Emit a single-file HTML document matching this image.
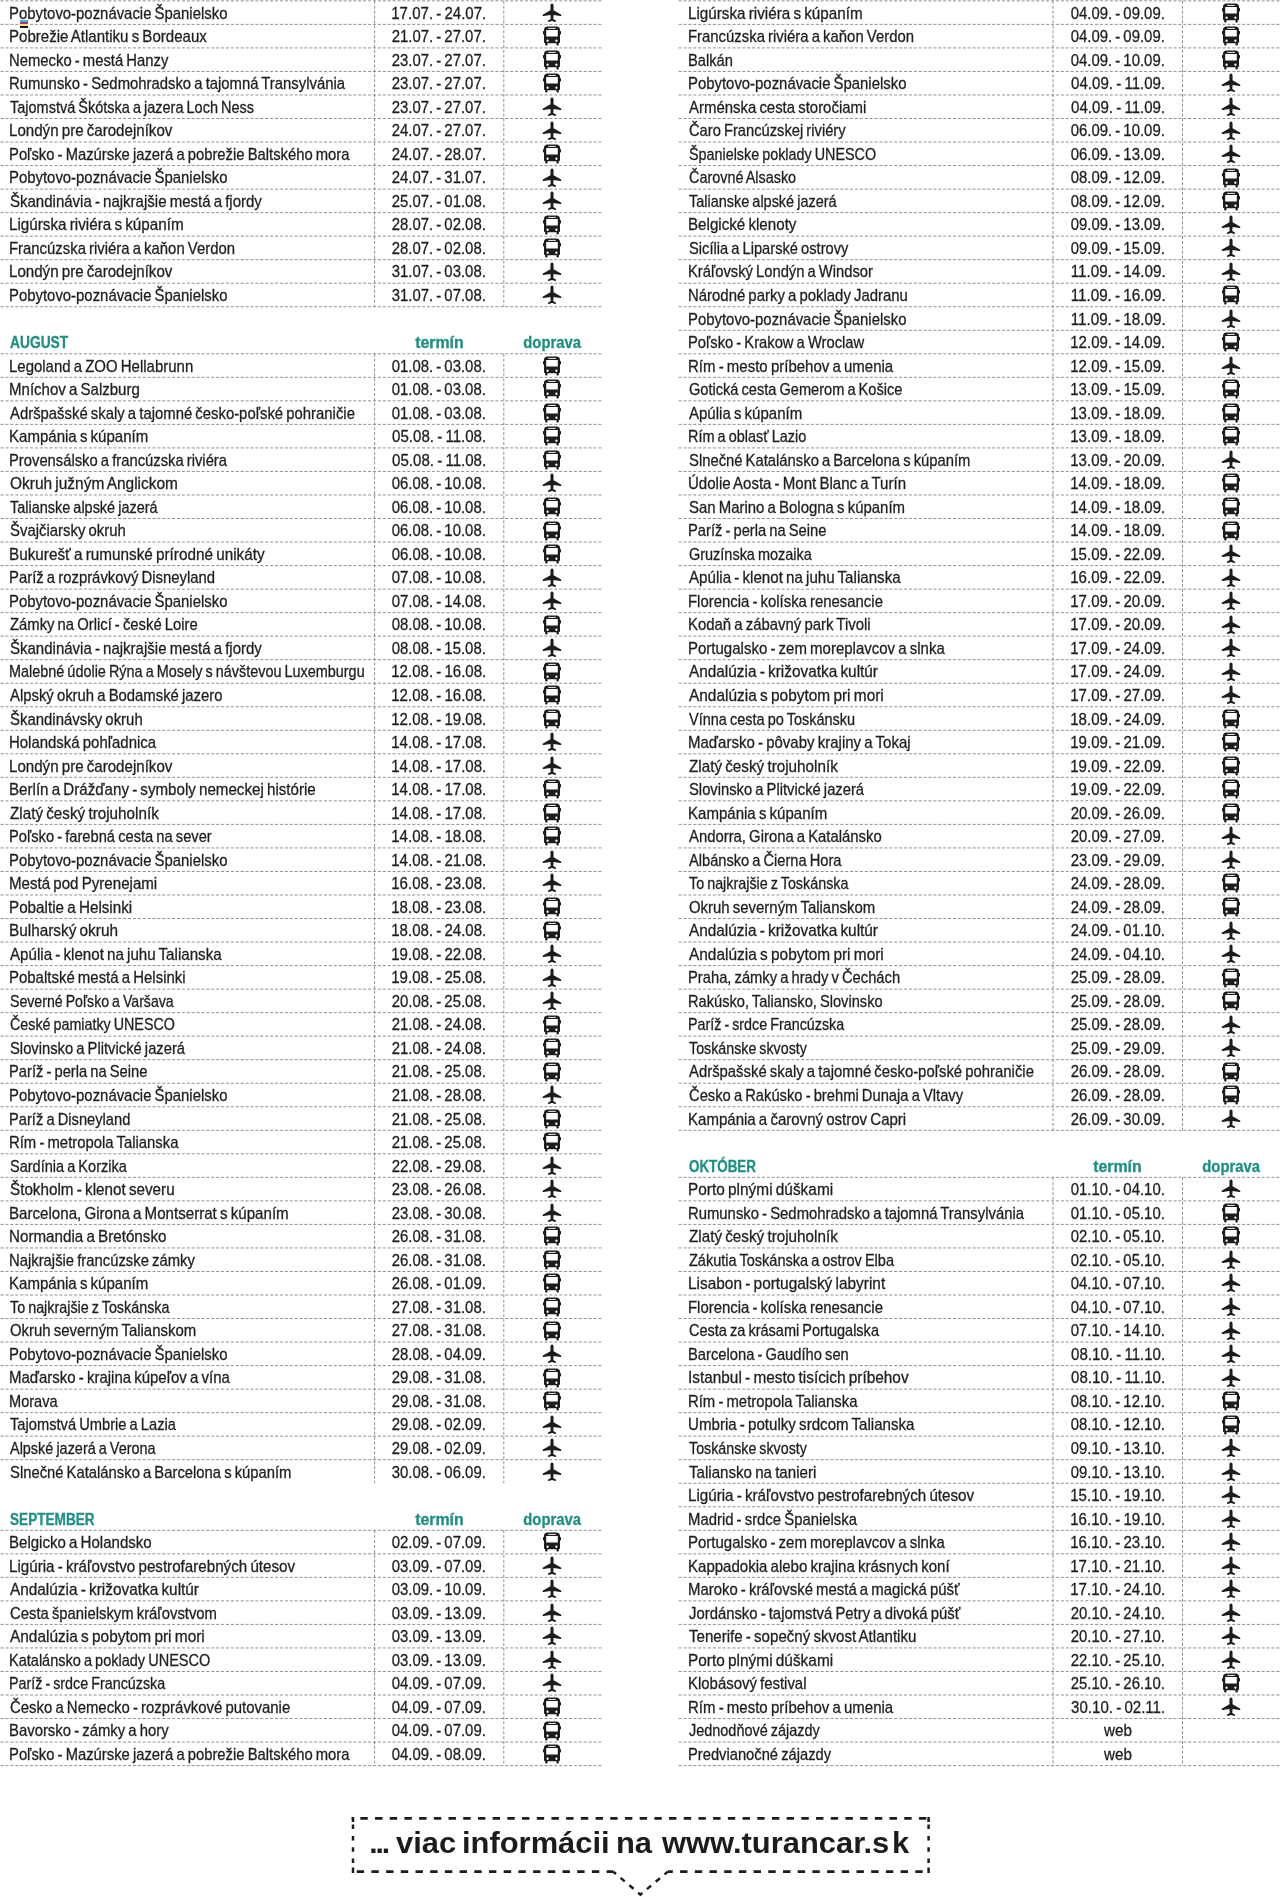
<!DOCTYPE html>
<html lang="sk"><head><meta charset="utf-8"><title>Turancar - termíny zájazdov</title>
<style>
html,body{margin:0;padding:0;background:#fff}
body{width:1280px;height:1897px;position:relative;overflow:hidden;font-family:"Liberation Sans",sans-serif;color:#1f1f1f}
#wrap{position:absolute;left:0;top:0;width:1280px;height:1897px;will-change:transform}
.grid{position:absolute;left:0;top:0;pointer-events:none;fill:none;stroke:#848484;stroke-width:.9;stroke-dasharray:3 1.9}
.row{position:absolute;height:23.53px;display:flex;white-space:nowrap}
.c{height:23.53px;position:relative;box-sizing:border-box;flex:none}
.d,.i{text-align:center}
.L .row{left:-0.8px}
.L .n{width:375.4px;padding-left:10.65px}
.L .d{width:129.2px}
.L .i{width:97.6px}
.R .row{left:678.6px}
.R .n{width:374.4px;padding-left:10.4px}
.R .d{width:129.5px}
.R .i{width:97.9px}

.t{display:inline-block;word-spacing:-1.1px;-webkit-text-stroke:0.3px currentColor;font-size:16.4px;line-height:23.53px;transform-origin:0 50%;position:relative;top:0.8px}
.d .t,.i .t{transform-origin:50% 50%}
.t.h{font-weight:bold;color:#1e8f83;font-size:16.0px;-webkit-text-stroke:.3px currentColor}
.ic{position:absolute;left:50%;top:0;width:20px;height:23.53px;margin-left:-10.2px;fill:#1c1c1c}
.cmyk{position:absolute;left:20px;top:20px;width:8px;height:8px}
.cmyk i{display:block;height:2px}
.banner{position:absolute;left:0;top:0}
.btxt{position:absolute;left:0;top:1823.4px;font-weight:bold;font-size:30px;line-height:40px;white-space:nowrap;color:#1c1c1c}
.btxt span{position:absolute;top:0}
.btxt .dots{left:369.3px;letter-spacing:-2.05px}
.btxt .bw{transform:scaleX(1.03);transform-origin:0 50%}
</style></head>
<body>
<div id="wrap">
<section class="tbl L">
<svg class="grid" width="1280" height="1897" viewBox="0 0 1280 1897"><line x1="601.4" y1="0.85" x2="-0.8" y2="0.85"/><line x1="601.4" y1="24.38" x2="-0.8" y2="24.38"/><line x1="601.4" y1="47.91" x2="-0.8" y2="47.91"/><line x1="601.4" y1="71.44" x2="-0.8" y2="71.44"/><line x1="601.4" y1="94.97" x2="-0.8" y2="94.97"/><line x1="601.4" y1="118.5" x2="-0.8" y2="118.5"/><line x1="601.4" y1="142.03" x2="-0.8" y2="142.03"/><line x1="601.4" y1="165.56" x2="-0.8" y2="165.56"/><line x1="601.4" y1="189.09" x2="-0.8" y2="189.09"/><line x1="601.4" y1="212.62" x2="-0.8" y2="212.62"/><line x1="601.4" y1="236.15" x2="-0.8" y2="236.15"/><line x1="601.4" y1="259.68" x2="-0.8" y2="259.68"/><line x1="601.4" y1="283.21" x2="-0.8" y2="283.21"/><line x1="601.4" y1="306.74" x2="-0.8" y2="306.74"/><line x1="374.6" y1="0.85" x2="374.6" y2="306.74"/><line x1="503.8" y1="0.85" x2="503.8" y2="306.74"/><line x1="601.4" y1="353.8" x2="-0.8" y2="353.8"/><line x1="601.4" y1="377.33" x2="-0.8" y2="377.33"/><line x1="601.4" y1="400.86" x2="-0.8" y2="400.86"/><line x1="601.4" y1="424.39" x2="-0.8" y2="424.39"/><line x1="601.4" y1="447.92" x2="-0.8" y2="447.92"/><line x1="601.4" y1="471.45" x2="-0.8" y2="471.45"/><line x1="601.4" y1="494.98" x2="-0.8" y2="494.98"/><line x1="601.4" y1="518.51" x2="-0.8" y2="518.51"/><line x1="601.4" y1="542.04" x2="-0.8" y2="542.04"/><line x1="601.4" y1="565.57" x2="-0.8" y2="565.57"/><line x1="601.4" y1="589.1" x2="-0.8" y2="589.1"/><line x1="601.4" y1="612.63" x2="-0.8" y2="612.63"/><line x1="601.4" y1="636.16" x2="-0.8" y2="636.16"/><line x1="601.4" y1="659.69" x2="-0.8" y2="659.69"/><line x1="601.4" y1="683.22" x2="-0.8" y2="683.22"/><line x1="601.4" y1="706.75" x2="-0.8" y2="706.75"/><line x1="601.4" y1="730.28" x2="-0.8" y2="730.28"/><line x1="601.4" y1="753.81" x2="-0.8" y2="753.81"/><line x1="601.4" y1="777.34" x2="-0.8" y2="777.34"/><line x1="601.4" y1="800.87" x2="-0.8" y2="800.87"/><line x1="601.4" y1="824.4" x2="-0.8" y2="824.4"/><line x1="601.4" y1="847.93" x2="-0.8" y2="847.93"/><line x1="601.4" y1="871.46" x2="-0.8" y2="871.46"/><line x1="601.4" y1="894.99" x2="-0.8" y2="894.99"/><line x1="601.4" y1="918.52" x2="-0.8" y2="918.52"/><line x1="601.4" y1="942.05" x2="-0.8" y2="942.05"/><line x1="601.4" y1="965.58" x2="-0.8" y2="965.58"/><line x1="601.4" y1="989.11" x2="-0.8" y2="989.11"/><line x1="601.4" y1="1012.64" x2="-0.8" y2="1012.64"/><line x1="601.4" y1="1036.17" x2="-0.8" y2="1036.17"/><line x1="601.4" y1="1059.7" x2="-0.8" y2="1059.7"/><line x1="601.4" y1="1083.23" x2="-0.8" y2="1083.23"/><line x1="601.4" y1="1106.76" x2="-0.8" y2="1106.76"/><line x1="601.4" y1="1130.29" x2="-0.8" y2="1130.29"/><line x1="601.4" y1="1153.82" x2="-0.8" y2="1153.82"/><line x1="601.4" y1="1177.35" x2="-0.8" y2="1177.35"/><line x1="601.4" y1="1200.88" x2="-0.8" y2="1200.88"/><line x1="601.4" y1="1224.41" x2="-0.8" y2="1224.41"/><line x1="601.4" y1="1247.94" x2="-0.8" y2="1247.94"/><line x1="601.4" y1="1271.47" x2="-0.8" y2="1271.47"/><line x1="601.4" y1="1295" x2="-0.8" y2="1295"/><line x1="601.4" y1="1318.53" x2="-0.8" y2="1318.53"/><line x1="601.4" y1="1342.06" x2="-0.8" y2="1342.06"/><line x1="601.4" y1="1365.59" x2="-0.8" y2="1365.59"/><line x1="601.4" y1="1389.12" x2="-0.8" y2="1389.12"/><line x1="601.4" y1="1412.65" x2="-0.8" y2="1412.65"/><line x1="601.4" y1="1436.18" x2="-0.8" y2="1436.18"/><line x1="601.4" y1="1459.71" x2="-0.8" y2="1459.71"/><line x1="374.6" y1="353.8" x2="374.6" y2="1483.24"/><line x1="503.8" y1="353.8" x2="503.8" y2="1483.24"/><line x1="601.4" y1="1530.3" x2="-0.8" y2="1530.3"/><line x1="601.4" y1="1553.83" x2="-0.8" y2="1553.83"/><line x1="601.4" y1="1577.36" x2="-0.8" y2="1577.36"/><line x1="601.4" y1="1600.89" x2="-0.8" y2="1600.89"/><line x1="601.4" y1="1624.42" x2="-0.8" y2="1624.42"/><line x1="601.4" y1="1647.95" x2="-0.8" y2="1647.95"/><line x1="601.4" y1="1671.48" x2="-0.8" y2="1671.48"/><line x1="601.4" y1="1695.01" x2="-0.8" y2="1695.01"/><line x1="601.4" y1="1718.54" x2="-0.8" y2="1718.54"/><line x1="601.4" y1="1742.07" x2="-0.8" y2="1742.07"/><line x1="601.4" y1="1765.6" x2="-0.8" y2="1765.6"/><line x1="374.6" y1="1530.3" x2="374.6" y2="1765.6"/><line x1="503.8" y1="1530.3" x2="503.8" y2="1765.6"/></svg>
<div class="row" style="top:0.85px"><div class="c n"><span class="t" style="transform:scaleX(0.9089);margin-left:-0.91px">Pobytovo-poznávacie Španielsko</span></div><div class="c d"><span class="t" style="transform:scaleX(0.9180)">17.07. - 24.07.</span></div><div class="c i"><svg class="ic" viewBox="0 0 20 23.53"><path transform="translate(0 .3)" d="M10 2.300C10.900 2.300 11.550 3.100 11.550 4.300V8.900L19 13.200C19.600 13.600 19.400 14.950 18.500 14.750L11.550 13.650 11.300 17.600 13.800 19.300C14.300 19.700 14.100 20.900 13.350 20.750L10 19.700 6.650 20.750C5.900 20.900 5.700 19.700 6.200 19.300L8.700 17.600 8.450 13.650 1.500 14.750C.6 14.950.4 13.600 1 13.200L8.450 8.900V4.300C8.450 3.100 9.100 2.300 10 2.300Z"/></svg></div></div>
<div class="row" style="top:24.38px"><div class="c n"><span class="t" style="transform:scaleX(0.9183);margin-left:-0.92px">Pobrežie Atlantiku s Bordeaux</span></div><div class="c d"><span class="t" style="transform:scaleX(0.9091)">21.07. - 27.07.</span></div><div class="c i"><svg class="ic" viewBox="0 0 20 23.53"><path fill-rule="evenodd" d="M5.600 2.400H14.400C16.700 2.400 18 3.700 18 5.600V7H18.500C18.800 7 19 7.200 19 7.500V10C19 10.300 18.800 10.500 18.500 10.500H18V18.100C18 18.800 17.500 19.300 16.800 19.300V20.700C16.800 21.150 16.450 21.500 16 21.500H15.300C14.850 21.500 14.500 21.150 14.500 20.700V19.300H5.500V20.700C5.500 21.150 5.150 21.500 4.700 21.500H4C3.550 21.500 3.200 21.150 3.200 20.700V19.300C2.500 19.300 2 18.800 2 18.100V10.500H1.500C1.200 10.500 1 10.300 1 10V7.500C1 7.200 1.200 7 1.500 7H2V5.600C2 3.700 3.300 2.400 5.600 2.400ZM4.200 6.100H15.800V12.400H4.200ZM5.600 15.600A1.150 1.150 0 1 0 5.600 17.900 1.150 1.150 0 1 0 5.600 15.600ZM14.400 15.600A1.150 1.150 0 1 0 14.400 17.900 1.150 1.150 0 1 0 14.400 15.600Z"/><rect x="6.200" y="3.900" width="7.600" height="1.100" fill="#d8d8d8"/></svg></div></div>
<div class="row" style="top:47.91px"><div class="c n"><span class="t" style="transform:scaleX(0.9047);margin-left:-0.9px">Nemecko - mestá Hanzy</span></div><div class="c d"><span class="t" style="transform:scaleX(0.9091)">23.07. - 27.07.</span></div><div class="c i"><svg class="ic" viewBox="0 0 20 23.53"><path fill-rule="evenodd" d="M5.600 2.400H14.400C16.700 2.400 18 3.700 18 5.600V7H18.500C18.800 7 19 7.200 19 7.500V10C19 10.300 18.800 10.500 18.500 10.500H18V18.100C18 18.800 17.500 19.300 16.800 19.300V20.700C16.800 21.150 16.450 21.500 16 21.500H15.300C14.850 21.500 14.500 21.150 14.500 20.700V19.300H5.500V20.700C5.500 21.150 5.150 21.500 4.700 21.500H4C3.550 21.500 3.200 21.150 3.200 20.700V19.300C2.500 19.300 2 18.800 2 18.100V10.500H1.500C1.200 10.500 1 10.300 1 10V7.500C1 7.200 1.200 7 1.500 7H2V5.600C2 3.700 3.300 2.400 5.600 2.400ZM4.200 6.100H15.800V12.400H4.200ZM5.600 15.600A1.150 1.150 0 1 0 5.600 17.900 1.150 1.150 0 1 0 5.600 15.600ZM14.400 15.600A1.150 1.150 0 1 0 14.400 17.900 1.150 1.150 0 1 0 14.400 15.600Z"/><rect x="6.200" y="3.900" width="7.600" height="1.100" fill="#d8d8d8"/></svg></div></div>
<div class="row" style="top:71.44px"><div class="c n"><span class="t" style="transform:scaleX(0.9062);margin-left:-0.91px">Rumunsko - Sedmohradsko a tajomná Transylvánia</span></div><div class="c d"><span class="t" style="transform:scaleX(0.9091)">23.07. - 27.07.</span></div><div class="c i"><svg class="ic" viewBox="0 0 20 23.53"><path fill-rule="evenodd" d="M5.600 2.400H14.400C16.700 2.400 18 3.700 18 5.600V7H18.500C18.800 7 19 7.200 19 7.500V10C19 10.300 18.800 10.500 18.500 10.500H18V18.100C18 18.800 17.500 19.300 16.800 19.300V20.700C16.800 21.150 16.450 21.500 16 21.500H15.300C14.850 21.500 14.500 21.150 14.500 20.700V19.300H5.500V20.700C5.500 21.150 5.150 21.500 4.700 21.500H4C3.550 21.500 3.200 21.150 3.200 20.700V19.300C2.500 19.300 2 18.800 2 18.100V10.500H1.500C1.200 10.500 1 10.300 1 10V7.500C1 7.200 1.200 7 1.500 7H2V5.600C2 3.700 3.300 2.400 5.600 2.400ZM4.200 6.100H15.800V12.400H4.200ZM5.600 15.600A1.150 1.150 0 1 0 5.600 17.900 1.150 1.150 0 1 0 5.600 15.600ZM14.400 15.600A1.150 1.150 0 1 0 14.400 17.900 1.150 1.150 0 1 0 14.400 15.600Z"/><rect x="6.200" y="3.900" width="7.600" height="1.100" fill="#d8d8d8"/></svg></div></div>
<div class="row" style="top:94.97px"><div class="c n"><span class="t" style="transform:scaleX(0.8843);margin-left:0px">Tajomstvá Škótska a jazera Loch Ness</span></div><div class="c d"><span class="t" style="transform:scaleX(0.9091)">23.07. - 27.07.</span></div><div class="c i"><svg class="ic" viewBox="0 0 20 23.53"><path transform="translate(0 .3)" d="M10 2.300C10.900 2.300 11.550 3.100 11.550 4.300V8.900L19 13.200C19.600 13.600 19.400 14.950 18.500 14.750L11.550 13.650 11.300 17.600 13.800 19.300C14.300 19.700 14.100 20.900 13.350 20.750L10 19.700 6.650 20.750C5.900 20.900 5.700 19.700 6.200 19.300L8.700 17.600 8.450 13.650 1.500 14.750C.6 14.950.4 13.600 1 13.200L8.450 8.900V4.300C8.450 3.100 9.100 2.300 10 2.300Z"/></svg></div></div>
<div class="row" style="top:118.5px"><div class="c n"><span class="t" style="transform:scaleX(0.9214);margin-left:-0.92px">Londýn pre čarodejníkov</span></div><div class="c d"><span class="t" style="transform:scaleX(0.9091)">24.07. - 27.07.</span></div><div class="c i"><svg class="ic" viewBox="0 0 20 23.53"><path transform="translate(0 .3)" d="M10 2.300C10.900 2.300 11.550 3.100 11.550 4.300V8.900L19 13.200C19.600 13.600 19.400 14.950 18.500 14.750L11.550 13.650 11.300 17.600 13.800 19.300C14.300 19.700 14.100 20.900 13.350 20.750L10 19.700 6.650 20.750C5.900 20.900 5.700 19.700 6.200 19.300L8.700 17.600 8.450 13.650 1.500 14.750C.6 14.950.4 13.600 1 13.200L8.450 8.900V4.300C8.450 3.100 9.100 2.300 10 2.300Z"/></svg></div></div>
<div class="row" style="top:142.03px"><div class="c n"><span class="t" style="transform:scaleX(0.9033);margin-left:-0.9px">Poľsko - Mazúrske jazerá a pobrežie Baltského mora</span></div><div class="c d"><span class="t" style="transform:scaleX(0.9091)">24.07. - 28.07.</span></div><div class="c i"><svg class="ic" viewBox="0 0 20 23.53"><path fill-rule="evenodd" d="M5.600 2.400H14.400C16.700 2.400 18 3.700 18 5.600V7H18.500C18.800 7 19 7.200 19 7.500V10C19 10.300 18.800 10.500 18.500 10.500H18V18.100C18 18.800 17.500 19.300 16.800 19.300V20.700C16.800 21.150 16.450 21.500 16 21.500H15.300C14.850 21.500 14.500 21.150 14.500 20.700V19.300H5.500V20.700C5.500 21.150 5.150 21.500 4.700 21.500H4C3.550 21.500 3.200 21.150 3.200 20.700V19.300C2.500 19.300 2 18.800 2 18.100V10.500H1.500C1.200 10.500 1 10.300 1 10V7.500C1 7.200 1.200 7 1.500 7H2V5.600C2 3.700 3.300 2.400 5.600 2.400ZM4.200 6.100H15.800V12.400H4.200ZM5.600 15.600A1.150 1.150 0 1 0 5.600 17.900 1.150 1.150 0 1 0 5.600 15.600ZM14.400 15.600A1.150 1.150 0 1 0 14.400 17.900 1.150 1.150 0 1 0 14.400 15.600Z"/><rect x="6.200" y="3.900" width="7.600" height="1.100" fill="#d8d8d8"/></svg></div></div>
<div class="row" style="top:165.56px"><div class="c n"><span class="t" style="transform:scaleX(0.9089);margin-left:-0.91px">Pobytovo-poznávacie Španielsko</span></div><div class="c d"><span class="t" style="transform:scaleX(0.9091)">24.07. - 31.07.</span></div><div class="c i"><svg class="ic" viewBox="0 0 20 23.53"><path transform="translate(0 .3)" d="M10 2.300C10.900 2.300 11.550 3.100 11.550 4.300V8.900L19 13.200C19.600 13.600 19.400 14.950 18.500 14.750L11.550 13.650 11.300 17.600 13.800 19.300C14.300 19.700 14.100 20.900 13.350 20.750L10 19.700 6.650 20.750C5.900 20.900 5.700 19.700 6.200 19.300L8.700 17.600 8.450 13.650 1.500 14.750C.6 14.950.4 13.600 1 13.200L8.450 8.900V4.300C8.450 3.100 9.100 2.300 10 2.300Z"/></svg></div></div>
<div class="row" style="top:189.09px"><div class="c n"><span class="t" style="transform:scaleX(0.9156);margin-left:0px">Škandinávia - najkrajšie mestá a fjordy</span></div><div class="c d"><span class="t" style="transform:scaleX(0.9091)">25.07. - 01.08.</span></div><div class="c i"><svg class="ic" viewBox="0 0 20 23.53"><path transform="translate(0 .3)" d="M10 2.300C10.900 2.300 11.550 3.100 11.550 4.300V8.900L19 13.200C19.600 13.600 19.400 14.950 18.500 14.750L11.550 13.650 11.300 17.600 13.800 19.300C14.300 19.700 14.100 20.900 13.350 20.750L10 19.700 6.650 20.750C5.900 20.900 5.700 19.700 6.200 19.300L8.700 17.600 8.450 13.650 1.500 14.750C.6 14.950.4 13.600 1 13.200L8.450 8.900V4.300C8.450 3.100 9.100 2.300 10 2.300Z"/></svg></div></div>
<div class="row" style="top:212.62px"><div class="c n"><span class="t" style="transform:scaleX(0.9286);margin-left:-0.93px">Ligúrska riviéra s kúpaním</span></div><div class="c d"><span class="t" style="transform:scaleX(0.9091)">28.07. - 02.08.</span></div><div class="c i"><svg class="ic" viewBox="0 0 20 23.53"><path fill-rule="evenodd" d="M5.600 2.400H14.400C16.700 2.400 18 3.700 18 5.600V7H18.500C18.800 7 19 7.200 19 7.500V10C19 10.300 18.800 10.500 18.500 10.500H18V18.100C18 18.800 17.500 19.300 16.800 19.300V20.700C16.800 21.150 16.450 21.500 16 21.500H15.300C14.850 21.500 14.500 21.150 14.500 20.700V19.300H5.500V20.700C5.500 21.150 5.150 21.500 4.700 21.500H4C3.550 21.500 3.200 21.150 3.200 20.700V19.300C2.500 19.300 2 18.800 2 18.100V10.500H1.500C1.200 10.500 1 10.300 1 10V7.500C1 7.200 1.200 7 1.500 7H2V5.600C2 3.700 3.300 2.400 5.600 2.400ZM4.200 6.100H15.800V12.400H4.200ZM5.600 15.600A1.150 1.150 0 1 0 5.600 17.900 1.150 1.150 0 1 0 5.600 15.600ZM14.400 15.600A1.150 1.150 0 1 0 14.400 17.900 1.150 1.150 0 1 0 14.400 15.600Z"/><rect x="6.200" y="3.900" width="7.600" height="1.100" fill="#d8d8d8"/></svg></div></div>
<div class="row" style="top:236.15px"><div class="c n"><span class="t" style="transform:scaleX(0.9079);margin-left:-0.91px">Francúzska riviéra a kaňon Verdon</span></div><div class="c d"><span class="t" style="transform:scaleX(0.9091)">28.07. - 02.08.</span></div><div class="c i"><svg class="ic" viewBox="0 0 20 23.53"><path fill-rule="evenodd" d="M5.600 2.400H14.400C16.700 2.400 18 3.700 18 5.600V7H18.500C18.800 7 19 7.200 19 7.500V10C19 10.300 18.800 10.500 18.500 10.500H18V18.100C18 18.800 17.500 19.300 16.800 19.300V20.700C16.800 21.150 16.450 21.500 16 21.500H15.300C14.850 21.500 14.500 21.150 14.500 20.700V19.300H5.500V20.700C5.500 21.150 5.150 21.500 4.700 21.500H4C3.550 21.500 3.200 21.150 3.200 20.700V19.300C2.500 19.300 2 18.800 2 18.100V10.500H1.500C1.200 10.500 1 10.300 1 10V7.500C1 7.200 1.200 7 1.500 7H2V5.600C2 3.700 3.300 2.400 5.600 2.400ZM4.200 6.100H15.800V12.400H4.200ZM5.600 15.600A1.150 1.150 0 1 0 5.600 17.900 1.150 1.150 0 1 0 5.600 15.600ZM14.400 15.600A1.150 1.150 0 1 0 14.400 17.900 1.150 1.150 0 1 0 14.400 15.600Z"/><rect x="6.200" y="3.900" width="7.600" height="1.100" fill="#d8d8d8"/></svg></div></div>
<div class="row" style="top:259.68px"><div class="c n"><span class="t" style="transform:scaleX(0.9214);margin-left:-0.92px">Londýn pre čarodejníkov</span></div><div class="c d"><span class="t" style="transform:scaleX(0.9091)">31.07. - 03.08.</span></div><div class="c i"><svg class="ic" viewBox="0 0 20 23.53"><path transform="translate(0 .3)" d="M10 2.300C10.900 2.300 11.550 3.100 11.550 4.300V8.900L19 13.200C19.600 13.600 19.400 14.950 18.500 14.750L11.550 13.650 11.300 17.600 13.800 19.300C14.300 19.700 14.100 20.900 13.350 20.750L10 19.700 6.650 20.750C5.900 20.900 5.700 19.700 6.200 19.300L8.700 17.600 8.450 13.650 1.500 14.750C.6 14.950.4 13.600 1 13.200L8.450 8.900V4.300C8.450 3.100 9.100 2.300 10 2.300Z"/></svg></div></div>
<div class="row" style="top:283.21px"><div class="c n"><span class="t" style="transform:scaleX(0.9089);margin-left:-0.91px">Pobytovo-poznávacie Španielsko</span></div><div class="c d"><span class="t" style="transform:scaleX(0.9091)">31.07. - 07.08.</span></div><div class="c i"><svg class="ic" viewBox="0 0 20 23.53"><path transform="translate(0 .3)" d="M10 2.300C10.900 2.300 11.550 3.100 11.550 4.300V8.900L19 13.200C19.600 13.600 19.400 14.950 18.500 14.750L11.550 13.650 11.300 17.600 13.800 19.300C14.300 19.700 14.100 20.900 13.350 20.750L10 19.700 6.650 20.750C5.900 20.900 5.700 19.700 6.200 19.300L8.700 17.600 8.450 13.650 1.500 14.750C.6 14.950.4 13.600 1 13.200L8.450 8.900V4.300C8.450 3.100 9.100 2.300 10 2.300Z"/></svg></div></div>
<div class="row hd" style="top:330.27px"><div class="c n"><span class="t h" style="transform:scaleX(0.8615);margin-left:0px">AUGUST</span></div><div class="c d"><span class="t h" style="transform:scaleX(0.9931)">termín</span></div><div class="c i"><span class="t h" style="transform:scaleX(0.9270)">doprava</span></div></div>
<div class="row" style="top:353.8px"><div class="c n"><span class="t" style="transform:scaleX(0.9132);margin-left:-0.91px">Legoland a ZOO Hellabrunn</span></div><div class="c d"><span class="t" style="transform:scaleX(0.9091)">01.08. - 03.08.</span></div><div class="c i"><svg class="ic" viewBox="0 0 20 23.53"><path fill-rule="evenodd" d="M5.600 2.400H14.400C16.700 2.400 18 3.700 18 5.600V7H18.500C18.800 7 19 7.200 19 7.500V10C19 10.300 18.800 10.500 18.500 10.500H18V18.100C18 18.800 17.500 19.300 16.800 19.300V20.700C16.800 21.150 16.450 21.500 16 21.500H15.300C14.850 21.500 14.500 21.150 14.500 20.700V19.300H5.500V20.700C5.500 21.150 5.150 21.500 4.700 21.500H4C3.550 21.500 3.200 21.150 3.200 20.700V19.300C2.500 19.300 2 18.800 2 18.100V10.500H1.500C1.200 10.500 1 10.300 1 10V7.500C1 7.200 1.200 7 1.500 7H2V5.600C2 3.700 3.300 2.400 5.600 2.400ZM4.200 6.100H15.800V12.400H4.200ZM5.600 15.600A1.150 1.150 0 1 0 5.600 17.900 1.150 1.150 0 1 0 5.600 15.600ZM14.400 15.600A1.150 1.150 0 1 0 14.400 17.900 1.150 1.150 0 1 0 14.400 15.600Z"/><rect x="6.200" y="3.900" width="7.600" height="1.100" fill="#d8d8d8"/></svg></div></div>
<div class="row" style="top:377.33px"><div class="c n"><span class="t" style="transform:scaleX(0.9170);margin-left:-0.92px">Mníchov a Salzburg</span></div><div class="c d"><span class="t" style="transform:scaleX(0.9091)">01.08. - 03.08.</span></div><div class="c i"><svg class="ic" viewBox="0 0 20 23.53"><path fill-rule="evenodd" d="M5.600 2.400H14.400C16.700 2.400 18 3.700 18 5.600V7H18.500C18.800 7 19 7.200 19 7.500V10C19 10.300 18.800 10.500 18.500 10.500H18V18.100C18 18.800 17.500 19.300 16.800 19.300V20.700C16.800 21.150 16.450 21.500 16 21.500H15.300C14.850 21.500 14.500 21.150 14.500 20.700V19.300H5.500V20.700C5.500 21.150 5.150 21.500 4.700 21.500H4C3.550 21.500 3.200 21.150 3.200 20.700V19.300C2.500 19.300 2 18.800 2 18.100V10.500H1.500C1.200 10.500 1 10.300 1 10V7.500C1 7.200 1.200 7 1.500 7H2V5.600C2 3.700 3.300 2.400 5.600 2.400ZM4.200 6.100H15.800V12.400H4.200ZM5.600 15.600A1.150 1.150 0 1 0 5.600 17.900 1.150 1.150 0 1 0 5.600 15.600ZM14.400 15.600A1.150 1.150 0 1 0 14.400 17.900 1.150 1.150 0 1 0 14.400 15.600Z"/><rect x="6.200" y="3.900" width="7.600" height="1.100" fill="#d8d8d8"/></svg></div></div>
<div class="row" style="top:400.86px"><div class="c n"><span class="t" style="transform:scaleX(0.9074);margin-left:0px">Adršpašské skaly a tajomné česko-poľské pohraničie</span></div><div class="c d"><span class="t" style="transform:scaleX(0.9091)">01.08. - 03.08.</span></div><div class="c i"><svg class="ic" viewBox="0 0 20 23.53"><path fill-rule="evenodd" d="M5.600 2.400H14.400C16.700 2.400 18 3.700 18 5.600V7H18.500C18.800 7 19 7.200 19 7.500V10C19 10.300 18.800 10.500 18.500 10.500H18V18.100C18 18.800 17.500 19.300 16.800 19.300V20.700C16.800 21.150 16.450 21.500 16 21.500H15.300C14.850 21.500 14.500 21.150 14.500 20.700V19.300H5.500V20.700C5.500 21.150 5.150 21.500 4.700 21.500H4C3.550 21.500 3.200 21.150 3.200 20.700V19.300C2.500 19.300 2 18.800 2 18.100V10.500H1.500C1.200 10.500 1 10.300 1 10V7.500C1 7.200 1.200 7 1.500 7H2V5.600C2 3.700 3.300 2.400 5.600 2.400ZM4.200 6.100H15.800V12.400H4.200ZM5.600 15.600A1.150 1.150 0 1 0 5.600 17.900 1.150 1.150 0 1 0 5.600 15.600ZM14.400 15.600A1.150 1.150 0 1 0 14.400 17.900 1.150 1.150 0 1 0 14.400 15.600Z"/><rect x="6.200" y="3.900" width="7.600" height="1.100" fill="#d8d8d8"/></svg></div></div>
<div class="row" style="top:424.39px"><div class="c n"><span class="t" style="transform:scaleX(0.9176);margin-left:-0.92px">Kampánia s kúpaním</span></div><div class="c d"><span class="t" style="transform:scaleX(0.9200)">05.08. - 11.08.</span></div><div class="c i"><svg class="ic" viewBox="0 0 20 23.53"><path fill-rule="evenodd" d="M5.600 2.400H14.400C16.700 2.400 18 3.700 18 5.600V7H18.500C18.800 7 19 7.200 19 7.500V10C19 10.300 18.800 10.500 18.500 10.500H18V18.100C18 18.800 17.500 19.300 16.800 19.300V20.700C16.800 21.150 16.450 21.500 16 21.500H15.300C14.850 21.500 14.500 21.150 14.500 20.700V19.300H5.500V20.700C5.500 21.150 5.150 21.500 4.700 21.500H4C3.550 21.500 3.200 21.150 3.200 20.700V19.300C2.500 19.300 2 18.800 2 18.100V10.500H1.500C1.200 10.500 1 10.300 1 10V7.500C1 7.200 1.200 7 1.500 7H2V5.600C2 3.700 3.300 2.400 5.600 2.400ZM4.200 6.100H15.800V12.400H4.200ZM5.600 15.600A1.150 1.150 0 1 0 5.600 17.900 1.150 1.150 0 1 0 5.600 15.600ZM14.400 15.600A1.150 1.150 0 1 0 14.400 17.900 1.150 1.150 0 1 0 14.400 15.600Z"/><rect x="6.200" y="3.900" width="7.600" height="1.100" fill="#d8d8d8"/></svg></div></div>
<div class="row" style="top:447.92px"><div class="c n"><span class="t" style="transform:scaleX(0.9017);margin-left:-0.9px">Provensálsko a francúzska riviéra</span></div><div class="c d"><span class="t" style="transform:scaleX(0.9200)">05.08. - 11.08.</span></div><div class="c i"><svg class="ic" viewBox="0 0 20 23.53"><path fill-rule="evenodd" d="M5.600 2.400H14.400C16.700 2.400 18 3.700 18 5.600V7H18.500C18.800 7 19 7.200 19 7.500V10C19 10.300 18.800 10.500 18.500 10.500H18V18.100C18 18.800 17.500 19.300 16.800 19.300V20.700C16.800 21.150 16.450 21.500 16 21.500H15.300C14.850 21.500 14.500 21.150 14.500 20.700V19.300H5.500V20.700C5.500 21.150 5.150 21.500 4.700 21.500H4C3.550 21.500 3.200 21.150 3.200 20.700V19.300C2.500 19.300 2 18.800 2 18.100V10.500H1.500C1.200 10.500 1 10.300 1 10V7.500C1 7.200 1.200 7 1.500 7H2V5.600C2 3.700 3.300 2.400 5.600 2.400ZM4.200 6.100H15.800V12.400H4.200ZM5.600 15.600A1.150 1.150 0 1 0 5.600 17.900 1.150 1.150 0 1 0 5.600 15.600ZM14.400 15.600A1.150 1.150 0 1 0 14.400 17.900 1.150 1.150 0 1 0 14.400 15.600Z"/><rect x="6.200" y="3.900" width="7.600" height="1.100" fill="#d8d8d8"/></svg></div></div>
<div class="row" style="top:471.45px"><div class="c n"><span class="t" style="transform:scaleX(0.9424);margin-left:0px">Okruh južným Anglickom</span></div><div class="c d"><span class="t" style="transform:scaleX(0.9091)">06.08. - 10.08.</span></div><div class="c i"><svg class="ic" viewBox="0 0 20 23.53"><path transform="translate(0 .3)" d="M10 2.300C10.900 2.300 11.550 3.100 11.550 4.300V8.900L19 13.200C19.600 13.600 19.400 14.950 18.500 14.750L11.550 13.650 11.300 17.600 13.800 19.300C14.300 19.700 14.100 20.900 13.350 20.750L10 19.700 6.650 20.750C5.900 20.900 5.700 19.700 6.200 19.300L8.700 17.600 8.450 13.650 1.500 14.750C.6 14.950.4 13.600 1 13.200L8.450 8.900V4.300C8.450 3.100 9.100 2.300 10 2.300Z"/></svg></div></div>
<div class="row" style="top:494.98px"><div class="c n"><span class="t" style="transform:scaleX(0.8824);margin-left:0px">Talianske alpské jazerá</span></div><div class="c d"><span class="t" style="transform:scaleX(0.9091)">06.08. - 10.08.</span></div><div class="c i"><svg class="ic" viewBox="0 0 20 23.53"><path fill-rule="evenodd" d="M5.600 2.400H14.400C16.700 2.400 18 3.700 18 5.600V7H18.500C18.800 7 19 7.200 19 7.500V10C19 10.300 18.800 10.500 18.500 10.500H18V18.100C18 18.800 17.500 19.300 16.800 19.300V20.700C16.800 21.150 16.450 21.500 16 21.500H15.300C14.850 21.500 14.500 21.150 14.500 20.700V19.300H5.500V20.700C5.500 21.150 5.150 21.500 4.700 21.500H4C3.550 21.500 3.200 21.150 3.200 20.700V19.300C2.500 19.300 2 18.800 2 18.100V10.500H1.500C1.200 10.500 1 10.300 1 10V7.500C1 7.200 1.200 7 1.500 7H2V5.600C2 3.700 3.300 2.400 5.600 2.400ZM4.200 6.100H15.800V12.400H4.200ZM5.600 15.600A1.150 1.150 0 1 0 5.600 17.900 1.150 1.150 0 1 0 5.600 15.600ZM14.400 15.600A1.150 1.150 0 1 0 14.400 17.900 1.150 1.150 0 1 0 14.400 15.600Z"/><rect x="6.200" y="3.900" width="7.600" height="1.100" fill="#d8d8d8"/></svg></div></div>
<div class="row" style="top:518.51px"><div class="c n"><span class="t" style="transform:scaleX(0.9094);margin-left:0px">Švajčiarsky okruh</span></div><div class="c d"><span class="t" style="transform:scaleX(0.9091)">06.08. - 10.08.</span></div><div class="c i"><svg class="ic" viewBox="0 0 20 23.53"><path fill-rule="evenodd" d="M5.600 2.400H14.400C16.700 2.400 18 3.700 18 5.600V7H18.500C18.800 7 19 7.200 19 7.500V10C19 10.300 18.800 10.500 18.500 10.500H18V18.100C18 18.800 17.500 19.300 16.800 19.300V20.700C16.800 21.150 16.450 21.500 16 21.500H15.300C14.850 21.500 14.500 21.150 14.500 20.700V19.300H5.500V20.700C5.500 21.150 5.150 21.500 4.700 21.500H4C3.550 21.500 3.200 21.150 3.200 20.700V19.300C2.500 19.300 2 18.800 2 18.100V10.500H1.500C1.200 10.500 1 10.300 1 10V7.500C1 7.200 1.200 7 1.500 7H2V5.600C2 3.700 3.300 2.400 5.600 2.400ZM4.200 6.100H15.800V12.400H4.200ZM5.600 15.600A1.150 1.150 0 1 0 5.600 17.900 1.150 1.150 0 1 0 5.600 15.600ZM14.400 15.600A1.150 1.150 0 1 0 14.400 17.900 1.150 1.150 0 1 0 14.400 15.600Z"/><rect x="6.200" y="3.900" width="7.600" height="1.100" fill="#d8d8d8"/></svg></div></div>
<div class="row" style="top:542.04px"><div class="c n"><span class="t" style="transform:scaleX(0.9322);margin-left:-0.93px">Bukurešť a rumunské prírodné unikáty</span></div><div class="c d"><span class="t" style="transform:scaleX(0.9091)">06.08. - 10.08.</span></div><div class="c i"><svg class="ic" viewBox="0 0 20 23.53"><path fill-rule="evenodd" d="M5.600 2.400H14.400C16.700 2.400 18 3.700 18 5.600V7H18.500C18.800 7 19 7.200 19 7.500V10C19 10.300 18.800 10.500 18.500 10.500H18V18.100C18 18.800 17.500 19.300 16.800 19.300V20.700C16.800 21.150 16.450 21.500 16 21.500H15.300C14.850 21.500 14.500 21.150 14.500 20.700V19.300H5.500V20.700C5.500 21.150 5.150 21.500 4.700 21.500H4C3.550 21.500 3.200 21.150 3.200 20.700V19.300C2.500 19.300 2 18.800 2 18.100V10.500H1.500C1.200 10.500 1 10.300 1 10V7.500C1 7.200 1.200 7 1.500 7H2V5.600C2 3.700 3.300 2.400 5.600 2.400ZM4.200 6.100H15.800V12.400H4.200ZM5.600 15.600A1.150 1.150 0 1 0 5.600 17.900 1.150 1.150 0 1 0 5.600 15.600ZM14.400 15.600A1.150 1.150 0 1 0 14.400 17.900 1.150 1.150 0 1 0 14.400 15.600Z"/><rect x="6.200" y="3.900" width="7.600" height="1.100" fill="#d8d8d8"/></svg></div></div>
<div class="row" style="top:565.57px"><div class="c n"><span class="t" style="transform:scaleX(0.9072);margin-left:-0.91px">Paríž a rozprávkový Disneyland</span></div><div class="c d"><span class="t" style="transform:scaleX(0.9091)">07.08. - 10.08.</span></div><div class="c i"><svg class="ic" viewBox="0 0 20 23.53"><path transform="translate(0 .3)" d="M10 2.300C10.900 2.300 11.550 3.100 11.550 4.300V8.900L19 13.200C19.600 13.600 19.400 14.950 18.500 14.750L11.550 13.650 11.300 17.600 13.800 19.300C14.300 19.700 14.100 20.900 13.350 20.750L10 19.700 6.650 20.750C5.900 20.900 5.700 19.700 6.200 19.300L8.700 17.600 8.450 13.650 1.500 14.750C.6 14.950.4 13.600 1 13.200L8.450 8.900V4.300C8.450 3.100 9.100 2.300 10 2.300Z"/></svg></div></div>
<div class="row" style="top:589.1px"><div class="c n"><span class="t" style="transform:scaleX(0.9089);margin-left:-0.91px">Pobytovo-poznávacie Španielsko</span></div><div class="c d"><span class="t" style="transform:scaleX(0.9091)">07.08. - 14.08.</span></div><div class="c i"><svg class="ic" viewBox="0 0 20 23.53"><path transform="translate(0 .3)" d="M10 2.300C10.900 2.300 11.550 3.100 11.550 4.300V8.900L19 13.200C19.600 13.600 19.400 14.950 18.500 14.750L11.550 13.650 11.300 17.600 13.800 19.300C14.300 19.700 14.100 20.900 13.350 20.750L10 19.700 6.650 20.750C5.900 20.900 5.700 19.700 6.200 19.300L8.700 17.600 8.450 13.650 1.500 14.750C.6 14.950.4 13.600 1 13.200L8.450 8.900V4.300C8.450 3.100 9.100 2.300 10 2.300Z"/></svg></div></div>
<div class="row" style="top:612.63px"><div class="c n"><span class="t" style="transform:scaleX(0.9040);margin-left:0px">Zámky na Orlicí - české Loire</span></div><div class="c d"><span class="t" style="transform:scaleX(0.9091)">08.08. - 10.08.</span></div><div class="c i"><svg class="ic" viewBox="0 0 20 23.53"><path fill-rule="evenodd" d="M5.600 2.400H14.400C16.700 2.400 18 3.700 18 5.600V7H18.500C18.800 7 19 7.200 19 7.500V10C19 10.300 18.800 10.500 18.500 10.500H18V18.100C18 18.800 17.500 19.300 16.800 19.300V20.700C16.800 21.150 16.450 21.500 16 21.500H15.300C14.850 21.500 14.500 21.150 14.500 20.700V19.300H5.500V20.700C5.500 21.150 5.150 21.500 4.700 21.500H4C3.550 21.500 3.200 21.150 3.200 20.700V19.300C2.500 19.300 2 18.800 2 18.100V10.500H1.500C1.200 10.500 1 10.300 1 10V7.500C1 7.200 1.200 7 1.500 7H2V5.600C2 3.700 3.300 2.400 5.600 2.400ZM4.200 6.100H15.800V12.400H4.200ZM5.600 15.600A1.150 1.150 0 1 0 5.600 17.900 1.150 1.150 0 1 0 5.600 15.600ZM14.400 15.600A1.150 1.150 0 1 0 14.400 17.900 1.150 1.150 0 1 0 14.400 15.600Z"/><rect x="6.200" y="3.900" width="7.600" height="1.100" fill="#d8d8d8"/></svg></div></div>
<div class="row" style="top:636.16px"><div class="c n"><span class="t" style="transform:scaleX(0.9156);margin-left:0px">Škandinávia - najkrajšie mestá a fjordy</span></div><div class="c d"><span class="t" style="transform:scaleX(0.9091)">08.08. - 15.08.</span></div><div class="c i"><svg class="ic" viewBox="0 0 20 23.53"><path transform="translate(0 .3)" d="M10 2.300C10.900 2.300 11.550 3.100 11.550 4.300V8.900L19 13.200C19.600 13.600 19.400 14.950 18.500 14.750L11.550 13.650 11.300 17.600 13.800 19.300C14.300 19.700 14.100 20.900 13.350 20.750L10 19.700 6.650 20.750C5.900 20.900 5.700 19.700 6.200 19.300L8.700 17.600 8.450 13.650 1.500 14.750C.6 14.950.4 13.600 1 13.200L8.450 8.900V4.300C8.450 3.100 9.100 2.300 10 2.300Z"/></svg></div></div>
<div class="row" style="top:659.69px"><div class="c n"><span class="t" style="transform:scaleX(0.8801);margin-left:-0.88px">Malebné údolie Rýna a Mosely s návštevou Luxemburgu</span></div><div class="c d"><span class="t" style="transform:scaleX(0.9180)">12.08. - 16.08.</span></div><div class="c i"><svg class="ic" viewBox="0 0 20 23.53"><path fill-rule="evenodd" d="M5.600 2.400H14.400C16.700 2.400 18 3.700 18 5.600V7H18.500C18.800 7 19 7.200 19 7.500V10C19 10.300 18.800 10.500 18.500 10.500H18V18.100C18 18.800 17.500 19.300 16.800 19.300V20.700C16.800 21.150 16.450 21.500 16 21.500H15.300C14.850 21.500 14.500 21.150 14.500 20.700V19.300H5.500V20.700C5.500 21.150 5.150 21.500 4.700 21.500H4C3.550 21.500 3.200 21.150 3.200 20.700V19.300C2.500 19.300 2 18.800 2 18.100V10.500H1.500C1.200 10.500 1 10.300 1 10V7.500C1 7.200 1.200 7 1.500 7H2V5.600C2 3.700 3.300 2.400 5.600 2.400ZM4.200 6.100H15.800V12.400H4.200ZM5.600 15.600A1.150 1.150 0 1 0 5.600 17.900 1.150 1.150 0 1 0 5.600 15.600ZM14.400 15.600A1.150 1.150 0 1 0 14.400 17.900 1.150 1.150 0 1 0 14.400 15.600Z"/><rect x="6.200" y="3.900" width="7.600" height="1.100" fill="#d8d8d8"/></svg></div></div>
<div class="row" style="top:683.22px"><div class="c n"><span class="t" style="transform:scaleX(0.9070);margin-left:0px">Alpský okruh a Bodamské jazero</span></div><div class="c d"><span class="t" style="transform:scaleX(0.9180)">12.08. - 16.08.</span></div><div class="c i"><svg class="ic" viewBox="0 0 20 23.53"><path fill-rule="evenodd" d="M5.600 2.400H14.400C16.700 2.400 18 3.700 18 5.600V7H18.500C18.800 7 19 7.200 19 7.500V10C19 10.300 18.800 10.500 18.500 10.500H18V18.100C18 18.800 17.500 19.300 16.800 19.300V20.700C16.800 21.150 16.450 21.500 16 21.500H15.300C14.850 21.500 14.500 21.150 14.500 20.700V19.300H5.500V20.700C5.500 21.150 5.150 21.500 4.700 21.500H4C3.550 21.500 3.200 21.150 3.200 20.700V19.300C2.500 19.300 2 18.800 2 18.100V10.500H1.500C1.200 10.500 1 10.300 1 10V7.500C1 7.200 1.200 7 1.500 7H2V5.600C2 3.700 3.300 2.400 5.600 2.400ZM4.200 6.100H15.800V12.400H4.200ZM5.600 15.600A1.150 1.150 0 1 0 5.600 17.900 1.150 1.150 0 1 0 5.600 15.600ZM14.400 15.600A1.150 1.150 0 1 0 14.400 17.900 1.150 1.150 0 1 0 14.400 15.600Z"/><rect x="6.200" y="3.900" width="7.600" height="1.100" fill="#d8d8d8"/></svg></div></div>
<div class="row" style="top:706.75px"><div class="c n"><span class="t" style="transform:scaleX(0.9115);margin-left:0px">Škandinávsky okruh</span></div><div class="c d"><span class="t" style="transform:scaleX(0.9180)">12.08. - 19.08.</span></div><div class="c i"><svg class="ic" viewBox="0 0 20 23.53"><path fill-rule="evenodd" d="M5.600 2.400H14.400C16.700 2.400 18 3.700 18 5.600V7H18.500C18.800 7 19 7.200 19 7.500V10C19 10.300 18.800 10.500 18.500 10.500H18V18.100C18 18.800 17.500 19.300 16.800 19.300V20.700C16.800 21.150 16.450 21.500 16 21.500H15.300C14.850 21.500 14.500 21.150 14.500 20.700V19.300H5.500V20.700C5.500 21.150 5.150 21.500 4.700 21.500H4C3.550 21.500 3.200 21.150 3.200 20.700V19.300C2.500 19.300 2 18.800 2 18.100V10.500H1.500C1.200 10.500 1 10.300 1 10V7.500C1 7.200 1.200 7 1.500 7H2V5.600C2 3.700 3.300 2.400 5.600 2.400ZM4.200 6.100H15.800V12.400H4.200ZM5.600 15.600A1.150 1.150 0 1 0 5.600 17.900 1.150 1.150 0 1 0 5.600 15.600ZM14.400 15.600A1.150 1.150 0 1 0 14.400 17.900 1.150 1.150 0 1 0 14.400 15.600Z"/><rect x="6.200" y="3.900" width="7.600" height="1.100" fill="#d8d8d8"/></svg></div></div>
<div class="row" style="top:730.28px"><div class="c n"><span class="t" style="transform:scaleX(0.9118);margin-left:-0.91px">Holandská pohľadnica</span></div><div class="c d"><span class="t" style="transform:scaleX(0.9180)">14.08. - 17.08.</span></div><div class="c i"><svg class="ic" viewBox="0 0 20 23.53"><path transform="translate(0 .3)" d="M10 2.300C10.900 2.300 11.550 3.100 11.550 4.300V8.900L19 13.200C19.600 13.600 19.400 14.950 18.500 14.750L11.550 13.650 11.300 17.600 13.800 19.300C14.300 19.700 14.100 20.900 13.350 20.750L10 19.700 6.650 20.750C5.900 20.900 5.700 19.700 6.200 19.300L8.700 17.600 8.450 13.650 1.500 14.750C.6 14.950.4 13.600 1 13.200L8.450 8.900V4.300C8.450 3.100 9.100 2.300 10 2.300Z"/></svg></div></div>
<div class="row" style="top:753.81px"><div class="c n"><span class="t" style="transform:scaleX(0.9214);margin-left:-0.92px">Londýn pre čarodejníkov</span></div><div class="c d"><span class="t" style="transform:scaleX(0.9180)">14.08. - 17.08.</span></div><div class="c i"><svg class="ic" viewBox="0 0 20 23.53"><path transform="translate(0 .3)" d="M10 2.300C10.900 2.300 11.550 3.100 11.550 4.300V8.900L19 13.200C19.600 13.600 19.400 14.950 18.500 14.750L11.550 13.650 11.300 17.600 13.800 19.300C14.300 19.700 14.100 20.900 13.350 20.750L10 19.700 6.650 20.750C5.900 20.900 5.700 19.700 6.200 19.300L8.700 17.600 8.450 13.650 1.500 14.750C.6 14.950.4 13.600 1 13.200L8.450 8.900V4.300C8.450 3.100 9.100 2.300 10 2.300Z"/></svg></div></div>
<div class="row" style="top:777.34px"><div class="c n"><span class="t" style="transform:scaleX(0.9230);margin-left:-0.92px">Berlín a Drážďany - symboly nemeckej histórie</span></div><div class="c d"><span class="t" style="transform:scaleX(0.9180)">14.08. - 17.08.</span></div><div class="c i"><svg class="ic" viewBox="0 0 20 23.53"><path fill-rule="evenodd" d="M5.600 2.400H14.400C16.700 2.400 18 3.700 18 5.600V7H18.500C18.800 7 19 7.200 19 7.500V10C19 10.300 18.800 10.500 18.500 10.500H18V18.100C18 18.800 17.500 19.300 16.800 19.300V20.700C16.800 21.150 16.450 21.500 16 21.500H15.300C14.850 21.500 14.500 21.150 14.500 20.700V19.300H5.500V20.700C5.500 21.150 5.150 21.500 4.700 21.500H4C3.550 21.500 3.200 21.150 3.200 20.700V19.300C2.500 19.300 2 18.800 2 18.100V10.500H1.500C1.200 10.500 1 10.300 1 10V7.500C1 7.200 1.200 7 1.500 7H2V5.600C2 3.700 3.300 2.400 5.600 2.400ZM4.200 6.100H15.800V12.400H4.200ZM5.600 15.600A1.150 1.150 0 1 0 5.600 17.900 1.150 1.150 0 1 0 5.600 15.600ZM14.400 15.600A1.150 1.150 0 1 0 14.400 17.900 1.150 1.150 0 1 0 14.400 15.600Z"/><rect x="6.200" y="3.900" width="7.600" height="1.100" fill="#d8d8d8"/></svg></div></div>
<div class="row" style="top:800.87px"><div class="c n"><span class="t" style="transform:scaleX(0.9300);margin-left:0px">Zlatý český trojuholník</span></div><div class="c d"><span class="t" style="transform:scaleX(0.9180)">14.08. - 17.08.</span></div><div class="c i"><svg class="ic" viewBox="0 0 20 23.53"><path fill-rule="evenodd" d="M5.600 2.400H14.400C16.700 2.400 18 3.700 18 5.600V7H18.500C18.800 7 19 7.200 19 7.500V10C19 10.300 18.800 10.500 18.500 10.500H18V18.100C18 18.800 17.500 19.300 16.800 19.300V20.700C16.800 21.150 16.450 21.500 16 21.500H15.300C14.850 21.500 14.500 21.150 14.500 20.700V19.300H5.500V20.700C5.500 21.150 5.150 21.500 4.700 21.500H4C3.550 21.500 3.200 21.150 3.200 20.700V19.300C2.500 19.300 2 18.800 2 18.100V10.500H1.500C1.200 10.500 1 10.300 1 10V7.500C1 7.200 1.200 7 1.500 7H2V5.600C2 3.700 3.300 2.400 5.600 2.400ZM4.200 6.100H15.800V12.400H4.200ZM5.600 15.600A1.150 1.150 0 1 0 5.600 17.900 1.150 1.150 0 1 0 5.600 15.600ZM14.400 15.600A1.150 1.150 0 1 0 14.400 17.900 1.150 1.150 0 1 0 14.400 15.600Z"/><rect x="6.200" y="3.900" width="7.600" height="1.100" fill="#d8d8d8"/></svg></div></div>
<div class="row" style="top:824.4px"><div class="c n"><span class="t" style="transform:scaleX(0.8964);margin-left:-0.9px">Poľsko - farebná cesta na sever</span></div><div class="c d"><span class="t" style="transform:scaleX(0.9180)">14.08. - 18.08.</span></div><div class="c i"><svg class="ic" viewBox="0 0 20 23.53"><path fill-rule="evenodd" d="M5.600 2.400H14.400C16.700 2.400 18 3.700 18 5.600V7H18.500C18.800 7 19 7.200 19 7.500V10C19 10.300 18.800 10.500 18.500 10.500H18V18.100C18 18.800 17.500 19.300 16.800 19.300V20.700C16.800 21.150 16.450 21.500 16 21.500H15.300C14.850 21.500 14.500 21.150 14.500 20.700V19.300H5.500V20.700C5.500 21.150 5.150 21.500 4.700 21.500H4C3.550 21.500 3.200 21.150 3.200 20.700V19.300C2.500 19.300 2 18.800 2 18.100V10.500H1.500C1.200 10.500 1 10.300 1 10V7.500C1 7.200 1.200 7 1.500 7H2V5.600C2 3.700 3.300 2.400 5.600 2.400ZM4.200 6.100H15.800V12.400H4.200ZM5.600 15.600A1.150 1.150 0 1 0 5.600 17.900 1.150 1.150 0 1 0 5.600 15.600ZM14.400 15.600A1.150 1.150 0 1 0 14.400 17.900 1.150 1.150 0 1 0 14.400 15.600Z"/><rect x="6.200" y="3.900" width="7.600" height="1.100" fill="#d8d8d8"/></svg></div></div>
<div class="row" style="top:847.93px"><div class="c n"><span class="t" style="transform:scaleX(0.9089);margin-left:-0.91px">Pobytovo-poznávacie Španielsko</span></div><div class="c d"><span class="t" style="transform:scaleX(0.9180)">14.08. - 21.08.</span></div><div class="c i"><svg class="ic" viewBox="0 0 20 23.53"><path transform="translate(0 .3)" d="M10 2.300C10.900 2.300 11.550 3.100 11.550 4.300V8.900L19 13.200C19.600 13.600 19.400 14.950 18.500 14.750L11.550 13.650 11.300 17.600 13.800 19.300C14.300 19.700 14.100 20.900 13.350 20.750L10 19.700 6.650 20.750C5.900 20.900 5.700 19.700 6.200 19.300L8.700 17.600 8.450 13.650 1.500 14.750C.6 14.950.4 13.600 1 13.200L8.450 8.900V4.300C8.450 3.100 9.100 2.300 10 2.300Z"/></svg></div></div>
<div class="row" style="top:871.46px"><div class="c n"><span class="t" style="transform:scaleX(0.9213);margin-left:-0.92px">Mestá pod Pyrenejami</span></div><div class="c d"><span class="t" style="transform:scaleX(0.9180)">16.08. - 23.08.</span></div><div class="c i"><svg class="ic" viewBox="0 0 20 23.53"><path transform="translate(0 .3)" d="M10 2.300C10.900 2.300 11.550 3.100 11.550 4.300V8.900L19 13.200C19.600 13.600 19.400 14.950 18.500 14.750L11.550 13.650 11.300 17.600 13.800 19.300C14.300 19.700 14.100 20.900 13.350 20.750L10 19.700 6.650 20.750C5.900 20.900 5.700 19.700 6.200 19.300L8.700 17.600 8.450 13.650 1.500 14.750C.6 14.950.4 13.600 1 13.200L8.450 8.900V4.300C8.450 3.100 9.100 2.300 10 2.300Z"/></svg></div></div>
<div class="row" style="top:894.99px"><div class="c n"><span class="t" style="transform:scaleX(0.9290);margin-left:-0.93px">Pobaltie a Helsinki</span></div><div class="c d"><span class="t" style="transform:scaleX(0.9180)">18.08. - 23.08.</span></div><div class="c i"><svg class="ic" viewBox="0 0 20 23.53"><path fill-rule="evenodd" d="M5.600 2.400H14.400C16.700 2.400 18 3.700 18 5.600V7H18.500C18.800 7 19 7.200 19 7.500V10C19 10.300 18.800 10.500 18.500 10.500H18V18.100C18 18.800 17.500 19.300 16.800 19.300V20.700C16.800 21.150 16.450 21.500 16 21.500H15.300C14.850 21.500 14.500 21.150 14.500 20.700V19.300H5.500V20.700C5.500 21.150 5.150 21.500 4.700 21.500H4C3.550 21.500 3.200 21.150 3.200 20.700V19.300C2.500 19.300 2 18.800 2 18.100V10.500H1.500C1.200 10.500 1 10.300 1 10V7.500C1 7.200 1.200 7 1.500 7H2V5.600C2 3.700 3.300 2.400 5.600 2.400ZM4.200 6.100H15.800V12.400H4.200ZM5.600 15.600A1.150 1.150 0 1 0 5.600 17.900 1.150 1.150 0 1 0 5.600 15.600ZM14.400 15.600A1.150 1.150 0 1 0 14.400 17.900 1.150 1.150 0 1 0 14.400 15.600Z"/><rect x="6.200" y="3.900" width="7.600" height="1.100" fill="#d8d8d8"/></svg></div></div>
<div class="row" style="top:918.52px"><div class="c n"><span class="t" style="transform:scaleX(0.9358);margin-left:-0.94px">Bulharský okruh</span></div><div class="c d"><span class="t" style="transform:scaleX(0.9180)">18.08. - 24.08.</span></div><div class="c i"><svg class="ic" viewBox="0 0 20 23.53"><path fill-rule="evenodd" d="M5.600 2.400H14.400C16.700 2.400 18 3.700 18 5.600V7H18.500C18.800 7 19 7.200 19 7.500V10C19 10.300 18.800 10.500 18.500 10.500H18V18.100C18 18.800 17.500 19.300 16.800 19.300V20.700C16.800 21.150 16.450 21.500 16 21.500H15.300C14.850 21.500 14.500 21.150 14.500 20.700V19.300H5.500V20.700C5.500 21.150 5.150 21.500 4.700 21.500H4C3.550 21.500 3.200 21.150 3.200 20.700V19.300C2.500 19.300 2 18.800 2 18.100V10.500H1.500C1.200 10.500 1 10.300 1 10V7.500C1 7.200 1.200 7 1.500 7H2V5.600C2 3.700 3.300 2.400 5.600 2.400ZM4.200 6.100H15.800V12.400H4.200ZM5.600 15.600A1.150 1.150 0 1 0 5.600 17.900 1.150 1.150 0 1 0 5.600 15.600ZM14.400 15.600A1.150 1.150 0 1 0 14.400 17.900 1.150 1.150 0 1 0 14.400 15.600Z"/><rect x="6.200" y="3.900" width="7.600" height="1.100" fill="#d8d8d8"/></svg></div></div>
<div class="row" style="top:942.05px"><div class="c n"><span class="t" style="transform:scaleX(0.9230);margin-left:0px">Apúlia - klenot na juhu Talianska</span></div><div class="c d"><span class="t" style="transform:scaleX(0.9180)">19.08. - 22.08.</span></div><div class="c i"><svg class="ic" viewBox="0 0 20 23.53"><path transform="translate(0 .3)" d="M10 2.300C10.900 2.300 11.550 3.100 11.550 4.300V8.900L19 13.200C19.600 13.600 19.400 14.950 18.500 14.750L11.550 13.650 11.300 17.600 13.800 19.300C14.300 19.700 14.100 20.900 13.350 20.750L10 19.700 6.650 20.750C5.900 20.900 5.700 19.700 6.200 19.300L8.700 17.600 8.450 13.650 1.500 14.750C.6 14.950.4 13.600 1 13.200L8.450 8.900V4.300C8.450 3.100 9.100 2.300 10 2.300Z"/></svg></div></div>
<div class="row" style="top:965.58px"><div class="c n"><span class="t" style="transform:scaleX(0.9127);margin-left:-0.91px">Pobaltské mestá a Helsinki</span></div><div class="c d"><span class="t" style="transform:scaleX(0.9180)">19.08. - 25.08.</span></div><div class="c i"><svg class="ic" viewBox="0 0 20 23.53"><path transform="translate(0 .3)" d="M10 2.300C10.900 2.300 11.550 3.100 11.550 4.300V8.900L19 13.200C19.600 13.600 19.400 14.950 18.500 14.750L11.550 13.650 11.300 17.600 13.800 19.300C14.300 19.700 14.100 20.900 13.350 20.750L10 19.700 6.650 20.750C5.900 20.900 5.700 19.700 6.200 19.300L8.700 17.600 8.450 13.650 1.500 14.750C.6 14.950.4 13.600 1 13.200L8.450 8.900V4.300C8.450 3.100 9.100 2.300 10 2.300Z"/></svg></div></div>
<div class="row" style="top:989.11px"><div class="c n"><span class="t" style="transform:scaleX(0.8628);margin-left:0px">Severné Poľsko a Varšava</span></div><div class="c d"><span class="t" style="transform:scaleX(0.9091)">20.08. - 25.08.</span></div><div class="c i"><svg class="ic" viewBox="0 0 20 23.53"><path transform="translate(0 .3)" d="M10 2.300C10.900 2.300 11.550 3.100 11.550 4.300V8.900L19 13.200C19.600 13.600 19.400 14.950 18.500 14.750L11.550 13.650 11.300 17.600 13.800 19.300C14.300 19.700 14.100 20.900 13.350 20.750L10 19.700 6.650 20.750C5.900 20.900 5.700 19.700 6.200 19.300L8.700 17.600 8.450 13.650 1.500 14.750C.6 14.950.4 13.600 1 13.200L8.450 8.900V4.300C8.450 3.100 9.100 2.300 10 2.300Z"/></svg></div></div>
<div class="row" style="top:1012.64px"><div class="c n"><span class="t" style="transform:scaleX(0.8719);margin-left:0px">České pamiatky UNESCO</span></div><div class="c d"><span class="t" style="transform:scaleX(0.9091)">21.08. - 24.08.</span></div><div class="c i"><svg class="ic" viewBox="0 0 20 23.53"><path fill-rule="evenodd" d="M5.600 2.400H14.400C16.700 2.400 18 3.700 18 5.600V7H18.500C18.800 7 19 7.200 19 7.500V10C19 10.300 18.800 10.500 18.500 10.500H18V18.100C18 18.800 17.500 19.300 16.800 19.300V20.700C16.800 21.150 16.450 21.500 16 21.500H15.300C14.850 21.500 14.500 21.150 14.500 20.700V19.300H5.500V20.700C5.500 21.150 5.150 21.500 4.700 21.500H4C3.550 21.500 3.200 21.150 3.200 20.700V19.300C2.500 19.300 2 18.800 2 18.100V10.500H1.500C1.200 10.500 1 10.300 1 10V7.500C1 7.200 1.200 7 1.500 7H2V5.600C2 3.700 3.300 2.400 5.600 2.400ZM4.200 6.100H15.800V12.400H4.200ZM5.600 15.600A1.150 1.150 0 1 0 5.600 17.900 1.150 1.150 0 1 0 5.600 15.600ZM14.400 15.600A1.150 1.150 0 1 0 14.400 17.900 1.150 1.150 0 1 0 14.400 15.600Z"/><rect x="6.200" y="3.900" width="7.600" height="1.100" fill="#d8d8d8"/></svg></div></div>
<div class="row" style="top:1036.17px"><div class="c n"><span class="t" style="transform:scaleX(0.9007);margin-left:0px">Slovinsko a Plitvické jazerá</span></div><div class="c d"><span class="t" style="transform:scaleX(0.9091)">21.08. - 24.08.</span></div><div class="c i"><svg class="ic" viewBox="0 0 20 23.53"><path fill-rule="evenodd" d="M5.600 2.400H14.400C16.700 2.400 18 3.700 18 5.600V7H18.500C18.800 7 19 7.200 19 7.500V10C19 10.300 18.800 10.500 18.500 10.500H18V18.100C18 18.800 17.500 19.300 16.800 19.300V20.700C16.800 21.150 16.450 21.500 16 21.500H15.300C14.850 21.500 14.500 21.150 14.500 20.700V19.300H5.500V20.700C5.500 21.150 5.150 21.500 4.700 21.500H4C3.550 21.500 3.200 21.150 3.200 20.700V19.300C2.500 19.300 2 18.800 2 18.100V10.500H1.500C1.200 10.500 1 10.300 1 10V7.500C1 7.200 1.200 7 1.500 7H2V5.600C2 3.700 3.300 2.400 5.600 2.400ZM4.200 6.100H15.800V12.400H4.200ZM5.600 15.600A1.150 1.150 0 1 0 5.600 17.900 1.150 1.150 0 1 0 5.600 15.600ZM14.400 15.600A1.150 1.150 0 1 0 14.400 17.900 1.150 1.150 0 1 0 14.400 15.600Z"/><rect x="6.200" y="3.900" width="7.600" height="1.100" fill="#d8d8d8"/></svg></div></div>
<div class="row" style="top:1059.7px"><div class="c n"><span class="t" style="transform:scaleX(0.8982);margin-left:-0.9px">Paríž - perla na Seine</span></div><div class="c d"><span class="t" style="transform:scaleX(0.9091)">21.08. - 25.08.</span></div><div class="c i"><svg class="ic" viewBox="0 0 20 23.53"><path fill-rule="evenodd" d="M5.600 2.400H14.400C16.700 2.400 18 3.700 18 5.600V7H18.500C18.800 7 19 7.200 19 7.500V10C19 10.300 18.800 10.500 18.500 10.500H18V18.100C18 18.800 17.500 19.300 16.800 19.300V20.700C16.800 21.150 16.450 21.500 16 21.500H15.300C14.850 21.500 14.500 21.150 14.500 20.700V19.300H5.500V20.700C5.500 21.150 5.150 21.500 4.700 21.500H4C3.550 21.500 3.200 21.150 3.200 20.700V19.300C2.500 19.300 2 18.800 2 18.100V10.500H1.500C1.200 10.500 1 10.300 1 10V7.500C1 7.200 1.200 7 1.500 7H2V5.600C2 3.700 3.300 2.400 5.600 2.400ZM4.200 6.100H15.800V12.400H4.200ZM5.600 15.600A1.150 1.150 0 1 0 5.600 17.900 1.150 1.150 0 1 0 5.600 15.600ZM14.400 15.600A1.150 1.150 0 1 0 14.400 17.900 1.150 1.150 0 1 0 14.400 15.600Z"/><rect x="6.200" y="3.900" width="7.600" height="1.100" fill="#d8d8d8"/></svg></div></div>
<div class="row" style="top:1083.23px"><div class="c n"><span class="t" style="transform:scaleX(0.9089);margin-left:-0.91px">Pobytovo-poznávacie Španielsko</span></div><div class="c d"><span class="t" style="transform:scaleX(0.9091)">21.08. - 28.08.</span></div><div class="c i"><svg class="ic" viewBox="0 0 20 23.53"><path transform="translate(0 .3)" d="M10 2.300C10.900 2.300 11.550 3.100 11.550 4.300V8.900L19 13.200C19.600 13.600 19.400 14.950 18.500 14.750L11.550 13.650 11.300 17.600 13.800 19.300C14.300 19.700 14.100 20.900 13.350 20.750L10 19.700 6.650 20.750C5.900 20.900 5.700 19.700 6.200 19.300L8.700 17.600 8.450 13.650 1.500 14.750C.6 14.950.4 13.600 1 13.200L8.450 8.900V4.300C8.450 3.100 9.100 2.300 10 2.300Z"/></svg></div></div>
<div class="row" style="top:1106.76px"><div class="c n"><span class="t" style="transform:scaleX(0.8968);margin-left:-0.9px">Paríž a Disneyland</span></div><div class="c d"><span class="t" style="transform:scaleX(0.9091)">21.08. - 25.08.</span></div><div class="c i"><svg class="ic" viewBox="0 0 20 23.53"><path fill-rule="evenodd" d="M5.600 2.400H14.400C16.700 2.400 18 3.700 18 5.600V7H18.500C18.800 7 19 7.200 19 7.500V10C19 10.300 18.800 10.500 18.500 10.500H18V18.100C18 18.800 17.500 19.300 16.800 19.300V20.700C16.800 21.150 16.450 21.500 16 21.500H15.300C14.850 21.500 14.500 21.150 14.500 20.700V19.300H5.500V20.700C5.500 21.150 5.150 21.500 4.700 21.500H4C3.550 21.500 3.200 21.150 3.200 20.700V19.300C2.500 19.300 2 18.800 2 18.100V10.500H1.500C1.200 10.500 1 10.300 1 10V7.500C1 7.200 1.200 7 1.500 7H2V5.600C2 3.700 3.300 2.400 5.600 2.400ZM4.200 6.100H15.800V12.400H4.200ZM5.600 15.600A1.150 1.150 0 1 0 5.600 17.900 1.150 1.150 0 1 0 5.600 15.600ZM14.400 15.600A1.150 1.150 0 1 0 14.400 17.900 1.150 1.150 0 1 0 14.400 15.600Z"/><rect x="6.200" y="3.900" width="7.600" height="1.100" fill="#d8d8d8"/></svg></div></div>
<div class="row" style="top:1130.29px"><div class="c n"><span class="t" style="transform:scaleX(0.9072);margin-left:-0.91px">Rím - metropola Talianska</span></div><div class="c d"><span class="t" style="transform:scaleX(0.9091)">21.08. - 25.08.</span></div><div class="c i"><svg class="ic" viewBox="0 0 20 23.53"><path fill-rule="evenodd" d="M5.600 2.400H14.400C16.700 2.400 18 3.700 18 5.600V7H18.500C18.800 7 19 7.200 19 7.500V10C19 10.300 18.800 10.500 18.500 10.500H18V18.100C18 18.800 17.500 19.300 16.800 19.300V20.700C16.800 21.150 16.450 21.500 16 21.500H15.300C14.850 21.500 14.500 21.150 14.500 20.700V19.300H5.500V20.700C5.500 21.150 5.150 21.500 4.700 21.500H4C3.550 21.500 3.200 21.150 3.200 20.700V19.300C2.500 19.300 2 18.800 2 18.100V10.500H1.500C1.200 10.500 1 10.300 1 10V7.500C1 7.200 1.200 7 1.500 7H2V5.600C2 3.700 3.300 2.400 5.600 2.400ZM4.200 6.100H15.800V12.400H4.200ZM5.600 15.600A1.150 1.150 0 1 0 5.600 17.900 1.150 1.150 0 1 0 5.600 15.600ZM14.400 15.600A1.150 1.150 0 1 0 14.400 17.900 1.150 1.150 0 1 0 14.400 15.600Z"/><rect x="6.200" y="3.900" width="7.600" height="1.100" fill="#d8d8d8"/></svg></div></div>
<div class="row" style="top:1153.82px"><div class="c n"><span class="t" style="transform:scaleX(0.8868);margin-left:0px">Sardínia a Korzika</span></div><div class="c d"><span class="t" style="transform:scaleX(0.9091)">22.08. - 29.08.</span></div><div class="c i"><svg class="ic" viewBox="0 0 20 23.53"><path transform="translate(0 .3)" d="M10 2.300C10.900 2.300 11.550 3.100 11.550 4.300V8.900L19 13.200C19.600 13.600 19.400 14.950 18.500 14.750L11.550 13.650 11.300 17.600 13.800 19.300C14.300 19.700 14.100 20.900 13.350 20.750L10 19.700 6.650 20.750C5.900 20.900 5.700 19.700 6.200 19.300L8.700 17.600 8.450 13.650 1.500 14.750C.6 14.950.4 13.600 1 13.200L8.450 8.900V4.300C8.450 3.100 9.100 2.300 10 2.300Z"/></svg></div></div>
<div class="row" style="top:1177.35px"><div class="c n"><span class="t" style="transform:scaleX(0.9296);margin-left:0px">Štokholm - klenot severu</span></div><div class="c d"><span class="t" style="transform:scaleX(0.9091)">23.08. - 26.08.</span></div><div class="c i"><svg class="ic" viewBox="0 0 20 23.53"><path transform="translate(0 .3)" d="M10 2.300C10.900 2.300 11.550 3.100 11.550 4.300V8.900L19 13.200C19.600 13.600 19.400 14.950 18.500 14.750L11.550 13.650 11.300 17.600 13.800 19.300C14.300 19.700 14.100 20.900 13.350 20.750L10 19.700 6.650 20.750C5.900 20.900 5.700 19.700 6.200 19.300L8.700 17.600 8.450 13.650 1.500 14.750C.6 14.950.4 13.600 1 13.200L8.450 8.900V4.300C8.450 3.100 9.100 2.300 10 2.300Z"/></svg></div></div>
<div class="row" style="top:1200.88px"><div class="c n"><span class="t" style="transform:scaleX(0.9221);margin-left:-0.92px">Barcelona, Girona a Montserrat s kúpaním</span></div><div class="c d"><span class="t" style="transform:scaleX(0.9091)">23.08. - 30.08.</span></div><div class="c i"><svg class="ic" viewBox="0 0 20 23.53"><path transform="translate(0 .3)" d="M10 2.300C10.900 2.300 11.550 3.100 11.550 4.300V8.900L19 13.200C19.600 13.600 19.400 14.950 18.500 14.750L11.550 13.650 11.300 17.600 13.800 19.300C14.300 19.700 14.100 20.900 13.350 20.750L10 19.700 6.650 20.750C5.900 20.900 5.700 19.700 6.200 19.300L8.700 17.600 8.450 13.650 1.500 14.750C.6 14.950.4 13.600 1 13.200L8.450 8.900V4.300C8.450 3.100 9.100 2.300 10 2.300Z"/></svg></div></div>
<div class="row" style="top:1224.41px"><div class="c n"><span class="t" style="transform:scaleX(0.9261);margin-left:-0.93px">Normandia a Bretónsko</span></div><div class="c d"><span class="t" style="transform:scaleX(0.9091)">26.08. - 31.08.</span></div><div class="c i"><svg class="ic" viewBox="0 0 20 23.53"><path fill-rule="evenodd" d="M5.600 2.400H14.400C16.700 2.400 18 3.700 18 5.600V7H18.500C18.800 7 19 7.200 19 7.500V10C19 10.300 18.800 10.500 18.500 10.500H18V18.100C18 18.800 17.500 19.300 16.800 19.300V20.700C16.800 21.150 16.450 21.500 16 21.500H15.300C14.850 21.500 14.500 21.150 14.500 20.700V19.300H5.500V20.700C5.500 21.150 5.150 21.500 4.700 21.500H4C3.550 21.500 3.200 21.150 3.200 20.700V19.300C2.500 19.300 2 18.800 2 18.100V10.500H1.500C1.200 10.500 1 10.300 1 10V7.500C1 7.200 1.200 7 1.500 7H2V5.600C2 3.700 3.300 2.400 5.600 2.400ZM4.200 6.100H15.800V12.400H4.200ZM5.600 15.600A1.150 1.150 0 1 0 5.600 17.900 1.150 1.150 0 1 0 5.600 15.600ZM14.400 15.600A1.150 1.150 0 1 0 14.400 17.900 1.150 1.150 0 1 0 14.400 15.600Z"/><rect x="6.200" y="3.900" width="7.600" height="1.100" fill="#d8d8d8"/></svg></div></div>
<div class="row" style="top:1247.94px"><div class="c n"><span class="t" style="transform:scaleX(0.9046);margin-left:-0.9px">Najkrajšie francúzske zámky</span></div><div class="c d"><span class="t" style="transform:scaleX(0.9091)">26.08. - 31.08.</span></div><div class="c i"><svg class="ic" viewBox="0 0 20 23.53"><path fill-rule="evenodd" d="M5.600 2.400H14.400C16.700 2.400 18 3.700 18 5.600V7H18.500C18.800 7 19 7.200 19 7.500V10C19 10.300 18.800 10.500 18.500 10.500H18V18.100C18 18.800 17.500 19.300 16.800 19.300V20.700C16.800 21.150 16.450 21.500 16 21.500H15.300C14.850 21.500 14.500 21.150 14.500 20.700V19.300H5.500V20.700C5.500 21.150 5.150 21.500 4.700 21.500H4C3.550 21.500 3.200 21.150 3.200 20.700V19.300C2.500 19.300 2 18.800 2 18.100V10.500H1.500C1.200 10.500 1 10.300 1 10V7.500C1 7.200 1.200 7 1.500 7H2V5.600C2 3.700 3.300 2.400 5.600 2.400ZM4.200 6.100H15.800V12.400H4.200ZM5.600 15.600A1.150 1.150 0 1 0 5.600 17.900 1.150 1.150 0 1 0 5.600 15.600ZM14.400 15.600A1.150 1.150 0 1 0 14.400 17.900 1.150 1.150 0 1 0 14.400 15.600Z"/><rect x="6.200" y="3.900" width="7.600" height="1.100" fill="#d8d8d8"/></svg></div></div>
<div class="row" style="top:1271.47px"><div class="c n"><span class="t" style="transform:scaleX(0.9176);margin-left:-0.92px">Kampánia s kúpaním</span></div><div class="c d"><span class="t" style="transform:scaleX(0.9091)">26.08. - 01.09.</span></div><div class="c i"><svg class="ic" viewBox="0 0 20 23.53"><path fill-rule="evenodd" d="M5.600 2.400H14.400C16.700 2.400 18 3.700 18 5.600V7H18.500C18.800 7 19 7.200 19 7.500V10C19 10.300 18.800 10.500 18.500 10.500H18V18.100C18 18.800 17.500 19.300 16.800 19.300V20.700C16.800 21.150 16.450 21.500 16 21.500H15.300C14.850 21.500 14.500 21.150 14.500 20.700V19.300H5.500V20.700C5.500 21.150 5.150 21.500 4.700 21.500H4C3.550 21.500 3.200 21.150 3.200 20.700V19.300C2.500 19.300 2 18.800 2 18.100V10.500H1.500C1.200 10.500 1 10.300 1 10V7.500C1 7.200 1.200 7 1.500 7H2V5.600C2 3.700 3.300 2.400 5.600 2.400ZM4.200 6.100H15.800V12.400H4.200ZM5.600 15.600A1.150 1.150 0 1 0 5.600 17.900 1.150 1.150 0 1 0 5.600 15.600ZM14.400 15.600A1.150 1.150 0 1 0 14.400 17.900 1.150 1.150 0 1 0 14.400 15.600Z"/><rect x="6.200" y="3.900" width="7.600" height="1.100" fill="#d8d8d8"/></svg></div></div>
<div class="row" style="top:1295px"><div class="c n"><span class="t" style="transform:scaleX(0.8750);margin-left:0px">To najkrajšie z Toskánska</span></div><div class="c d"><span class="t" style="transform:scaleX(0.9091)">27.08. - 31.08.</span></div><div class="c i"><svg class="ic" viewBox="0 0 20 23.53"><path fill-rule="evenodd" d="M5.600 2.400H14.400C16.700 2.400 18 3.700 18 5.600V7H18.500C18.800 7 19 7.200 19 7.500V10C19 10.300 18.800 10.500 18.500 10.500H18V18.100C18 18.800 17.500 19.300 16.800 19.300V20.700C16.800 21.150 16.450 21.500 16 21.500H15.300C14.850 21.500 14.500 21.150 14.500 20.700V19.300H5.500V20.700C5.500 21.150 5.150 21.500 4.700 21.500H4C3.550 21.500 3.200 21.150 3.200 20.700V19.300C2.500 19.300 2 18.800 2 18.100V10.500H1.500C1.200 10.500 1 10.300 1 10V7.500C1 7.200 1.200 7 1.500 7H2V5.600C2 3.700 3.300 2.400 5.600 2.400ZM4.200 6.100H15.800V12.400H4.200ZM5.600 15.600A1.150 1.150 0 1 0 5.600 17.900 1.150 1.150 0 1 0 5.600 15.600ZM14.400 15.600A1.150 1.150 0 1 0 14.400 17.900 1.150 1.150 0 1 0 14.400 15.600Z"/><rect x="6.200" y="3.900" width="7.600" height="1.100" fill="#d8d8d8"/></svg></div></div>
<div class="row" style="top:1318.53px"><div class="c n"><span class="t" style="transform:scaleX(0.9112);margin-left:0px">Okruh severným Talianskom</span></div><div class="c d"><span class="t" style="transform:scaleX(0.9091)">27.08. - 31.08.</span></div><div class="c i"><svg class="ic" viewBox="0 0 20 23.53"><path fill-rule="evenodd" d="M5.600 2.400H14.400C16.700 2.400 18 3.700 18 5.600V7H18.500C18.800 7 19 7.200 19 7.500V10C19 10.300 18.800 10.500 18.500 10.500H18V18.100C18 18.800 17.500 19.300 16.800 19.300V20.700C16.800 21.150 16.450 21.500 16 21.500H15.300C14.850 21.500 14.500 21.150 14.500 20.700V19.300H5.500V20.700C5.500 21.150 5.150 21.500 4.700 21.500H4C3.550 21.500 3.200 21.150 3.200 20.700V19.300C2.500 19.300 2 18.800 2 18.100V10.500H1.500C1.200 10.500 1 10.300 1 10V7.500C1 7.200 1.200 7 1.500 7H2V5.600C2 3.700 3.300 2.400 5.600 2.400ZM4.200 6.100H15.800V12.400H4.200ZM5.600 15.600A1.150 1.150 0 1 0 5.600 17.900 1.150 1.150 0 1 0 5.600 15.600ZM14.400 15.600A1.150 1.150 0 1 0 14.400 17.900 1.150 1.150 0 1 0 14.400 15.600Z"/><rect x="6.200" y="3.900" width="7.600" height="1.100" fill="#d8d8d8"/></svg></div></div>
<div class="row" style="top:1342.06px"><div class="c n"><span class="t" style="transform:scaleX(0.9089);margin-left:-0.91px">Pobytovo-poznávacie Španielsko</span></div><div class="c d"><span class="t" style="transform:scaleX(0.9091)">28.08. - 04.09.</span></div><div class="c i"><svg class="ic" viewBox="0 0 20 23.53"><path transform="translate(0 .3)" d="M10 2.300C10.900 2.300 11.550 3.100 11.550 4.300V8.900L19 13.200C19.600 13.600 19.400 14.950 18.500 14.750L11.550 13.650 11.300 17.600 13.800 19.300C14.300 19.700 14.100 20.900 13.350 20.750L10 19.700 6.650 20.750C5.900 20.900 5.700 19.700 6.200 19.300L8.700 17.600 8.450 13.650 1.500 14.750C.6 14.950.4 13.600 1 13.200L8.450 8.900V4.300C8.450 3.100 9.100 2.300 10 2.300Z"/></svg></div></div>
<div class="row" style="top:1365.59px"><div class="c n"><span class="t" style="transform:scaleX(0.9137);margin-left:-0.91px">Maďarsko - krajina kúpeľov a vína</span></div><div class="c d"><span class="t" style="transform:scaleX(0.9091)">29.08. - 31.08.</span></div><div class="c i"><svg class="ic" viewBox="0 0 20 23.53"><path fill-rule="evenodd" d="M5.600 2.400H14.400C16.700 2.400 18 3.700 18 5.600V7H18.500C18.800 7 19 7.200 19 7.500V10C19 10.300 18.800 10.500 18.500 10.500H18V18.100C18 18.800 17.500 19.300 16.800 19.300V20.700C16.800 21.150 16.450 21.500 16 21.500H15.300C14.850 21.500 14.500 21.150 14.500 20.700V19.300H5.500V20.700C5.500 21.150 5.150 21.500 4.700 21.500H4C3.550 21.500 3.200 21.150 3.200 20.700V19.300C2.500 19.300 2 18.800 2 18.100V10.500H1.500C1.200 10.500 1 10.300 1 10V7.500C1 7.200 1.200 7 1.500 7H2V5.600C2 3.700 3.300 2.400 5.600 2.400ZM4.200 6.100H15.800V12.400H4.200ZM5.600 15.600A1.150 1.150 0 1 0 5.600 17.900 1.150 1.150 0 1 0 5.600 15.600ZM14.400 15.600A1.150 1.150 0 1 0 14.400 17.900 1.150 1.150 0 1 0 14.400 15.600Z"/><rect x="6.200" y="3.900" width="7.600" height="1.100" fill="#d8d8d8"/></svg></div></div>
<div class="row" style="top:1389.12px"><div class="c n"><span class="t" style="transform:scaleX(0.8892);margin-left:-0.89px">Morava</span></div><div class="c d"><span class="t" style="transform:scaleX(0.9091)">29.08. - 31.08.</span></div><div class="c i"><svg class="ic" viewBox="0 0 20 23.53"><path fill-rule="evenodd" d="M5.600 2.400H14.400C16.700 2.400 18 3.700 18 5.600V7H18.500C18.800 7 19 7.200 19 7.500V10C19 10.300 18.800 10.500 18.500 10.500H18V18.100C18 18.800 17.500 19.300 16.800 19.300V20.700C16.800 21.150 16.450 21.500 16 21.500H15.300C14.850 21.500 14.500 21.150 14.500 20.700V19.300H5.500V20.700C5.500 21.150 5.150 21.500 4.700 21.500H4C3.550 21.500 3.200 21.150 3.200 20.700V19.300C2.500 19.300 2 18.800 2 18.100V10.500H1.500C1.200 10.500 1 10.300 1 10V7.500C1 7.200 1.200 7 1.500 7H2V5.600C2 3.700 3.300 2.400 5.600 2.400ZM4.200 6.100H15.800V12.400H4.200ZM5.600 15.600A1.150 1.150 0 1 0 5.600 17.900 1.150 1.150 0 1 0 5.600 15.600ZM14.400 15.600A1.150 1.150 0 1 0 14.400 17.900 1.150 1.150 0 1 0 14.400 15.600Z"/><rect x="6.200" y="3.900" width="7.600" height="1.100" fill="#d8d8d8"/></svg></div></div>
<div class="row" style="top:1412.65px"><div class="c n"><span class="t" style="transform:scaleX(0.8955);margin-left:0px">Tajomstvá Umbrie a Lazia</span></div><div class="c d"><span class="t" style="transform:scaleX(0.9091)">29.08. - 02.09.</span></div><div class="c i"><svg class="ic" viewBox="0 0 20 23.53"><path transform="translate(0 .3)" d="M10 2.300C10.900 2.300 11.550 3.100 11.550 4.300V8.900L19 13.200C19.600 13.600 19.400 14.950 18.500 14.750L11.550 13.650 11.300 17.600 13.800 19.300C14.300 19.700 14.100 20.900 13.350 20.750L10 19.700 6.650 20.750C5.900 20.900 5.700 19.700 6.200 19.300L8.700 17.600 8.450 13.650 1.500 14.750C.6 14.950.4 13.600 1 13.200L8.450 8.900V4.300C8.450 3.100 9.100 2.300 10 2.300Z"/></svg></div></div>
<div class="row" style="top:1436.18px"><div class="c n"><span class="t" style="transform:scaleX(0.8811);margin-left:0px">Alpské jazerá a Verona</span></div><div class="c d"><span class="t" style="transform:scaleX(0.9091)">29.08. - 02.09.</span></div><div class="c i"><svg class="ic" viewBox="0 0 20 23.53"><path transform="translate(0 .3)" d="M10 2.300C10.900 2.300 11.550 3.100 11.550 4.300V8.900L19 13.200C19.600 13.600 19.400 14.950 18.500 14.750L11.550 13.650 11.300 17.600 13.800 19.300C14.300 19.700 14.100 20.900 13.350 20.750L10 19.700 6.650 20.750C5.900 20.900 5.700 19.700 6.200 19.300L8.700 17.600 8.450 13.650 1.500 14.750C.6 14.950.4 13.600 1 13.200L8.450 8.900V4.300C8.450 3.100 9.100 2.300 10 2.300Z"/></svg></div></div>
<div class="row" style="top:1459.71px"><div class="c n"><span class="t" style="transform:scaleX(0.9033);margin-left:0px">Slnečné Katalánsko a Barcelona s kúpaním</span></div><div class="c d"><span class="t" style="transform:scaleX(0.9091)">30.08. - 06.09.</span></div><div class="c i"><svg class="ic" viewBox="0 0 20 23.53"><path transform="translate(0 .3)" d="M10 2.300C10.900 2.300 11.550 3.100 11.550 4.300V8.900L19 13.200C19.600 13.600 19.400 14.950 18.500 14.750L11.550 13.650 11.300 17.600 13.800 19.300C14.300 19.700 14.100 20.900 13.350 20.750L10 19.700 6.650 20.750C5.900 20.900 5.700 19.700 6.200 19.300L8.700 17.600 8.450 13.650 1.500 14.750C.6 14.950.4 13.600 1 13.200L8.450 8.900V4.300C8.450 3.100 9.100 2.300 10 2.300Z"/></svg></div></div>
<div class="row hd" style="top:1506.77px"><div class="c n"><span class="t h" style="transform:scaleX(0.8498);margin-left:0px">SEPTEMBER</span></div><div class="c d"><span class="t h" style="transform:scaleX(0.9931)">termín</span></div><div class="c i"><span class="t h" style="transform:scaleX(0.9270)">doprava</span></div></div>
<div class="row" style="top:1530.3px"><div class="c n"><span class="t" style="transform:scaleX(0.9182);margin-left:-0.92px">Belgicko a Holandsko</span></div><div class="c d"><span class="t" style="transform:scaleX(0.9091)">02.09. - 07.09.</span></div><div class="c i"><svg class="ic" viewBox="0 0 20 23.53"><path fill-rule="evenodd" d="M5.600 2.400H14.400C16.700 2.400 18 3.700 18 5.600V7H18.500C18.800 7 19 7.200 19 7.500V10C19 10.300 18.800 10.500 18.500 10.500H18V18.100C18 18.800 17.500 19.300 16.800 19.300V20.700C16.800 21.150 16.450 21.500 16 21.500H15.300C14.850 21.500 14.500 21.150 14.500 20.700V19.300H5.500V20.700C5.500 21.150 5.150 21.500 4.700 21.500H4C3.550 21.500 3.200 21.150 3.200 20.700V19.300C2.500 19.300 2 18.800 2 18.100V10.500H1.500C1.200 10.500 1 10.300 1 10V7.500C1 7.200 1.200 7 1.500 7H2V5.600C2 3.700 3.300 2.400 5.600 2.400ZM4.200 6.100H15.800V12.400H4.200ZM5.600 15.600A1.150 1.150 0 1 0 5.600 17.900 1.150 1.150 0 1 0 5.600 15.600ZM14.400 15.600A1.150 1.150 0 1 0 14.400 17.900 1.150 1.150 0 1 0 14.400 15.600Z"/><rect x="6.200" y="3.900" width="7.600" height="1.100" fill="#d8d8d8"/></svg></div></div>
<div class="row" style="top:1553.83px"><div class="c n"><span class="t" style="transform:scaleX(0.9251);margin-left:-0.93px">Ligúria - kráľovstvo pestrofarebných útesov</span></div><div class="c d"><span class="t" style="transform:scaleX(0.9091)">03.09. - 07.09.</span></div><div class="c i"><svg class="ic" viewBox="0 0 20 23.53"><path transform="translate(0 .3)" d="M10 2.300C10.900 2.300 11.550 3.100 11.550 4.300V8.900L19 13.200C19.600 13.600 19.400 14.950 18.500 14.750L11.550 13.650 11.300 17.600 13.800 19.300C14.300 19.700 14.100 20.900 13.350 20.750L10 19.700 6.650 20.750C5.900 20.900 5.700 19.700 6.200 19.300L8.700 17.600 8.450 13.650 1.500 14.750C.6 14.950.4 13.600 1 13.200L8.450 8.900V4.300C8.450 3.100 9.100 2.300 10 2.300Z"/></svg></div></div>
<div class="row" style="top:1577.36px"><div class="c n"><span class="t" style="transform:scaleX(0.9371);margin-left:0px">Andalúzia - križovatka kultúr</span></div><div class="c d"><span class="t" style="transform:scaleX(0.9091)">03.09. - 10.09.</span></div><div class="c i"><svg class="ic" viewBox="0 0 20 23.53"><path transform="translate(0 .3)" d="M10 2.300C10.900 2.300 11.550 3.100 11.550 4.300V8.900L19 13.200C19.600 13.600 19.400 14.950 18.500 14.750L11.550 13.650 11.300 17.600 13.800 19.300C14.300 19.700 14.100 20.900 13.350 20.750L10 19.700 6.650 20.750C5.900 20.900 5.700 19.700 6.200 19.300L8.700 17.600 8.450 13.650 1.500 14.750C.6 14.950.4 13.600 1 13.200L8.450 8.900V4.300C8.450 3.100 9.100 2.300 10 2.300Z"/></svg></div></div>
<div class="row" style="top:1600.89px"><div class="c n"><span class="t" style="transform:scaleX(0.9059);margin-left:0px">Cesta španielskym kráľovstvom</span></div><div class="c d"><span class="t" style="transform:scaleX(0.9091)">03.09. - 13.09.</span></div><div class="c i"><svg class="ic" viewBox="0 0 20 23.53"><path transform="translate(0 .3)" d="M10 2.300C10.900 2.300 11.550 3.100 11.550 4.300V8.900L19 13.200C19.600 13.600 19.400 14.950 18.500 14.750L11.550 13.650 11.300 17.600 13.800 19.300C14.300 19.700 14.100 20.900 13.350 20.750L10 19.700 6.650 20.750C5.900 20.900 5.700 19.700 6.200 19.300L8.700 17.600 8.450 13.650 1.500 14.750C.6 14.950.4 13.600 1 13.200L8.450 8.900V4.300C8.450 3.100 9.100 2.300 10 2.300Z"/></svg></div></div>
<div class="row" style="top:1624.42px"><div class="c n"><span class="t" style="transform:scaleX(0.9413);margin-left:0px">Andalúzia s pobytom pri mori</span></div><div class="c d"><span class="t" style="transform:scaleX(0.9091)">03.09. - 13.09.</span></div><div class="c i"><svg class="ic" viewBox="0 0 20 23.53"><path transform="translate(0 .3)" d="M10 2.300C10.900 2.300 11.550 3.100 11.550 4.300V8.900L19 13.200C19.600 13.600 19.400 14.950 18.500 14.750L11.550 13.650 11.300 17.600 13.800 19.300C14.300 19.700 14.100 20.900 13.350 20.750L10 19.700 6.650 20.750C5.900 20.900 5.700 19.700 6.200 19.300L8.700 17.600 8.450 13.650 1.500 14.750C.6 14.950.4 13.600 1 13.200L8.450 8.900V4.300C8.450 3.100 9.100 2.300 10 2.300Z"/></svg></div></div>
<div class="row" style="top:1647.95px"><div class="c n"><span class="t" style="transform:scaleX(0.8862);margin-left:-0.89px">Katalánsko a poklady UNESCO</span></div><div class="c d"><span class="t" style="transform:scaleX(0.9091)">03.09. - 13.09.</span></div><div class="c i"><svg class="ic" viewBox="0 0 20 23.53"><path transform="translate(0 .3)" d="M10 2.300C10.900 2.300 11.550 3.100 11.550 4.300V8.900L19 13.200C19.600 13.600 19.400 14.950 18.500 14.750L11.550 13.650 11.300 17.600 13.800 19.300C14.300 19.700 14.100 20.900 13.350 20.750L10 19.700 6.650 20.750C5.900 20.900 5.700 19.700 6.200 19.300L8.700 17.600 8.450 13.650 1.500 14.750C.6 14.950.4 13.600 1 13.200L8.450 8.900V4.300C8.450 3.100 9.100 2.300 10 2.300Z"/></svg></div></div>
<div class="row" style="top:1671.48px"><div class="c n"><span class="t" style="transform:scaleX(0.8731);margin-left:-0.87px">Paríž - srdce Francúzska</span></div><div class="c d"><span class="t" style="transform:scaleX(0.9091)">04.09. - 07.09.</span></div><div class="c i"><svg class="ic" viewBox="0 0 20 23.53"><path transform="translate(0 .3)" d="M10 2.300C10.900 2.300 11.550 3.100 11.550 4.300V8.900L19 13.200C19.600 13.600 19.400 14.950 18.500 14.750L11.550 13.650 11.300 17.600 13.800 19.300C14.300 19.700 14.100 20.900 13.350 20.750L10 19.700 6.650 20.750C5.900 20.900 5.700 19.700 6.200 19.300L8.700 17.600 8.450 13.650 1.500 14.750C.6 14.950.4 13.600 1 13.200L8.450 8.900V4.300C8.450 3.100 9.100 2.300 10 2.300Z"/></svg></div></div>
<div class="row" style="top:1695.01px"><div class="c n"><span class="t" style="transform:scaleX(0.9100);margin-left:0px">Česko a Nemecko - rozprávkové putovanie</span></div><div class="c d"><span class="t" style="transform:scaleX(0.9091)">04.09. - 07.09.</span></div><div class="c i"><svg class="ic" viewBox="0 0 20 23.53"><path fill-rule="evenodd" d="M5.600 2.400H14.400C16.700 2.400 18 3.700 18 5.600V7H18.500C18.800 7 19 7.200 19 7.500V10C19 10.300 18.800 10.500 18.500 10.500H18V18.100C18 18.800 17.500 19.300 16.800 19.300V20.700C16.800 21.150 16.450 21.500 16 21.500H15.300C14.850 21.500 14.500 21.150 14.500 20.700V19.300H5.500V20.700C5.500 21.150 5.150 21.500 4.700 21.500H4C3.550 21.500 3.200 21.150 3.200 20.700V19.300C2.500 19.300 2 18.800 2 18.100V10.500H1.500C1.200 10.500 1 10.300 1 10V7.500C1 7.200 1.200 7 1.500 7H2V5.600C2 3.700 3.300 2.400 5.600 2.400ZM4.200 6.100H15.800V12.400H4.200ZM5.600 15.600A1.150 1.150 0 1 0 5.600 17.900 1.150 1.150 0 1 0 5.600 15.600ZM14.400 15.600A1.150 1.150 0 1 0 14.400 17.900 1.150 1.150 0 1 0 14.400 15.600Z"/><rect x="6.200" y="3.900" width="7.600" height="1.100" fill="#d8d8d8"/></svg></div></div>
<div class="row" style="top:1718.54px"><div class="c n"><span class="t" style="transform:scaleX(0.9075);margin-left:-0.91px">Bavorsko - zámky a hory</span></div><div class="c d"><span class="t" style="transform:scaleX(0.9091)">04.09. - 07.09.</span></div><div class="c i"><svg class="ic" viewBox="0 0 20 23.53"><path fill-rule="evenodd" d="M5.600 2.400H14.400C16.700 2.400 18 3.700 18 5.600V7H18.500C18.800 7 19 7.200 19 7.500V10C19 10.300 18.800 10.500 18.500 10.500H18V18.100C18 18.800 17.500 19.300 16.800 19.300V20.700C16.800 21.150 16.450 21.500 16 21.500H15.300C14.850 21.500 14.500 21.150 14.500 20.700V19.300H5.500V20.700C5.500 21.150 5.150 21.500 4.700 21.500H4C3.550 21.500 3.200 21.150 3.200 20.700V19.300C2.500 19.300 2 18.800 2 18.100V10.500H1.500C1.200 10.500 1 10.300 1 10V7.500C1 7.200 1.200 7 1.500 7H2V5.600C2 3.700 3.300 2.400 5.600 2.400ZM4.200 6.100H15.800V12.400H4.200ZM5.600 15.600A1.150 1.150 0 1 0 5.600 17.900 1.150 1.150 0 1 0 5.600 15.600ZM14.400 15.600A1.150 1.150 0 1 0 14.400 17.900 1.150 1.150 0 1 0 14.400 15.600Z"/><rect x="6.200" y="3.900" width="7.600" height="1.100" fill="#d8d8d8"/></svg></div></div>
<div class="row" style="top:1742.07px"><div class="c n"><span class="t" style="transform:scaleX(0.9033);margin-left:-0.9px">Poľsko - Mazúrske jazerá a pobrežie Baltského mora</span></div><div class="c d"><span class="t" style="transform:scaleX(0.9091)">04.09. - 08.09.</span></div><div class="c i"><svg class="ic" viewBox="0 0 20 23.53"><path fill-rule="evenodd" d="M5.600 2.400H14.400C16.700 2.400 18 3.700 18 5.600V7H18.500C18.800 7 19 7.200 19 7.500V10C19 10.300 18.800 10.500 18.500 10.500H18V18.100C18 18.800 17.500 19.300 16.800 19.300V20.700C16.800 21.150 16.450 21.500 16 21.500H15.300C14.850 21.500 14.500 21.150 14.500 20.700V19.300H5.500V20.700C5.500 21.150 5.150 21.500 4.700 21.500H4C3.550 21.500 3.200 21.150 3.200 20.700V19.300C2.500 19.300 2 18.800 2 18.100V10.500H1.500C1.200 10.500 1 10.300 1 10V7.500C1 7.200 1.200 7 1.500 7H2V5.600C2 3.700 3.300 2.400 5.600 2.400ZM4.200 6.100H15.800V12.400H4.200ZM5.600 15.600A1.150 1.150 0 1 0 5.600 17.900 1.150 1.150 0 1 0 5.600 15.600ZM14.400 15.600A1.150 1.150 0 1 0 14.400 17.900 1.150 1.150 0 1 0 14.400 15.600Z"/><rect x="6.200" y="3.900" width="7.600" height="1.100" fill="#d8d8d8"/></svg></div></div>
</section>
<section class="tbl R">
<svg class="grid" width="1280" height="1897" viewBox="0 0 1280 1897"><line x1="678.6" y1="0.85" x2="1280.4" y2="0.85"/><line x1="678.6" y1="24.38" x2="1280.4" y2="24.38"/><line x1="678.6" y1="47.91" x2="1280.4" y2="47.91"/><line x1="678.6" y1="71.44" x2="1280.4" y2="71.44"/><line x1="678.6" y1="94.97" x2="1280.4" y2="94.97"/><line x1="678.6" y1="118.5" x2="1280.4" y2="118.5"/><line x1="678.6" y1="142.03" x2="1280.4" y2="142.03"/><line x1="678.6" y1="165.56" x2="1280.4" y2="165.56"/><line x1="678.6" y1="189.09" x2="1280.4" y2="189.09"/><line x1="678.6" y1="212.62" x2="1280.4" y2="212.62"/><line x1="678.6" y1="236.15" x2="1280.4" y2="236.15"/><line x1="678.6" y1="259.68" x2="1280.4" y2="259.68"/><line x1="678.6" y1="283.21" x2="1280.4" y2="283.21"/><line x1="678.6" y1="306.74" x2="1280.4" y2="306.74"/><line x1="678.6" y1="330.27" x2="1280.4" y2="330.27"/><line x1="678.6" y1="353.8" x2="1280.4" y2="353.8"/><line x1="678.6" y1="377.33" x2="1280.4" y2="377.33"/><line x1="678.6" y1="400.86" x2="1280.4" y2="400.86"/><line x1="678.6" y1="424.39" x2="1280.4" y2="424.39"/><line x1="678.6" y1="447.92" x2="1280.4" y2="447.92"/><line x1="678.6" y1="471.45" x2="1280.4" y2="471.45"/><line x1="678.6" y1="494.98" x2="1280.4" y2="494.98"/><line x1="678.6" y1="518.51" x2="1280.4" y2="518.51"/><line x1="678.6" y1="542.04" x2="1280.4" y2="542.04"/><line x1="678.6" y1="565.57" x2="1280.4" y2="565.57"/><line x1="678.6" y1="589.1" x2="1280.4" y2="589.1"/><line x1="678.6" y1="612.63" x2="1280.4" y2="612.63"/><line x1="678.6" y1="636.16" x2="1280.4" y2="636.16"/><line x1="678.6" y1="659.69" x2="1280.4" y2="659.69"/><line x1="678.6" y1="683.22" x2="1280.4" y2="683.22"/><line x1="678.6" y1="706.75" x2="1280.4" y2="706.75"/><line x1="678.6" y1="730.28" x2="1280.4" y2="730.28"/><line x1="678.6" y1="753.81" x2="1280.4" y2="753.81"/><line x1="678.6" y1="777.34" x2="1280.4" y2="777.34"/><line x1="678.6" y1="800.87" x2="1280.4" y2="800.87"/><line x1="678.6" y1="824.4" x2="1280.4" y2="824.4"/><line x1="678.6" y1="847.93" x2="1280.4" y2="847.93"/><line x1="678.6" y1="871.46" x2="1280.4" y2="871.46"/><line x1="678.6" y1="894.99" x2="1280.4" y2="894.99"/><line x1="678.6" y1="918.52" x2="1280.4" y2="918.52"/><line x1="678.6" y1="942.05" x2="1280.4" y2="942.05"/><line x1="678.6" y1="965.58" x2="1280.4" y2="965.58"/><line x1="678.6" y1="989.11" x2="1280.4" y2="989.11"/><line x1="678.6" y1="1012.64" x2="1280.4" y2="1012.64"/><line x1="678.6" y1="1036.17" x2="1280.4" y2="1036.17"/><line x1="678.6" y1="1059.7" x2="1280.4" y2="1059.7"/><line x1="678.6" y1="1083.23" x2="1280.4" y2="1083.23"/><line x1="678.6" y1="1106.76" x2="1280.4" y2="1106.76"/><line x1="678.6" y1="1130.29" x2="1280.4" y2="1130.29"/><line x1="1053" y1="0.85" x2="1053" y2="1130.29"/><line x1="1182.5" y1="0.85" x2="1182.5" y2="1130.29"/><line x1="678.6" y1="1177.35" x2="1280.4" y2="1177.35"/><line x1="678.6" y1="1200.88" x2="1280.4" y2="1200.88"/><line x1="678.6" y1="1224.41" x2="1280.4" y2="1224.41"/><line x1="678.6" y1="1247.94" x2="1280.4" y2="1247.94"/><line x1="678.6" y1="1271.47" x2="1280.4" y2="1271.47"/><line x1="678.6" y1="1295" x2="1280.4" y2="1295"/><line x1="678.6" y1="1318.53" x2="1280.4" y2="1318.53"/><line x1="678.6" y1="1342.06" x2="1280.4" y2="1342.06"/><line x1="678.6" y1="1365.59" x2="1280.4" y2="1365.59"/><line x1="678.6" y1="1389.12" x2="1280.4" y2="1389.12"/><line x1="678.6" y1="1412.65" x2="1280.4" y2="1412.65"/><line x1="678.6" y1="1436.18" x2="1280.4" y2="1436.18"/><line x1="678.6" y1="1459.71" x2="1280.4" y2="1459.71"/><line x1="678.6" y1="1483.24" x2="1280.4" y2="1483.24"/><line x1="678.6" y1="1506.77" x2="1280.4" y2="1506.77"/><line x1="678.6" y1="1530.3" x2="1280.4" y2="1530.3"/><line x1="678.6" y1="1553.83" x2="1280.4" y2="1553.83"/><line x1="678.6" y1="1577.36" x2="1280.4" y2="1577.36"/><line x1="678.6" y1="1600.89" x2="1280.4" y2="1600.89"/><line x1="678.6" y1="1624.42" x2="1280.4" y2="1624.42"/><line x1="678.6" y1="1647.95" x2="1280.4" y2="1647.95"/><line x1="678.6" y1="1671.48" x2="1280.4" y2="1671.48"/><line x1="678.6" y1="1695.01" x2="1280.4" y2="1695.01"/><line x1="678.6" y1="1718.54" x2="1280.4" y2="1718.54"/><line x1="678.6" y1="1742.07" x2="1280.4" y2="1742.07"/><line x1="678.6" y1="1765.6" x2="1280.4" y2="1765.6"/><line x1="1053" y1="1177.35" x2="1053" y2="1765.6"/><line x1="1182.5" y1="1177.35" x2="1182.5" y2="1765.6"/></svg>
<div class="row" style="top:0.85px"><div class="c n"><span class="t" style="transform:scaleX(0.9286);margin-left:-0.93px">Ligúrska riviéra s kúpaním</span></div><div class="c d"><span class="t" style="transform:scaleX(0.9091)">04.09. - 09.09.</span></div><div class="c i"><svg class="ic" viewBox="0 0 20 23.53"><path fill-rule="evenodd" d="M5.600 2.400H14.400C16.700 2.400 18 3.700 18 5.600V7H18.500C18.800 7 19 7.200 19 7.500V10C19 10.300 18.800 10.500 18.500 10.500H18V18.100C18 18.800 17.500 19.300 16.800 19.300V20.700C16.800 21.150 16.450 21.500 16 21.500H15.300C14.850 21.500 14.500 21.150 14.500 20.700V19.300H5.500V20.700C5.500 21.150 5.150 21.500 4.700 21.500H4C3.550 21.500 3.200 21.150 3.200 20.700V19.300C2.500 19.300 2 18.800 2 18.100V10.500H1.500C1.200 10.500 1 10.300 1 10V7.500C1 7.200 1.200 7 1.500 7H2V5.600C2 3.700 3.300 2.400 5.600 2.400ZM4.200 6.100H15.800V12.400H4.200ZM5.600 15.600A1.150 1.150 0 1 0 5.600 17.900 1.150 1.150 0 1 0 5.600 15.600ZM14.400 15.600A1.150 1.150 0 1 0 14.400 17.900 1.150 1.150 0 1 0 14.400 15.600Z"/><rect x="6.200" y="3.900" width="7.600" height="1.100" fill="#d8d8d8"/></svg></div></div>
<div class="row" style="top:24.38px"><div class="c n"><span class="t" style="transform:scaleX(0.9079);margin-left:-0.91px">Francúzska riviéra a kaňon Verdon</span></div><div class="c d"><span class="t" style="transform:scaleX(0.9091)">04.09. - 09.09.</span></div><div class="c i"><svg class="ic" viewBox="0 0 20 23.53"><path fill-rule="evenodd" d="M5.600 2.400H14.400C16.700 2.400 18 3.700 18 5.600V7H18.500C18.800 7 19 7.200 19 7.500V10C19 10.300 18.800 10.500 18.500 10.500H18V18.100C18 18.800 17.500 19.300 16.800 19.300V20.700C16.800 21.150 16.450 21.500 16 21.500H15.300C14.850 21.500 14.500 21.150 14.500 20.700V19.300H5.500V20.700C5.500 21.150 5.150 21.500 4.700 21.500H4C3.550 21.500 3.200 21.150 3.200 20.700V19.300C2.500 19.300 2 18.800 2 18.100V10.500H1.500C1.200 10.500 1 10.300 1 10V7.500C1 7.200 1.200 7 1.500 7H2V5.600C2 3.700 3.300 2.400 5.600 2.400ZM4.200 6.100H15.800V12.400H4.200ZM5.600 15.600A1.150 1.150 0 1 0 5.600 17.900 1.150 1.150 0 1 0 5.600 15.600ZM14.400 15.600A1.150 1.150 0 1 0 14.400 17.900 1.150 1.150 0 1 0 14.400 15.600Z"/><rect x="6.200" y="3.900" width="7.600" height="1.100" fill="#d8d8d8"/></svg></div></div>
<div class="row" style="top:47.91px"><div class="c n"><span class="t" style="transform:scaleX(0.8957);margin-left:-0.9px">Balkán</span></div><div class="c d"><span class="t" style="transform:scaleX(0.9091)">04.09. - 10.09.</span></div><div class="c i"><svg class="ic" viewBox="0 0 20 23.53"><path fill-rule="evenodd" d="M5.600 2.400H14.400C16.700 2.400 18 3.700 18 5.600V7H18.500C18.800 7 19 7.200 19 7.500V10C19 10.300 18.800 10.500 18.500 10.500H18V18.100C18 18.800 17.500 19.300 16.800 19.300V20.700C16.800 21.150 16.450 21.500 16 21.500H15.300C14.850 21.500 14.500 21.150 14.500 20.700V19.300H5.500V20.700C5.500 21.150 5.150 21.500 4.700 21.500H4C3.550 21.500 3.200 21.150 3.200 20.700V19.300C2.500 19.300 2 18.800 2 18.100V10.500H1.500C1.200 10.500 1 10.300 1 10V7.500C1 7.200 1.200 7 1.500 7H2V5.600C2 3.700 3.300 2.400 5.600 2.400ZM4.200 6.100H15.800V12.400H4.200ZM5.600 15.600A1.150 1.150 0 1 0 5.600 17.900 1.150 1.150 0 1 0 5.600 15.600ZM14.400 15.600A1.150 1.150 0 1 0 14.400 17.900 1.150 1.150 0 1 0 14.400 15.600Z"/><rect x="6.200" y="3.900" width="7.600" height="1.100" fill="#d8d8d8"/></svg></div></div>
<div class="row" style="top:71.44px"><div class="c n"><span class="t" style="transform:scaleX(0.9089);margin-left:-0.91px">Pobytovo-poznávacie Španielsko</span></div><div class="c d"><span class="t" style="transform:scaleX(0.9200)">04.09. - 11.09.</span></div><div class="c i"><svg class="ic" viewBox="0 0 20 23.53"><path transform="translate(0 .3)" d="M10 2.300C10.900 2.300 11.550 3.100 11.550 4.300V8.900L19 13.200C19.600 13.600 19.400 14.950 18.500 14.750L11.550 13.650 11.300 17.600 13.800 19.300C14.300 19.700 14.100 20.900 13.350 20.750L10 19.700 6.650 20.750C5.900 20.900 5.700 19.700 6.200 19.300L8.700 17.600 8.450 13.650 1.500 14.750C.6 14.950.4 13.600 1 13.200L8.450 8.900V4.300C8.450 3.100 9.100 2.300 10 2.300Z"/></svg></div></div>
<div class="row" style="top:94.97px"><div class="c n"><span class="t" style="transform:scaleX(0.9112);margin-left:0px">Arménska cesta storočiami</span></div><div class="c d"><span class="t" style="transform:scaleX(0.9200)">04.09. - 11.09.</span></div><div class="c i"><svg class="ic" viewBox="0 0 20 23.53"><path transform="translate(0 .3)" d="M10 2.300C10.900 2.300 11.550 3.100 11.550 4.300V8.900L19 13.200C19.600 13.600 19.400 14.950 18.500 14.750L11.550 13.650 11.300 17.600 13.800 19.300C14.300 19.700 14.100 20.900 13.350 20.750L10 19.700 6.650 20.750C5.900 20.900 5.700 19.700 6.200 19.300L8.700 17.600 8.450 13.650 1.500 14.750C.6 14.950.4 13.600 1 13.200L8.450 8.900V4.300C8.450 3.100 9.100 2.300 10 2.300Z"/></svg></div></div>
<div class="row" style="top:118.5px"><div class="c n"><span class="t" style="transform:scaleX(0.8973);margin-left:0px">Čaro Francúzskej riviéry</span></div><div class="c d"><span class="t" style="transform:scaleX(0.9091)">06.09. - 10.09.</span></div><div class="c i"><svg class="ic" viewBox="0 0 20 23.53"><path transform="translate(0 .3)" d="M10 2.300C10.900 2.300 11.550 3.100 11.550 4.300V8.900L19 13.200C19.600 13.600 19.400 14.950 18.500 14.750L11.550 13.650 11.300 17.600 13.800 19.300C14.300 19.700 14.100 20.900 13.350 20.750L10 19.700 6.650 20.750C5.900 20.900 5.700 19.700 6.200 19.300L8.700 17.600 8.450 13.650 1.500 14.750C.6 14.950.4 13.600 1 13.200L8.450 8.900V4.300C8.450 3.100 9.100 2.300 10 2.300Z"/></svg></div></div>
<div class="row" style="top:142.03px"><div class="c n"><span class="t" style="transform:scaleX(0.8752);margin-left:0px">Španielske poklady UNESCO</span></div><div class="c d"><span class="t" style="transform:scaleX(0.9091)">06.09. - 13.09.</span></div><div class="c i"><svg class="ic" viewBox="0 0 20 23.53"><path transform="translate(0 .3)" d="M10 2.300C10.900 2.300 11.550 3.100 11.550 4.300V8.900L19 13.200C19.600 13.600 19.400 14.950 18.500 14.750L11.550 13.650 11.300 17.600 13.800 19.300C14.300 19.700 14.100 20.900 13.350 20.750L10 19.700 6.650 20.750C5.900 20.900 5.700 19.700 6.200 19.300L8.700 17.600 8.450 13.650 1.500 14.750C.6 14.950.4 13.600 1 13.200L8.450 8.900V4.300C8.450 3.100 9.100 2.300 10 2.300Z"/></svg></div></div>
<div class="row" style="top:165.56px"><div class="c n"><span class="t" style="transform:scaleX(0.8786);margin-left:0px">Čarovné Alsasko</span></div><div class="c d"><span class="t" style="transform:scaleX(0.9091)">08.09. - 12.09.</span></div><div class="c i"><svg class="ic" viewBox="0 0 20 23.53"><path fill-rule="evenodd" d="M5.600 2.400H14.400C16.700 2.400 18 3.700 18 5.600V7H18.500C18.800 7 19 7.200 19 7.500V10C19 10.300 18.800 10.500 18.500 10.500H18V18.100C18 18.800 17.500 19.300 16.800 19.300V20.700C16.800 21.150 16.450 21.500 16 21.500H15.300C14.850 21.500 14.500 21.150 14.500 20.700V19.300H5.500V20.700C5.500 21.150 5.150 21.500 4.700 21.500H4C3.550 21.500 3.200 21.150 3.200 20.700V19.300C2.500 19.300 2 18.800 2 18.100V10.500H1.500C1.200 10.500 1 10.300 1 10V7.500C1 7.200 1.200 7 1.500 7H2V5.600C2 3.700 3.300 2.400 5.600 2.400ZM4.200 6.100H15.800V12.400H4.200ZM5.600 15.600A1.150 1.150 0 1 0 5.600 17.900 1.150 1.150 0 1 0 5.600 15.600ZM14.400 15.600A1.150 1.150 0 1 0 14.400 17.900 1.150 1.150 0 1 0 14.400 15.600Z"/><rect x="6.200" y="3.900" width="7.600" height="1.100" fill="#d8d8d8"/></svg></div></div>
<div class="row" style="top:189.09px"><div class="c n"><span class="t" style="transform:scaleX(0.8824);margin-left:0px">Talianske alpské jazerá</span></div><div class="c d"><span class="t" style="transform:scaleX(0.9091)">08.09. - 12.09.</span></div><div class="c i"><svg class="ic" viewBox="0 0 20 23.53"><path fill-rule="evenodd" d="M5.600 2.400H14.400C16.700 2.400 18 3.700 18 5.600V7H18.500C18.800 7 19 7.200 19 7.500V10C19 10.300 18.800 10.500 18.500 10.500H18V18.100C18 18.800 17.500 19.300 16.800 19.300V20.700C16.800 21.150 16.450 21.500 16 21.500H15.300C14.850 21.500 14.500 21.150 14.500 20.700V19.300H5.500V20.700C5.500 21.150 5.150 21.500 4.700 21.500H4C3.550 21.500 3.200 21.150 3.200 20.700V19.300C2.500 19.300 2 18.800 2 18.100V10.500H1.500C1.200 10.500 1 10.300 1 10V7.500C1 7.200 1.200 7 1.500 7H2V5.600C2 3.700 3.300 2.400 5.600 2.400ZM4.200 6.100H15.800V12.400H4.200ZM5.600 15.600A1.150 1.150 0 1 0 5.600 17.900 1.150 1.150 0 1 0 5.600 15.600ZM14.400 15.600A1.150 1.150 0 1 0 14.400 17.900 1.150 1.150 0 1 0 14.400 15.600Z"/><rect x="6.200" y="3.900" width="7.600" height="1.100" fill="#d8d8d8"/></svg></div></div>
<div class="row" style="top:212.62px"><div class="c n"><span class="t" style="transform:scaleX(0.9240);margin-left:-0.92px">Belgické klenoty</span></div><div class="c d"><span class="t" style="transform:scaleX(0.9091)">09.09. - 13.09.</span></div><div class="c i"><svg class="ic" viewBox="0 0 20 23.53"><path transform="translate(0 .3)" d="M10 2.300C10.900 2.300 11.550 3.100 11.550 4.300V8.900L19 13.200C19.600 13.600 19.400 14.950 18.500 14.750L11.550 13.650 11.300 17.600 13.800 19.300C14.300 19.700 14.100 20.900 13.350 20.750L10 19.700 6.650 20.750C5.900 20.900 5.700 19.700 6.200 19.300L8.700 17.600 8.450 13.650 1.500 14.750C.6 14.950.4 13.600 1 13.200L8.450 8.900V4.300C8.450 3.100 9.100 2.300 10 2.300Z"/></svg></div></div>
<div class="row" style="top:236.15px"><div class="c n"><span class="t" style="transform:scaleX(0.8955);margin-left:0px">Sicília a Liparské ostrovy</span></div><div class="c d"><span class="t" style="transform:scaleX(0.9091)">09.09. - 15.09.</span></div><div class="c i"><svg class="ic" viewBox="0 0 20 23.53"><path transform="translate(0 .3)" d="M10 2.300C10.900 2.300 11.550 3.100 11.550 4.300V8.900L19 13.200C19.600 13.600 19.400 14.950 18.500 14.750L11.550 13.650 11.300 17.600 13.800 19.300C14.300 19.700 14.100 20.900 13.350 20.750L10 19.700 6.650 20.750C5.900 20.900 5.700 19.700 6.200 19.300L8.700 17.600 8.450 13.650 1.500 14.750C.6 14.950.4 13.600 1 13.200L8.450 8.900V4.300C8.450 3.100 9.100 2.300 10 2.300Z"/></svg></div></div>
<div class="row" style="top:259.68px"><div class="c n"><span class="t" style="transform:scaleX(0.8996);margin-left:-0.9px">Kráľovský Londýn a Windsor</span></div><div class="c d"><span class="t" style="transform:scaleX(0.9291)">11.09. - 14.09.</span></div><div class="c i"><svg class="ic" viewBox="0 0 20 23.53"><path transform="translate(0 .3)" d="M10 2.300C10.900 2.300 11.550 3.100 11.550 4.300V8.900L19 13.200C19.600 13.600 19.400 14.950 18.500 14.750L11.550 13.650 11.300 17.600 13.800 19.300C14.300 19.700 14.100 20.900 13.350 20.750L10 19.700 6.650 20.750C5.900 20.900 5.700 19.700 6.200 19.300L8.700 17.600 8.450 13.650 1.500 14.750C.6 14.950.4 13.600 1 13.200L8.450 8.900V4.300C8.450 3.100 9.100 2.300 10 2.300Z"/></svg></div></div>
<div class="row" style="top:283.21px"><div class="c n"><span class="t" style="transform:scaleX(0.9102);margin-left:-0.91px">Národné parky a poklady Jadranu</span></div><div class="c d"><span class="t" style="transform:scaleX(0.9291)">11.09. - 16.09.</span></div><div class="c i"><svg class="ic" viewBox="0 0 20 23.53"><path fill-rule="evenodd" d="M5.600 2.400H14.400C16.700 2.400 18 3.700 18 5.600V7H18.500C18.800 7 19 7.200 19 7.500V10C19 10.300 18.800 10.500 18.500 10.500H18V18.100C18 18.800 17.500 19.300 16.800 19.300V20.700C16.800 21.150 16.450 21.500 16 21.500H15.300C14.850 21.500 14.500 21.150 14.500 20.700V19.300H5.500V20.700C5.500 21.150 5.150 21.500 4.700 21.500H4C3.550 21.500 3.200 21.150 3.200 20.700V19.300C2.500 19.300 2 18.800 2 18.100V10.500H1.500C1.200 10.500 1 10.300 1 10V7.500C1 7.200 1.200 7 1.500 7H2V5.600C2 3.700 3.300 2.400 5.600 2.400ZM4.200 6.100H15.800V12.400H4.200ZM5.600 15.600A1.150 1.150 0 1 0 5.600 17.900 1.150 1.150 0 1 0 5.600 15.600ZM14.400 15.600A1.150 1.150 0 1 0 14.400 17.900 1.150 1.150 0 1 0 14.400 15.600Z"/><rect x="6.200" y="3.900" width="7.600" height="1.100" fill="#d8d8d8"/></svg></div></div>
<div class="row" style="top:306.74px"><div class="c n"><span class="t" style="transform:scaleX(0.9089);margin-left:-0.91px">Pobytovo-poznávacie Španielsko</span></div><div class="c d"><span class="t" style="transform:scaleX(0.9291)">11.09. - 18.09.</span></div><div class="c i"><svg class="ic" viewBox="0 0 20 23.53"><path transform="translate(0 .3)" d="M10 2.300C10.900 2.300 11.550 3.100 11.550 4.300V8.900L19 13.200C19.600 13.600 19.400 14.950 18.500 14.750L11.550 13.650 11.300 17.600 13.800 19.300C14.300 19.700 14.100 20.900 13.350 20.750L10 19.700 6.650 20.750C5.900 20.900 5.700 19.700 6.200 19.300L8.700 17.600 8.450 13.650 1.500 14.750C.6 14.950.4 13.600 1 13.200L8.450 8.900V4.300C8.450 3.100 9.100 2.300 10 2.300Z"/></svg></div></div>
<div class="row" style="top:330.27px"><div class="c n"><span class="t" style="transform:scaleX(0.8991);margin-left:-0.9px">Poľsko - Krakow a Wroclaw</span></div><div class="c d"><span class="t" style="transform:scaleX(0.9180)">12.09. - 14.09.</span></div><div class="c i"><svg class="ic" viewBox="0 0 20 23.53"><path fill-rule="evenodd" d="M5.600 2.400H14.400C16.700 2.400 18 3.700 18 5.600V7H18.500C18.800 7 19 7.200 19 7.500V10C19 10.300 18.800 10.500 18.500 10.500H18V18.100C18 18.800 17.500 19.300 16.800 19.300V20.700C16.800 21.150 16.450 21.500 16 21.500H15.300C14.850 21.500 14.500 21.150 14.500 20.700V19.300H5.500V20.700C5.500 21.150 5.150 21.500 4.700 21.500H4C3.550 21.500 3.200 21.150 3.200 20.700V19.300C2.500 19.300 2 18.800 2 18.100V10.500H1.500C1.200 10.500 1 10.300 1 10V7.500C1 7.200 1.200 7 1.500 7H2V5.600C2 3.700 3.300 2.400 5.600 2.400ZM4.200 6.100H15.800V12.400H4.200ZM5.600 15.600A1.150 1.150 0 1 0 5.600 17.900 1.150 1.150 0 1 0 5.600 15.600ZM14.400 15.600A1.150 1.150 0 1 0 14.400 17.900 1.150 1.150 0 1 0 14.400 15.600Z"/><rect x="6.200" y="3.900" width="7.600" height="1.100" fill="#d8d8d8"/></svg></div></div>
<div class="row" style="top:353.8px"><div class="c n"><span class="t" style="transform:scaleX(0.9158);margin-left:-0.92px">Rím - mesto príbehov a umenia</span></div><div class="c d"><span class="t" style="transform:scaleX(0.9180)">12.09. - 15.09.</span></div><div class="c i"><svg class="ic" viewBox="0 0 20 23.53"><path transform="translate(0 .3)" d="M10 2.300C10.900 2.300 11.550 3.100 11.550 4.300V8.900L19 13.200C19.600 13.600 19.400 14.950 18.500 14.750L11.550 13.650 11.300 17.600 13.800 19.300C14.300 19.700 14.100 20.900 13.350 20.750L10 19.700 6.650 20.750C5.900 20.900 5.700 19.700 6.200 19.300L8.700 17.600 8.450 13.650 1.500 14.750C.6 14.950.4 13.600 1 13.200L8.450 8.900V4.300C8.450 3.100 9.100 2.300 10 2.300Z"/></svg></div></div>
<div class="row" style="top:377.33px"><div class="c n"><span class="t" style="transform:scaleX(0.8900);margin-left:0px">Gotická cesta Gemerom a Košice</span></div><div class="c d"><span class="t" style="transform:scaleX(0.9180)">13.09. - 15.09.</span></div><div class="c i"><svg class="ic" viewBox="0 0 20 23.53"><path fill-rule="evenodd" d="M5.600 2.400H14.400C16.700 2.400 18 3.700 18 5.600V7H18.500C18.800 7 19 7.200 19 7.500V10C19 10.300 18.800 10.500 18.500 10.500H18V18.100C18 18.800 17.500 19.300 16.800 19.300V20.700C16.800 21.150 16.450 21.500 16 21.500H15.300C14.850 21.500 14.500 21.150 14.500 20.700V19.300H5.500V20.700C5.500 21.150 5.150 21.500 4.700 21.500H4C3.550 21.500 3.200 21.150 3.200 20.700V19.300C2.500 19.300 2 18.800 2 18.100V10.500H1.500C1.200 10.500 1 10.300 1 10V7.500C1 7.200 1.200 7 1.500 7H2V5.600C2 3.700 3.300 2.400 5.600 2.400ZM4.200 6.100H15.800V12.400H4.200ZM5.600 15.600A1.150 1.150 0 1 0 5.600 17.900 1.150 1.150 0 1 0 5.600 15.600ZM14.400 15.600A1.150 1.150 0 1 0 14.400 17.900 1.150 1.150 0 1 0 14.400 15.600Z"/><rect x="6.200" y="3.900" width="7.600" height="1.100" fill="#d8d8d8"/></svg></div></div>
<div class="row" style="top:400.86px"><div class="c n"><span class="t" style="transform:scaleX(0.9164);margin-left:0px">Apúlia s kúpaním</span></div><div class="c d"><span class="t" style="transform:scaleX(0.9180)">13.09. - 18.09.</span></div><div class="c i"><svg class="ic" viewBox="0 0 20 23.53"><path fill-rule="evenodd" d="M5.600 2.400H14.400C16.700 2.400 18 3.700 18 5.600V7H18.500C18.800 7 19 7.200 19 7.500V10C19 10.300 18.800 10.500 18.500 10.500H18V18.100C18 18.800 17.500 19.300 16.800 19.300V20.700C16.800 21.150 16.450 21.500 16 21.500H15.300C14.850 21.500 14.500 21.150 14.500 20.700V19.300H5.500V20.700C5.500 21.150 5.150 21.500 4.700 21.500H4C3.550 21.500 3.200 21.150 3.200 20.700V19.300C2.500 19.300 2 18.800 2 18.100V10.500H1.500C1.200 10.500 1 10.300 1 10V7.500C1 7.200 1.200 7 1.500 7H2V5.600C2 3.700 3.300 2.400 5.600 2.400ZM4.200 6.100H15.800V12.400H4.200ZM5.600 15.600A1.150 1.150 0 1 0 5.600 17.900 1.150 1.150 0 1 0 5.600 15.600ZM14.400 15.600A1.150 1.150 0 1 0 14.400 17.900 1.150 1.150 0 1 0 14.400 15.600Z"/><rect x="6.200" y="3.900" width="7.600" height="1.100" fill="#d8d8d8"/></svg></div></div>
<div class="row" style="top:424.39px"><div class="c n"><span class="t" style="transform:scaleX(0.8824);margin-left:-0.88px">Rím a oblasť Lazio</span></div><div class="c d"><span class="t" style="transform:scaleX(0.9180)">13.09. - 18.09.</span></div><div class="c i"><svg class="ic" viewBox="0 0 20 23.53"><path fill-rule="evenodd" d="M5.600 2.400H14.400C16.700 2.400 18 3.700 18 5.600V7H18.500C18.800 7 19 7.200 19 7.500V10C19 10.300 18.800 10.500 18.500 10.500H18V18.100C18 18.800 17.500 19.300 16.800 19.300V20.700C16.800 21.150 16.450 21.500 16 21.500H15.300C14.850 21.500 14.500 21.150 14.500 20.700V19.300H5.500V20.700C5.500 21.150 5.150 21.500 4.700 21.500H4C3.550 21.500 3.200 21.150 3.200 20.700V19.300C2.500 19.300 2 18.800 2 18.100V10.500H1.500C1.200 10.500 1 10.300 1 10V7.500C1 7.200 1.200 7 1.500 7H2V5.600C2 3.700 3.300 2.400 5.600 2.400ZM4.200 6.100H15.800V12.400H4.200ZM5.600 15.600A1.150 1.150 0 1 0 5.600 17.900 1.150 1.150 0 1 0 5.600 15.600ZM14.400 15.600A1.150 1.150 0 1 0 14.400 17.900 1.150 1.150 0 1 0 14.400 15.600Z"/><rect x="6.200" y="3.900" width="7.600" height="1.100" fill="#d8d8d8"/></svg></div></div>
<div class="row" style="top:447.92px"><div class="c n"><span class="t" style="transform:scaleX(0.9033);margin-left:0px">Slnečné Katalánsko a Barcelona s kúpaním</span></div><div class="c d"><span class="t" style="transform:scaleX(0.9180)">13.09. - 20.09.</span></div><div class="c i"><svg class="ic" viewBox="0 0 20 23.53"><path transform="translate(0 .3)" d="M10 2.300C10.900 2.300 11.550 3.100 11.550 4.300V8.900L19 13.200C19.600 13.600 19.400 14.950 18.500 14.750L11.550 13.650 11.300 17.600 13.800 19.300C14.300 19.700 14.100 20.900 13.350 20.750L10 19.700 6.650 20.750C5.900 20.900 5.700 19.700 6.200 19.300L8.700 17.600 8.450 13.650 1.500 14.750C.6 14.950.4 13.600 1 13.200L8.450 8.900V4.300C8.450 3.100 9.100 2.300 10 2.300Z"/></svg></div></div>
<div class="row" style="top:471.45px"><div class="c n"><span class="t" style="transform:scaleX(0.9178);margin-left:-0.92px">Údolie Aosta - Mont Blanc a Turín</span></div><div class="c d"><span class="t" style="transform:scaleX(0.9180)">14.09. - 18.09.</span></div><div class="c i"><svg class="ic" viewBox="0 0 20 23.53"><path fill-rule="evenodd" d="M5.600 2.400H14.400C16.700 2.400 18 3.700 18 5.600V7H18.500C18.800 7 19 7.200 19 7.500V10C19 10.300 18.800 10.500 18.500 10.500H18V18.100C18 18.800 17.500 19.300 16.800 19.300V20.700C16.800 21.150 16.450 21.500 16 21.500H15.300C14.850 21.500 14.500 21.150 14.500 20.700V19.300H5.500V20.700C5.500 21.150 5.150 21.500 4.700 21.500H4C3.550 21.500 3.200 21.150 3.200 20.700V19.300C2.500 19.300 2 18.800 2 18.100V10.500H1.500C1.200 10.500 1 10.300 1 10V7.500C1 7.200 1.200 7 1.500 7H2V5.600C2 3.700 3.300 2.400 5.600 2.400ZM4.200 6.100H15.800V12.400H4.200ZM5.600 15.600A1.150 1.150 0 1 0 5.600 17.900 1.150 1.150 0 1 0 5.600 15.600ZM14.400 15.600A1.150 1.150 0 1 0 14.400 17.900 1.150 1.150 0 1 0 14.400 15.600Z"/><rect x="6.200" y="3.900" width="7.600" height="1.100" fill="#d8d8d8"/></svg></div></div>
<div class="row" style="top:494.98px"><div class="c n"><span class="t" style="transform:scaleX(0.9119);margin-left:0px">San Marino a Bologna s kúpaním</span></div><div class="c d"><span class="t" style="transform:scaleX(0.9180)">14.09. - 18.09.</span></div><div class="c i"><svg class="ic" viewBox="0 0 20 23.53"><path fill-rule="evenodd" d="M5.600 2.400H14.400C16.700 2.400 18 3.700 18 5.600V7H18.500C18.800 7 19 7.200 19 7.500V10C19 10.300 18.800 10.500 18.500 10.500H18V18.100C18 18.800 17.500 19.300 16.800 19.300V20.700C16.800 21.150 16.450 21.500 16 21.500H15.300C14.850 21.500 14.500 21.150 14.500 20.700V19.300H5.500V20.700C5.500 21.150 5.150 21.500 4.700 21.500H4C3.550 21.500 3.200 21.150 3.200 20.700V19.300C2.500 19.300 2 18.800 2 18.100V10.500H1.500C1.200 10.500 1 10.300 1 10V7.500C1 7.200 1.200 7 1.500 7H2V5.600C2 3.700 3.300 2.400 5.600 2.400ZM4.200 6.100H15.800V12.400H4.200ZM5.600 15.600A1.150 1.150 0 1 0 5.600 17.900 1.150 1.150 0 1 0 5.600 15.600ZM14.400 15.600A1.150 1.150 0 1 0 14.400 17.900 1.150 1.150 0 1 0 14.400 15.600Z"/><rect x="6.200" y="3.900" width="7.600" height="1.100" fill="#d8d8d8"/></svg></div></div>
<div class="row" style="top:518.51px"><div class="c n"><span class="t" style="transform:scaleX(0.8982);margin-left:-0.9px">Paríž - perla na Seine</span></div><div class="c d"><span class="t" style="transform:scaleX(0.9180)">14.09. - 18.09.</span></div><div class="c i"><svg class="ic" viewBox="0 0 20 23.53"><path fill-rule="evenodd" d="M5.600 2.400H14.400C16.700 2.400 18 3.700 18 5.600V7H18.500C18.800 7 19 7.200 19 7.500V10C19 10.300 18.800 10.500 18.500 10.500H18V18.100C18 18.800 17.500 19.300 16.800 19.300V20.700C16.800 21.150 16.450 21.500 16 21.500H15.300C14.850 21.500 14.500 21.150 14.500 20.700V19.300H5.500V20.700C5.500 21.150 5.150 21.500 4.700 21.500H4C3.550 21.500 3.200 21.150 3.200 20.700V19.300C2.500 19.300 2 18.800 2 18.100V10.500H1.500C1.200 10.500 1 10.300 1 10V7.500C1 7.200 1.200 7 1.500 7H2V5.600C2 3.700 3.300 2.400 5.600 2.400ZM4.200 6.100H15.800V12.400H4.200ZM5.600 15.600A1.150 1.150 0 1 0 5.600 17.900 1.150 1.150 0 1 0 5.600 15.600ZM14.400 15.600A1.150 1.150 0 1 0 14.400 17.900 1.150 1.150 0 1 0 14.400 15.600Z"/><rect x="6.200" y="3.900" width="7.600" height="1.100" fill="#d8d8d8"/></svg></div></div>
<div class="row" style="top:542.04px"><div class="c n"><span class="t" style="transform:scaleX(0.8824);margin-left:0px">Gruzínska mozaika</span></div><div class="c d"><span class="t" style="transform:scaleX(0.9180)">15.09. - 22.09.</span></div><div class="c i"><svg class="ic" viewBox="0 0 20 23.53"><path transform="translate(0 .3)" d="M10 2.300C10.900 2.300 11.550 3.100 11.550 4.300V8.900L19 13.200C19.600 13.600 19.400 14.950 18.500 14.750L11.550 13.650 11.300 17.600 13.800 19.300C14.300 19.700 14.100 20.900 13.350 20.750L10 19.700 6.650 20.750C5.900 20.900 5.700 19.700 6.200 19.300L8.700 17.600 8.450 13.650 1.500 14.750C.6 14.950.4 13.600 1 13.200L8.450 8.900V4.300C8.450 3.100 9.100 2.300 10 2.300Z"/></svg></div></div>
<div class="row" style="top:565.57px"><div class="c n"><span class="t" style="transform:scaleX(0.9230);margin-left:0px">Apúlia - klenot na juhu Talianska</span></div><div class="c d"><span class="t" style="transform:scaleX(0.9180)">16.09. - 22.09.</span></div><div class="c i"><svg class="ic" viewBox="0 0 20 23.53"><path transform="translate(0 .3)" d="M10 2.300C10.900 2.300 11.550 3.100 11.550 4.300V8.900L19 13.200C19.600 13.600 19.400 14.950 18.500 14.750L11.550 13.650 11.300 17.600 13.800 19.300C14.300 19.700 14.100 20.900 13.350 20.750L10 19.700 6.650 20.750C5.900 20.900 5.700 19.700 6.200 19.300L8.700 17.600 8.450 13.650 1.500 14.750C.6 14.950.4 13.600 1 13.200L8.450 8.900V4.300C8.450 3.100 9.100 2.300 10 2.300Z"/></svg></div></div>
<div class="row" style="top:589.1px"><div class="c n"><span class="t" style="transform:scaleX(0.9090);margin-left:-0.91px">Florencia - kolíska renesancie</span></div><div class="c d"><span class="t" style="transform:scaleX(0.9180)">17.09. - 20.09.</span></div><div class="c i"><svg class="ic" viewBox="0 0 20 23.53"><path transform="translate(0 .3)" d="M10 2.300C10.900 2.300 11.550 3.100 11.550 4.300V8.900L19 13.200C19.600 13.600 19.400 14.950 18.500 14.750L11.550 13.650 11.300 17.600 13.800 19.300C14.300 19.700 14.100 20.900 13.350 20.750L10 19.700 6.650 20.750C5.900 20.900 5.700 19.700 6.200 19.300L8.700 17.600 8.450 13.650 1.500 14.750C.6 14.950.4 13.600 1 13.200L8.450 8.900V4.300C8.450 3.100 9.100 2.300 10 2.300Z"/></svg></div></div>
<div class="row" style="top:612.63px"><div class="c n"><span class="t" style="transform:scaleX(0.9102);margin-left:-0.91px">Kodaň a zábavný park Tivoli</span></div><div class="c d"><span class="t" style="transform:scaleX(0.9180)">17.09. - 20.09.</span></div><div class="c i"><svg class="ic" viewBox="0 0 20 23.53"><path transform="translate(0 .3)" d="M10 2.300C10.900 2.300 11.550 3.100 11.550 4.300V8.900L19 13.200C19.600 13.600 19.400 14.950 18.500 14.750L11.550 13.650 11.300 17.600 13.800 19.300C14.300 19.700 14.100 20.900 13.350 20.750L10 19.700 6.650 20.750C5.900 20.900 5.700 19.700 6.200 19.300L8.700 17.600 8.450 13.650 1.500 14.750C.6 14.950.4 13.600 1 13.200L8.450 8.900V4.300C8.450 3.100 9.100 2.300 10 2.300Z"/></svg></div></div>
<div class="row" style="top:636.16px"><div class="c n"><span class="t" style="transform:scaleX(0.9154);margin-left:-0.92px">Portugalsko - zem moreplavcov a slnka</span></div><div class="c d"><span class="t" style="transform:scaleX(0.9180)">17.09. - 24.09.</span></div><div class="c i"><svg class="ic" viewBox="0 0 20 23.53"><path transform="translate(0 .3)" d="M10 2.300C10.900 2.300 11.550 3.100 11.550 4.300V8.900L19 13.200C19.600 13.600 19.400 14.950 18.500 14.750L11.550 13.650 11.300 17.600 13.800 19.300C14.300 19.700 14.100 20.900 13.350 20.750L10 19.700 6.650 20.750C5.900 20.900 5.700 19.700 6.200 19.300L8.700 17.600 8.450 13.650 1.500 14.750C.6 14.950.4 13.600 1 13.200L8.450 8.900V4.300C8.450 3.100 9.100 2.300 10 2.300Z"/></svg></div></div>
<div class="row" style="top:659.69px"><div class="c n"><span class="t" style="transform:scaleX(0.9371);margin-left:0px">Andalúzia - križovatka kultúr</span></div><div class="c d"><span class="t" style="transform:scaleX(0.9180)">17.09. - 24.09.</span></div><div class="c i"><svg class="ic" viewBox="0 0 20 23.53"><path transform="translate(0 .3)" d="M10 2.300C10.900 2.300 11.550 3.100 11.550 4.300V8.900L19 13.200C19.600 13.600 19.400 14.950 18.500 14.750L11.550 13.650 11.300 17.600 13.800 19.300C14.300 19.700 14.100 20.900 13.350 20.750L10 19.700 6.650 20.750C5.900 20.900 5.700 19.700 6.200 19.300L8.700 17.600 8.450 13.650 1.500 14.750C.6 14.950.4 13.600 1 13.200L8.450 8.900V4.300C8.450 3.100 9.100 2.300 10 2.300Z"/></svg></div></div>
<div class="row" style="top:683.22px"><div class="c n"><span class="t" style="transform:scaleX(0.9413);margin-left:0px">Andalúzia s pobytom pri mori</span></div><div class="c d"><span class="t" style="transform:scaleX(0.9180)">17.09. - 27.09.</span></div><div class="c i"><svg class="ic" viewBox="0 0 20 23.53"><path transform="translate(0 .3)" d="M10 2.300C10.900 2.300 11.550 3.100 11.550 4.300V8.900L19 13.200C19.600 13.600 19.400 14.950 18.500 14.750L11.550 13.650 11.300 17.600 13.800 19.300C14.300 19.700 14.100 20.900 13.350 20.750L10 19.700 6.650 20.750C5.900 20.900 5.700 19.700 6.200 19.300L8.700 17.600 8.450 13.650 1.500 14.750C.6 14.950.4 13.600 1 13.200L8.450 8.900V4.300C8.450 3.100 9.100 2.300 10 2.300Z"/></svg></div></div>
<div class="row" style="top:706.75px"><div class="c n"><span class="t" style="transform:scaleX(0.8852);margin-left:0px">Vínna cesta po Toskánsku</span></div><div class="c d"><span class="t" style="transform:scaleX(0.9180)">18.09. - 24.09.</span></div><div class="c i"><svg class="ic" viewBox="0 0 20 23.53"><path fill-rule="evenodd" d="M5.600 2.400H14.400C16.700 2.400 18 3.700 18 5.600V7H18.500C18.800 7 19 7.200 19 7.500V10C19 10.300 18.800 10.500 18.500 10.500H18V18.100C18 18.800 17.500 19.300 16.800 19.300V20.700C16.800 21.150 16.450 21.500 16 21.500H15.300C14.850 21.500 14.500 21.150 14.500 20.700V19.300H5.500V20.700C5.500 21.150 5.150 21.500 4.700 21.500H4C3.550 21.500 3.200 21.150 3.200 20.700V19.300C2.500 19.300 2 18.800 2 18.100V10.500H1.500C1.200 10.500 1 10.300 1 10V7.500C1 7.200 1.200 7 1.500 7H2V5.600C2 3.700 3.300 2.400 5.600 2.400ZM4.200 6.100H15.800V12.400H4.200ZM5.600 15.600A1.150 1.150 0 1 0 5.600 17.900 1.150 1.150 0 1 0 5.600 15.600ZM14.400 15.600A1.150 1.150 0 1 0 14.400 17.900 1.150 1.150 0 1 0 14.400 15.600Z"/><rect x="6.200" y="3.900" width="7.600" height="1.100" fill="#d8d8d8"/></svg></div></div>
<div class="row" style="top:730.28px"><div class="c n"><span class="t" style="transform:scaleX(0.9162);margin-left:-0.92px">Maďarsko - pôvaby krajiny a Tokaj</span></div><div class="c d"><span class="t" style="transform:scaleX(0.9180)">19.09. - 21.09.</span></div><div class="c i"><svg class="ic" viewBox="0 0 20 23.53"><path fill-rule="evenodd" d="M5.600 2.400H14.400C16.700 2.400 18 3.700 18 5.600V7H18.500C18.800 7 19 7.200 19 7.500V10C19 10.300 18.800 10.500 18.500 10.500H18V18.100C18 18.800 17.500 19.300 16.800 19.300V20.700C16.800 21.150 16.450 21.500 16 21.500H15.300C14.850 21.500 14.500 21.150 14.500 20.700V19.300H5.500V20.700C5.500 21.150 5.150 21.500 4.700 21.500H4C3.550 21.500 3.200 21.150 3.200 20.700V19.300C2.500 19.300 2 18.800 2 18.100V10.500H1.500C1.200 10.500 1 10.300 1 10V7.500C1 7.200 1.200 7 1.500 7H2V5.600C2 3.700 3.300 2.400 5.600 2.400ZM4.200 6.100H15.800V12.400H4.200ZM5.600 15.600A1.150 1.150 0 1 0 5.600 17.900 1.150 1.150 0 1 0 5.600 15.600ZM14.400 15.600A1.150 1.150 0 1 0 14.400 17.900 1.150 1.150 0 1 0 14.400 15.600Z"/><rect x="6.200" y="3.900" width="7.600" height="1.100" fill="#d8d8d8"/></svg></div></div>
<div class="row" style="top:753.81px"><div class="c n"><span class="t" style="transform:scaleX(0.9300);margin-left:0px">Zlatý český trojuholník</span></div><div class="c d"><span class="t" style="transform:scaleX(0.9180)">19.09. - 22.09.</span></div><div class="c i"><svg class="ic" viewBox="0 0 20 23.53"><path fill-rule="evenodd" d="M5.600 2.400H14.400C16.700 2.400 18 3.700 18 5.600V7H18.500C18.800 7 19 7.200 19 7.500V10C19 10.300 18.800 10.500 18.500 10.500H18V18.100C18 18.800 17.500 19.300 16.800 19.300V20.700C16.800 21.150 16.450 21.500 16 21.500H15.300C14.850 21.500 14.500 21.150 14.500 20.700V19.300H5.500V20.700C5.500 21.150 5.150 21.500 4.700 21.500H4C3.550 21.500 3.200 21.150 3.200 20.700V19.300C2.500 19.300 2 18.800 2 18.100V10.500H1.500C1.200 10.500 1 10.300 1 10V7.500C1 7.200 1.200 7 1.500 7H2V5.600C2 3.700 3.300 2.400 5.600 2.400ZM4.200 6.100H15.800V12.400H4.200ZM5.600 15.600A1.150 1.150 0 1 0 5.600 17.900 1.150 1.150 0 1 0 5.600 15.600ZM14.400 15.600A1.150 1.150 0 1 0 14.400 17.900 1.150 1.150 0 1 0 14.400 15.600Z"/><rect x="6.200" y="3.900" width="7.600" height="1.100" fill="#d8d8d8"/></svg></div></div>
<div class="row" style="top:777.34px"><div class="c n"><span class="t" style="transform:scaleX(0.9007);margin-left:0px">Slovinsko a Plitvické jazerá</span></div><div class="c d"><span class="t" style="transform:scaleX(0.9180)">19.09. - 22.09.</span></div><div class="c i"><svg class="ic" viewBox="0 0 20 23.53"><path fill-rule="evenodd" d="M5.600 2.400H14.400C16.700 2.400 18 3.700 18 5.600V7H18.500C18.800 7 19 7.200 19 7.500V10C19 10.300 18.800 10.500 18.500 10.500H18V18.100C18 18.800 17.500 19.300 16.800 19.300V20.700C16.800 21.150 16.450 21.500 16 21.500H15.300C14.850 21.500 14.500 21.150 14.500 20.700V19.300H5.500V20.700C5.500 21.150 5.150 21.500 4.700 21.500H4C3.550 21.500 3.200 21.150 3.200 20.700V19.300C2.500 19.300 2 18.800 2 18.100V10.500H1.500C1.200 10.500 1 10.300 1 10V7.500C1 7.200 1.200 7 1.500 7H2V5.600C2 3.700 3.300 2.400 5.600 2.400ZM4.200 6.100H15.800V12.400H4.200ZM5.600 15.600A1.150 1.150 0 1 0 5.600 17.900 1.150 1.150 0 1 0 5.600 15.600ZM14.400 15.600A1.150 1.150 0 1 0 14.400 17.900 1.150 1.150 0 1 0 14.400 15.600Z"/><rect x="6.200" y="3.900" width="7.600" height="1.100" fill="#d8d8d8"/></svg></div></div>
<div class="row" style="top:800.87px"><div class="c n"><span class="t" style="transform:scaleX(0.9176);margin-left:-0.92px">Kampánia s kúpaním</span></div><div class="c d"><span class="t" style="transform:scaleX(0.9091)">20.09. - 26.09.</span></div><div class="c i"><svg class="ic" viewBox="0 0 20 23.53"><path fill-rule="evenodd" d="M5.600 2.400H14.400C16.700 2.400 18 3.700 18 5.600V7H18.500C18.800 7 19 7.200 19 7.500V10C19 10.300 18.800 10.500 18.500 10.500H18V18.100C18 18.800 17.500 19.300 16.800 19.300V20.700C16.800 21.150 16.450 21.500 16 21.500H15.300C14.850 21.500 14.500 21.150 14.500 20.700V19.300H5.500V20.700C5.500 21.150 5.150 21.500 4.700 21.500H4C3.550 21.500 3.200 21.150 3.200 20.700V19.300C2.500 19.300 2 18.800 2 18.100V10.500H1.500C1.200 10.500 1 10.300 1 10V7.500C1 7.200 1.200 7 1.500 7H2V5.600C2 3.700 3.300 2.400 5.600 2.400ZM4.200 6.100H15.800V12.400H4.200ZM5.600 15.600A1.150 1.150 0 1 0 5.600 17.900 1.150 1.150 0 1 0 5.600 15.600ZM14.400 15.600A1.150 1.150 0 1 0 14.400 17.900 1.150 1.150 0 1 0 14.400 15.600Z"/><rect x="6.200" y="3.900" width="7.600" height="1.100" fill="#d8d8d8"/></svg></div></div>
<div class="row" style="top:824.4px"><div class="c n"><span class="t" style="transform:scaleX(0.9062);margin-left:0px">Andorra, Girona a Katalánsko</span></div><div class="c d"><span class="t" style="transform:scaleX(0.9091)">20.09. - 27.09.</span></div><div class="c i"><svg class="ic" viewBox="0 0 20 23.53"><path transform="translate(0 .3)" d="M10 2.300C10.900 2.300 11.550 3.100 11.550 4.300V8.900L19 13.200C19.600 13.600 19.400 14.950 18.500 14.750L11.550 13.650 11.300 17.600 13.800 19.300C14.300 19.700 14.100 20.900 13.350 20.750L10 19.700 6.650 20.750C5.900 20.900 5.700 19.700 6.200 19.300L8.700 17.600 8.450 13.650 1.500 14.750C.6 14.950.4 13.600 1 13.200L8.450 8.900V4.300C8.450 3.100 9.100 2.300 10 2.300Z"/></svg></div></div>
<div class="row" style="top:847.93px"><div class="c n"><span class="t" style="transform:scaleX(0.8930);margin-left:0px">Albánsko a Čierna Hora</span></div><div class="c d"><span class="t" style="transform:scaleX(0.9091)">23.09. - 29.09.</span></div><div class="c i"><svg class="ic" viewBox="0 0 20 23.53"><path transform="translate(0 .3)" d="M10 2.300C10.900 2.300 11.550 3.100 11.550 4.300V8.900L19 13.200C19.600 13.600 19.400 14.950 18.500 14.750L11.550 13.650 11.300 17.600 13.800 19.300C14.300 19.700 14.100 20.900 13.350 20.750L10 19.700 6.650 20.750C5.900 20.900 5.700 19.700 6.200 19.300L8.700 17.600 8.450 13.650 1.500 14.750C.6 14.950.4 13.600 1 13.200L8.450 8.900V4.300C8.450 3.100 9.100 2.300 10 2.300Z"/></svg></div></div>
<div class="row" style="top:871.46px"><div class="c n"><span class="t" style="transform:scaleX(0.8750);margin-left:0px">To najkrajšie z Toskánska</span></div><div class="c d"><span class="t" style="transform:scaleX(0.9091)">24.09. - 28.09.</span></div><div class="c i"><svg class="ic" viewBox="0 0 20 23.53"><path fill-rule="evenodd" d="M5.600 2.400H14.400C16.700 2.400 18 3.700 18 5.600V7H18.500C18.800 7 19 7.200 19 7.500V10C19 10.300 18.800 10.500 18.500 10.500H18V18.100C18 18.800 17.500 19.300 16.800 19.300V20.700C16.800 21.150 16.450 21.500 16 21.500H15.300C14.850 21.500 14.500 21.150 14.500 20.700V19.300H5.500V20.700C5.500 21.150 5.150 21.500 4.700 21.500H4C3.550 21.500 3.200 21.150 3.200 20.700V19.300C2.500 19.300 2 18.800 2 18.100V10.500H1.500C1.200 10.500 1 10.300 1 10V7.500C1 7.200 1.200 7 1.500 7H2V5.600C2 3.700 3.300 2.400 5.600 2.400ZM4.200 6.100H15.800V12.400H4.200ZM5.600 15.600A1.150 1.150 0 1 0 5.600 17.900 1.150 1.150 0 1 0 5.600 15.600ZM14.400 15.600A1.150 1.150 0 1 0 14.400 17.900 1.150 1.150 0 1 0 14.400 15.600Z"/><rect x="6.200" y="3.900" width="7.600" height="1.100" fill="#d8d8d8"/></svg></div></div>
<div class="row" style="top:894.99px"><div class="c n"><span class="t" style="transform:scaleX(0.9112);margin-left:0px">Okruh severným Talianskom</span></div><div class="c d"><span class="t" style="transform:scaleX(0.9091)">24.09. - 28.09.</span></div><div class="c i"><svg class="ic" viewBox="0 0 20 23.53"><path fill-rule="evenodd" d="M5.600 2.400H14.400C16.700 2.400 18 3.700 18 5.600V7H18.500C18.800 7 19 7.200 19 7.500V10C19 10.300 18.800 10.500 18.500 10.500H18V18.100C18 18.800 17.500 19.300 16.800 19.300V20.700C16.800 21.150 16.450 21.500 16 21.500H15.300C14.850 21.500 14.500 21.150 14.500 20.700V19.300H5.500V20.700C5.500 21.150 5.150 21.500 4.700 21.500H4C3.550 21.500 3.200 21.150 3.200 20.700V19.300C2.500 19.300 2 18.800 2 18.100V10.500H1.500C1.200 10.500 1 10.300 1 10V7.500C1 7.200 1.200 7 1.500 7H2V5.600C2 3.700 3.300 2.400 5.600 2.400ZM4.200 6.100H15.800V12.400H4.200ZM5.600 15.600A1.150 1.150 0 1 0 5.600 17.900 1.150 1.150 0 1 0 5.600 15.600ZM14.400 15.600A1.150 1.150 0 1 0 14.400 17.900 1.150 1.150 0 1 0 14.400 15.600Z"/><rect x="6.200" y="3.900" width="7.600" height="1.100" fill="#d8d8d8"/></svg></div></div>
<div class="row" style="top:918.52px"><div class="c n"><span class="t" style="transform:scaleX(0.9371);margin-left:0px">Andalúzia - križovatka kultúr</span></div><div class="c d"><span class="t" style="transform:scaleX(0.9091)">24.09. - 01.10.</span></div><div class="c i"><svg class="ic" viewBox="0 0 20 23.53"><path transform="translate(0 .3)" d="M10 2.300C10.900 2.300 11.550 3.100 11.550 4.300V8.900L19 13.200C19.600 13.600 19.400 14.950 18.500 14.750L11.550 13.650 11.300 17.600 13.800 19.300C14.300 19.700 14.100 20.900 13.350 20.750L10 19.700 6.650 20.750C5.900 20.900 5.700 19.700 6.200 19.300L8.700 17.600 8.450 13.650 1.500 14.750C.6 14.950.4 13.600 1 13.200L8.450 8.900V4.300C8.450 3.100 9.100 2.300 10 2.300Z"/></svg></div></div>
<div class="row" style="top:942.05px"><div class="c n"><span class="t" style="transform:scaleX(0.9413);margin-left:0px">Andalúzia s pobytom pri mori</span></div><div class="c d"><span class="t" style="transform:scaleX(0.9091)">24.09. - 04.10.</span></div><div class="c i"><svg class="ic" viewBox="0 0 20 23.53"><path transform="translate(0 .3)" d="M10 2.300C10.900 2.300 11.550 3.100 11.550 4.300V8.900L19 13.200C19.600 13.600 19.400 14.950 18.500 14.750L11.550 13.650 11.300 17.600 13.800 19.300C14.300 19.700 14.100 20.900 13.350 20.750L10 19.700 6.650 20.750C5.900 20.900 5.700 19.700 6.200 19.300L8.700 17.600 8.450 13.650 1.500 14.750C.6 14.950.4 13.600 1 13.200L8.450 8.900V4.300C8.450 3.100 9.100 2.300 10 2.300Z"/></svg></div></div>
<div class="row" style="top:965.58px"><div class="c n"><span class="t" style="transform:scaleX(0.8990);margin-left:-0.9px">Praha, zámky a hrady v Čechách</span></div><div class="c d"><span class="t" style="transform:scaleX(0.9091)">25.09. - 28.09.</span></div><div class="c i"><svg class="ic" viewBox="0 0 20 23.53"><path fill-rule="evenodd" d="M5.600 2.400H14.400C16.700 2.400 18 3.700 18 5.600V7H18.500C18.800 7 19 7.200 19 7.500V10C19 10.300 18.800 10.500 18.500 10.500H18V18.100C18 18.800 17.500 19.300 16.800 19.300V20.700C16.800 21.150 16.450 21.500 16 21.500H15.300C14.850 21.500 14.500 21.150 14.500 20.700V19.300H5.500V20.700C5.500 21.150 5.150 21.500 4.700 21.500H4C3.550 21.500 3.200 21.150 3.200 20.700V19.300C2.500 19.300 2 18.800 2 18.100V10.500H1.500C1.200 10.500 1 10.300 1 10V7.500C1 7.200 1.200 7 1.500 7H2V5.600C2 3.700 3.300 2.400 5.600 2.400ZM4.200 6.100H15.800V12.400H4.200ZM5.600 15.600A1.150 1.150 0 1 0 5.600 17.900 1.150 1.150 0 1 0 5.600 15.600ZM14.400 15.600A1.150 1.150 0 1 0 14.400 17.900 1.150 1.150 0 1 0 14.400 15.600Z"/><rect x="6.200" y="3.900" width="7.600" height="1.100" fill="#d8d8d8"/></svg></div></div>
<div class="row" style="top:989.11px"><div class="c n"><span class="t" style="transform:scaleX(0.8928);margin-left:-0.89px">Rakúsko, Taliansko, Slovinsko</span></div><div class="c d"><span class="t" style="transform:scaleX(0.9091)">25.09. - 28.09.</span></div><div class="c i"><svg class="ic" viewBox="0 0 20 23.53"><path fill-rule="evenodd" d="M5.600 2.400H14.400C16.700 2.400 18 3.700 18 5.600V7H18.500C18.800 7 19 7.200 19 7.500V10C19 10.300 18.800 10.500 18.500 10.500H18V18.100C18 18.800 17.500 19.300 16.800 19.300V20.700C16.800 21.150 16.450 21.500 16 21.500H15.300C14.850 21.500 14.500 21.150 14.500 20.700V19.300H5.500V20.700C5.500 21.150 5.150 21.500 4.700 21.500H4C3.550 21.500 3.200 21.150 3.200 20.700V19.300C2.500 19.300 2 18.800 2 18.100V10.500H1.500C1.200 10.500 1 10.300 1 10V7.500C1 7.200 1.200 7 1.500 7H2V5.600C2 3.700 3.300 2.400 5.600 2.400ZM4.200 6.100H15.800V12.400H4.200ZM5.600 15.600A1.150 1.150 0 1 0 5.600 17.900 1.150 1.150 0 1 0 5.600 15.600ZM14.400 15.600A1.150 1.150 0 1 0 14.400 17.900 1.150 1.150 0 1 0 14.400 15.600Z"/><rect x="6.200" y="3.900" width="7.600" height="1.100" fill="#d8d8d8"/></svg></div></div>
<div class="row" style="top:1012.64px"><div class="c n"><span class="t" style="transform:scaleX(0.8731);margin-left:-0.87px">Paríž - srdce Francúzska</span></div><div class="c d"><span class="t" style="transform:scaleX(0.9091)">25.09. - 28.09.</span></div><div class="c i"><svg class="ic" viewBox="0 0 20 23.53"><path transform="translate(0 .3)" d="M10 2.300C10.900 2.300 11.550 3.100 11.550 4.300V8.900L19 13.200C19.600 13.600 19.400 14.950 18.500 14.750L11.550 13.650 11.300 17.600 13.800 19.300C14.300 19.700 14.100 20.900 13.350 20.750L10 19.700 6.650 20.750C5.900 20.900 5.700 19.700 6.200 19.300L8.700 17.600 8.450 13.650 1.500 14.750C.6 14.950.4 13.600 1 13.200L8.450 8.900V4.300C8.450 3.100 9.100 2.300 10 2.300Z"/></svg></div></div>
<div class="row" style="top:1036.17px"><div class="c n"><span class="t" style="transform:scaleX(0.8698);margin-left:0px">Toskánske skvosty</span></div><div class="c d"><span class="t" style="transform:scaleX(0.9091)">25.09. - 29.09.</span></div><div class="c i"><svg class="ic" viewBox="0 0 20 23.53"><path transform="translate(0 .3)" d="M10 2.300C10.900 2.300 11.550 3.100 11.550 4.300V8.900L19 13.200C19.600 13.600 19.400 14.950 18.500 14.750L11.550 13.650 11.300 17.600 13.800 19.300C14.300 19.700 14.100 20.900 13.350 20.750L10 19.700 6.650 20.750C5.900 20.900 5.700 19.700 6.200 19.300L8.700 17.600 8.450 13.650 1.500 14.750C.6 14.950.4 13.600 1 13.200L8.450 8.900V4.300C8.450 3.100 9.100 2.300 10 2.300Z"/></svg></div></div>
<div class="row" style="top:1059.7px"><div class="c n"><span class="t" style="transform:scaleX(0.9074);margin-left:0px">Adršpašské skaly a tajomné česko-poľské pohraničie</span></div><div class="c d"><span class="t" style="transform:scaleX(0.9091)">26.09. - 28.09.</span></div><div class="c i"><svg class="ic" viewBox="0 0 20 23.53"><path fill-rule="evenodd" d="M5.600 2.400H14.400C16.700 2.400 18 3.700 18 5.600V7H18.500C18.800 7 19 7.200 19 7.500V10C19 10.300 18.800 10.500 18.500 10.500H18V18.100C18 18.800 17.500 19.300 16.800 19.300V20.700C16.800 21.150 16.450 21.500 16 21.500H15.300C14.850 21.500 14.500 21.150 14.500 20.700V19.300H5.500V20.700C5.500 21.150 5.150 21.500 4.700 21.500H4C3.550 21.500 3.200 21.150 3.200 20.700V19.300C2.500 19.300 2 18.800 2 18.100V10.500H1.500C1.200 10.500 1 10.300 1 10V7.500C1 7.200 1.200 7 1.500 7H2V5.600C2 3.700 3.300 2.400 5.600 2.400ZM4.200 6.100H15.800V12.400H4.200ZM5.600 15.600A1.150 1.150 0 1 0 5.600 17.900 1.150 1.150 0 1 0 5.600 15.600ZM14.400 15.600A1.150 1.150 0 1 0 14.400 17.900 1.150 1.150 0 1 0 14.400 15.600Z"/><rect x="6.200" y="3.900" width="7.600" height="1.100" fill="#d8d8d8"/></svg></div></div>
<div class="row" style="top:1083.23px"><div class="c n"><span class="t" style="transform:scaleX(0.8993);margin-left:0px">Česko a Rakúsko - brehmi Dunaja a Vltavy</span></div><div class="c d"><span class="t" style="transform:scaleX(0.9091)">26.09. - 28.09.</span></div><div class="c i"><svg class="ic" viewBox="0 0 20 23.53"><path fill-rule="evenodd" d="M5.600 2.400H14.400C16.700 2.400 18 3.700 18 5.600V7H18.500C18.800 7 19 7.200 19 7.500V10C19 10.300 18.800 10.500 18.500 10.500H18V18.100C18 18.800 17.500 19.300 16.800 19.300V20.700C16.800 21.150 16.450 21.500 16 21.500H15.300C14.850 21.500 14.500 21.150 14.500 20.700V19.300H5.500V20.700C5.500 21.150 5.150 21.500 4.700 21.500H4C3.550 21.500 3.200 21.150 3.200 20.700V19.300C2.500 19.300 2 18.800 2 18.100V10.500H1.500C1.200 10.500 1 10.300 1 10V7.500C1 7.200 1.200 7 1.500 7H2V5.600C2 3.700 3.300 2.400 5.600 2.400ZM4.200 6.100H15.800V12.400H4.200ZM5.600 15.600A1.150 1.150 0 1 0 5.600 17.900 1.150 1.150 0 1 0 5.600 15.600ZM14.400 15.600A1.150 1.150 0 1 0 14.400 17.900 1.150 1.150 0 1 0 14.400 15.600Z"/><rect x="6.200" y="3.900" width="7.600" height="1.100" fill="#d8d8d8"/></svg></div></div>
<div class="row" style="top:1106.76px"><div class="c n"><span class="t" style="transform:scaleX(0.9171);margin-left:-0.92px">Kampánia a čarovný ostrov Capri</span></div><div class="c d"><span class="t" style="transform:scaleX(0.9091)">26.09. - 30.09.</span></div><div class="c i"><svg class="ic" viewBox="0 0 20 23.53"><path transform="translate(0 .3)" d="M10 2.300C10.900 2.300 11.550 3.100 11.550 4.300V8.900L19 13.200C19.600 13.600 19.400 14.950 18.500 14.750L11.550 13.650 11.300 17.600 13.800 19.300C14.300 19.700 14.100 20.900 13.350 20.750L10 19.700 6.650 20.750C5.900 20.900 5.700 19.700 6.200 19.300L8.700 17.600 8.450 13.650 1.500 14.750C.6 14.950.4 13.600 1 13.200L8.450 8.900V4.300C8.450 3.100 9.100 2.300 10 2.300Z"/></svg></div></div>
<div class="row hd" style="top:1153.82px"><div class="c n"><span class="t h" style="transform:scaleX(0.8366);margin-left:0px">OKTÓBER</span></div><div class="c d"><span class="t h" style="transform:scaleX(0.9931)">termín</span></div><div class="c i"><span class="t h" style="transform:scaleX(0.9270)">doprava</span></div></div>
<div class="row" style="top:1177.35px"><div class="c n"><span class="t" style="transform:scaleX(0.9395);margin-left:-0.94px">Porto plnými dúškami</span></div><div class="c d"><span class="t" style="transform:scaleX(0.9091)">01.10. - 04.10.</span></div><div class="c i"><svg class="ic" viewBox="0 0 20 23.53"><path transform="translate(0 .3)" d="M10 2.300C10.900 2.300 11.550 3.100 11.550 4.300V8.900L19 13.200C19.600 13.600 19.400 14.950 18.500 14.750L11.550 13.650 11.300 17.600 13.800 19.300C14.300 19.700 14.100 20.900 13.350 20.750L10 19.700 6.650 20.750C5.900 20.900 5.700 19.700 6.200 19.300L8.700 17.600 8.450 13.650 1.500 14.750C.6 14.950.4 13.600 1 13.200L8.450 8.900V4.300C8.450 3.100 9.100 2.300 10 2.300Z"/></svg></div></div>
<div class="row" style="top:1200.88px"><div class="c n"><span class="t" style="transform:scaleX(0.9062);margin-left:-0.91px">Rumunsko - Sedmohradsko a tajomná Transylvánia</span></div><div class="c d"><span class="t" style="transform:scaleX(0.9091)">01.10. - 05.10.</span></div><div class="c i"><svg class="ic" viewBox="0 0 20 23.53"><path fill-rule="evenodd" d="M5.600 2.400H14.400C16.700 2.400 18 3.700 18 5.600V7H18.500C18.800 7 19 7.200 19 7.500V10C19 10.300 18.800 10.500 18.500 10.500H18V18.100C18 18.800 17.500 19.300 16.800 19.300V20.700C16.800 21.150 16.450 21.500 16 21.500H15.300C14.850 21.500 14.500 21.150 14.500 20.700V19.300H5.500V20.700C5.500 21.150 5.150 21.500 4.700 21.500H4C3.550 21.500 3.200 21.150 3.200 20.700V19.300C2.500 19.300 2 18.800 2 18.100V10.500H1.500C1.200 10.500 1 10.300 1 10V7.500C1 7.200 1.200 7 1.500 7H2V5.600C2 3.700 3.300 2.400 5.600 2.400ZM4.200 6.100H15.800V12.400H4.200ZM5.600 15.600A1.150 1.150 0 1 0 5.600 17.900 1.150 1.150 0 1 0 5.600 15.600ZM14.400 15.600A1.150 1.150 0 1 0 14.400 17.900 1.150 1.150 0 1 0 14.400 15.600Z"/><rect x="6.200" y="3.900" width="7.600" height="1.100" fill="#d8d8d8"/></svg></div></div>
<div class="row" style="top:1224.41px"><div class="c n"><span class="t" style="transform:scaleX(0.9300);margin-left:0px">Zlatý český trojuholník</span></div><div class="c d"><span class="t" style="transform:scaleX(0.9091)">02.10. - 05.10.</span></div><div class="c i"><svg class="ic" viewBox="0 0 20 23.53"><path fill-rule="evenodd" d="M5.600 2.400H14.400C16.700 2.400 18 3.700 18 5.600V7H18.500C18.800 7 19 7.200 19 7.500V10C19 10.300 18.800 10.500 18.500 10.500H18V18.100C18 18.800 17.500 19.300 16.800 19.300V20.700C16.800 21.150 16.450 21.500 16 21.500H15.300C14.850 21.500 14.500 21.150 14.500 20.700V19.300H5.500V20.700C5.500 21.150 5.150 21.500 4.700 21.500H4C3.550 21.500 3.200 21.150 3.200 20.700V19.300C2.500 19.300 2 18.800 2 18.100V10.500H1.500C1.200 10.500 1 10.300 1 10V7.500C1 7.200 1.200 7 1.500 7H2V5.600C2 3.700 3.300 2.400 5.600 2.400ZM4.200 6.100H15.800V12.400H4.200ZM5.600 15.600A1.150 1.150 0 1 0 5.600 17.900 1.150 1.150 0 1 0 5.600 15.600ZM14.400 15.600A1.150 1.150 0 1 0 14.400 17.900 1.150 1.150 0 1 0 14.400 15.600Z"/><rect x="6.200" y="3.900" width="7.600" height="1.100" fill="#d8d8d8"/></svg></div></div>
<div class="row" style="top:1247.94px"><div class="c n"><span class="t" style="transform:scaleX(0.8863);margin-left:0px">Zákutia Toskánska a ostrov Elba</span></div><div class="c d"><span class="t" style="transform:scaleX(0.9091)">02.10. - 05.10.</span></div><div class="c i"><svg class="ic" viewBox="0 0 20 23.53"><path transform="translate(0 .3)" d="M10 2.300C10.900 2.300 11.550 3.100 11.550 4.300V8.900L19 13.200C19.600 13.600 19.400 14.950 18.500 14.750L11.550 13.650 11.300 17.600 13.800 19.300C14.300 19.700 14.100 20.900 13.350 20.750L10 19.700 6.650 20.750C5.900 20.900 5.700 19.700 6.200 19.300L8.700 17.600 8.450 13.650 1.500 14.750C.6 14.950.4 13.600 1 13.200L8.450 8.900V4.300C8.450 3.100 9.100 2.300 10 2.300Z"/></svg></div></div>
<div class="row" style="top:1271.47px"><div class="c n"><span class="t" style="transform:scaleX(0.9396);margin-left:-0.94px">Lisabon - portugalský labyrint</span></div><div class="c d"><span class="t" style="transform:scaleX(0.9091)">04.10. - 07.10.</span></div><div class="c i"><svg class="ic" viewBox="0 0 20 23.53"><path transform="translate(0 .3)" d="M10 2.300C10.900 2.300 11.550 3.100 11.550 4.300V8.900L19 13.200C19.600 13.600 19.400 14.950 18.500 14.750L11.550 13.650 11.300 17.600 13.800 19.300C14.300 19.700 14.100 20.900 13.350 20.750L10 19.700 6.650 20.750C5.900 20.900 5.700 19.700 6.200 19.300L8.700 17.600 8.450 13.650 1.500 14.750C.6 14.950.4 13.600 1 13.200L8.450 8.900V4.300C8.450 3.100 9.100 2.300 10 2.300Z"/></svg></div></div>
<div class="row" style="top:1295px"><div class="c n"><span class="t" style="transform:scaleX(0.9090);margin-left:-0.91px">Florencia - kolíska renesancie</span></div><div class="c d"><span class="t" style="transform:scaleX(0.9091)">04.10. - 07.10.</span></div><div class="c i"><svg class="ic" viewBox="0 0 20 23.53"><path transform="translate(0 .3)" d="M10 2.300C10.900 2.300 11.550 3.100 11.550 4.300V8.900L19 13.200C19.600 13.600 19.400 14.950 18.500 14.750L11.550 13.650 11.300 17.600 13.800 19.300C14.300 19.700 14.100 20.900 13.350 20.750L10 19.700 6.650 20.750C5.900 20.900 5.700 19.700 6.200 19.300L8.700 17.600 8.450 13.650 1.500 14.750C.6 14.950.4 13.600 1 13.200L8.450 8.900V4.300C8.450 3.100 9.100 2.300 10 2.300Z"/></svg></div></div>
<div class="row" style="top:1318.53px"><div class="c n"><span class="t" style="transform:scaleX(0.8859);margin-left:0px">Cesta za krásami Portugalska</span></div><div class="c d"><span class="t" style="transform:scaleX(0.9091)">07.10. - 14.10.</span></div><div class="c i"><svg class="ic" viewBox="0 0 20 23.53"><path transform="translate(0 .3)" d="M10 2.300C10.900 2.300 11.550 3.100 11.550 4.300V8.900L19 13.200C19.600 13.600 19.400 14.950 18.500 14.750L11.550 13.650 11.300 17.600 13.800 19.300C14.300 19.700 14.100 20.900 13.350 20.750L10 19.700 6.650 20.750C5.900 20.900 5.700 19.700 6.200 19.300L8.700 17.600 8.450 13.650 1.500 14.750C.6 14.950.4 13.600 1 13.200L8.450 8.900V4.300C8.450 3.100 9.100 2.300 10 2.300Z"/></svg></div></div>
<div class="row" style="top:1342.06px"><div class="c n"><span class="t" style="transform:scaleX(0.8987);margin-left:-0.9px">Barcelona - Gaudího sen</span></div><div class="c d"><span class="t" style="transform:scaleX(0.9200)">08.10. - 11.10.</span></div><div class="c i"><svg class="ic" viewBox="0 0 20 23.53"><path transform="translate(0 .3)" d="M10 2.300C10.900 2.300 11.550 3.100 11.550 4.300V8.900L19 13.200C19.600 13.600 19.400 14.950 18.500 14.750L11.550 13.650 11.300 17.600 13.800 19.300C14.300 19.700 14.100 20.900 13.350 20.750L10 19.700 6.650 20.750C5.900 20.900 5.700 19.700 6.200 19.300L8.700 17.600 8.450 13.650 1.500 14.750C.6 14.950.4 13.600 1 13.200L8.450 8.900V4.300C8.450 3.100 9.100 2.300 10 2.300Z"/></svg></div></div>
<div class="row" style="top:1365.59px"><div class="c n"><span class="t" style="transform:scaleX(0.9378);margin-left:-0.94px">Istanbul - mesto tisícich príbehov</span></div><div class="c d"><span class="t" style="transform:scaleX(0.9200)">08.10. - 11.10.</span></div><div class="c i"><svg class="ic" viewBox="0 0 20 23.53"><path transform="translate(0 .3)" d="M10 2.300C10.900 2.300 11.550 3.100 11.550 4.300V8.900L19 13.200C19.600 13.600 19.400 14.950 18.500 14.750L11.550 13.650 11.300 17.600 13.800 19.300C14.300 19.700 14.100 20.900 13.350 20.750L10 19.700 6.650 20.750C5.900 20.900 5.700 19.700 6.200 19.300L8.700 17.600 8.450 13.650 1.500 14.750C.6 14.950.4 13.600 1 13.200L8.450 8.900V4.300C8.450 3.100 9.100 2.300 10 2.300Z"/></svg></div></div>
<div class="row" style="top:1389.12px"><div class="c n"><span class="t" style="transform:scaleX(0.9072);margin-left:-0.91px">Rím - metropola Talianska</span></div><div class="c d"><span class="t" style="transform:scaleX(0.9091)">08.10. - 12.10.</span></div><div class="c i"><svg class="ic" viewBox="0 0 20 23.53"><path fill-rule="evenodd" d="M5.600 2.400H14.400C16.700 2.400 18 3.700 18 5.600V7H18.500C18.800 7 19 7.200 19 7.500V10C19 10.300 18.800 10.500 18.500 10.500H18V18.100C18 18.800 17.500 19.300 16.800 19.300V20.700C16.800 21.150 16.450 21.500 16 21.500H15.300C14.850 21.500 14.500 21.150 14.500 20.700V19.300H5.500V20.700C5.500 21.150 5.150 21.500 4.700 21.500H4C3.550 21.500 3.200 21.150 3.200 20.700V19.300C2.500 19.300 2 18.800 2 18.100V10.500H1.500C1.200 10.500 1 10.300 1 10V7.500C1 7.200 1.200 7 1.500 7H2V5.600C2 3.700 3.300 2.400 5.600 2.400ZM4.200 6.100H15.800V12.400H4.200ZM5.600 15.600A1.150 1.150 0 1 0 5.600 17.900 1.150 1.150 0 1 0 5.600 15.600ZM14.400 15.600A1.150 1.150 0 1 0 14.400 17.900 1.150 1.150 0 1 0 14.400 15.600Z"/><rect x="6.200" y="3.900" width="7.600" height="1.100" fill="#d8d8d8"/></svg></div></div>
<div class="row" style="top:1412.65px"><div class="c n"><span class="t" style="transform:scaleX(0.9215);margin-left:-0.92px">Umbria - potulky srdcom Talianska</span></div><div class="c d"><span class="t" style="transform:scaleX(0.9091)">08.10. - 12.10.</span></div><div class="c i"><svg class="ic" viewBox="0 0 20 23.53"><path fill-rule="evenodd" d="M5.600 2.400H14.400C16.700 2.400 18 3.700 18 5.600V7H18.500C18.800 7 19 7.200 19 7.500V10C19 10.300 18.800 10.500 18.500 10.500H18V18.100C18 18.800 17.500 19.300 16.800 19.300V20.700C16.800 21.150 16.450 21.500 16 21.500H15.300C14.850 21.500 14.500 21.150 14.500 20.700V19.300H5.500V20.700C5.500 21.150 5.150 21.500 4.700 21.500H4C3.550 21.500 3.200 21.150 3.200 20.700V19.300C2.500 19.300 2 18.800 2 18.100V10.500H1.500C1.200 10.500 1 10.300 1 10V7.500C1 7.200 1.200 7 1.500 7H2V5.600C2 3.700 3.300 2.400 5.600 2.400ZM4.200 6.100H15.800V12.400H4.200ZM5.600 15.600A1.150 1.150 0 1 0 5.600 17.900 1.150 1.150 0 1 0 5.600 15.600ZM14.400 15.600A1.150 1.150 0 1 0 14.400 17.900 1.150 1.150 0 1 0 14.400 15.600Z"/><rect x="6.200" y="3.900" width="7.600" height="1.100" fill="#d8d8d8"/></svg></div></div>
<div class="row" style="top:1436.18px"><div class="c n"><span class="t" style="transform:scaleX(0.8698);margin-left:0px">Toskánske skvosty</span></div><div class="c d"><span class="t" style="transform:scaleX(0.9091)">09.10. - 13.10.</span></div><div class="c i"><svg class="ic" viewBox="0 0 20 23.53"><path transform="translate(0 .3)" d="M10 2.300C10.900 2.300 11.550 3.100 11.550 4.300V8.900L19 13.200C19.600 13.600 19.400 14.950 18.500 14.750L11.550 13.650 11.300 17.600 13.800 19.300C14.300 19.700 14.100 20.900 13.350 20.750L10 19.700 6.650 20.750C5.900 20.900 5.700 19.700 6.200 19.300L8.700 17.600 8.450 13.650 1.500 14.750C.6 14.950.4 13.600 1 13.200L8.450 8.900V4.300C8.450 3.100 9.100 2.300 10 2.300Z"/></svg></div></div>
<div class="row" style="top:1459.71px"><div class="c n"><span class="t" style="transform:scaleX(0.9216);margin-left:0px">Taliansko na tanieri</span></div><div class="c d"><span class="t" style="transform:scaleX(0.9091)">09.10. - 13.10.</span></div><div class="c i"><svg class="ic" viewBox="0 0 20 23.53"><path transform="translate(0 .3)" d="M10 2.300C10.900 2.300 11.550 3.100 11.550 4.300V8.900L19 13.200C19.600 13.600 19.400 14.950 18.500 14.750L11.550 13.650 11.300 17.600 13.800 19.300C14.300 19.700 14.100 20.900 13.350 20.750L10 19.700 6.650 20.750C5.900 20.900 5.700 19.700 6.200 19.300L8.700 17.600 8.450 13.650 1.500 14.750C.6 14.950.4 13.600 1 13.200L8.450 8.900V4.300C8.450 3.100 9.100 2.300 10 2.300Z"/></svg></div></div>
<div class="row" style="top:1483.24px"><div class="c n"><span class="t" style="transform:scaleX(0.9251);margin-left:-0.93px">Ligúria - kráľovstvo pestrofarebných útesov</span></div><div class="c d"><span class="t" style="transform:scaleX(0.9180)">15.10. - 19.10.</span></div><div class="c i"><svg class="ic" viewBox="0 0 20 23.53"><path transform="translate(0 .3)" d="M10 2.300C10.900 2.300 11.550 3.100 11.550 4.300V8.900L19 13.200C19.600 13.600 19.400 14.950 18.500 14.750L11.550 13.650 11.300 17.600 13.800 19.300C14.300 19.700 14.100 20.900 13.350 20.750L10 19.700 6.650 20.750C5.900 20.900 5.700 19.700 6.200 19.300L8.700 17.600 8.450 13.650 1.500 14.750C.6 14.950.4 13.600 1 13.200L8.450 8.900V4.300C8.450 3.100 9.100 2.300 10 2.300Z"/></svg></div></div>
<div class="row" style="top:1506.77px"><div class="c n"><span class="t" style="transform:scaleX(0.9077);margin-left:-0.91px">Madrid - srdce Španielska</span></div><div class="c d"><span class="t" style="transform:scaleX(0.9180)">16.10. - 19.10.</span></div><div class="c i"><svg class="ic" viewBox="0 0 20 23.53"><path transform="translate(0 .3)" d="M10 2.300C10.900 2.300 11.550 3.100 11.550 4.300V8.900L19 13.200C19.600 13.600 19.400 14.950 18.500 14.750L11.550 13.650 11.300 17.600 13.800 19.300C14.300 19.700 14.100 20.900 13.350 20.750L10 19.700 6.650 20.750C5.900 20.900 5.700 19.700 6.200 19.300L8.700 17.600 8.450 13.650 1.500 14.750C.6 14.950.4 13.600 1 13.200L8.450 8.900V4.300C8.450 3.100 9.100 2.300 10 2.300Z"/></svg></div></div>
<div class="row" style="top:1530.3px"><div class="c n"><span class="t" style="transform:scaleX(0.9154);margin-left:-0.92px">Portugalsko - zem moreplavcov a slnka</span></div><div class="c d"><span class="t" style="transform:scaleX(0.9180)">16.10. - 23.10.</span></div><div class="c i"><svg class="ic" viewBox="0 0 20 23.53"><path transform="translate(0 .3)" d="M10 2.300C10.900 2.300 11.550 3.100 11.550 4.300V8.900L19 13.200C19.600 13.600 19.400 14.950 18.500 14.750L11.550 13.650 11.300 17.600 13.800 19.300C14.300 19.700 14.100 20.900 13.350 20.750L10 19.700 6.650 20.750C5.900 20.900 5.700 19.700 6.200 19.300L8.700 17.600 8.450 13.650 1.500 14.750C.6 14.950.4 13.600 1 13.200L8.450 8.900V4.300C8.450 3.100 9.100 2.300 10 2.300Z"/></svg></div></div>
<div class="row" style="top:1553.83px"><div class="c n"><span class="t" style="transform:scaleX(0.9168);margin-left:-0.92px">Kappadokia alebo krajina krásnych koní</span></div><div class="c d"><span class="t" style="transform:scaleX(0.9180)">17.10. - 21.10.</span></div><div class="c i"><svg class="ic" viewBox="0 0 20 23.53"><path transform="translate(0 .3)" d="M10 2.300C10.900 2.300 11.550 3.100 11.550 4.300V8.900L19 13.200C19.600 13.600 19.400 14.950 18.500 14.750L11.550 13.650 11.300 17.600 13.800 19.300C14.300 19.700 14.100 20.900 13.350 20.750L10 19.700 6.650 20.750C5.900 20.900 5.700 19.700 6.200 19.300L8.700 17.600 8.450 13.650 1.500 14.750C.6 14.950.4 13.600 1 13.200L8.450 8.900V4.300C8.450 3.100 9.100 2.300 10 2.300Z"/></svg></div></div>
<div class="row" style="top:1577.36px"><div class="c n"><span class="t" style="transform:scaleX(0.9095);margin-left:-0.91px">Maroko - kráľovské mestá a magická púšť</span></div><div class="c d"><span class="t" style="transform:scaleX(0.9180)">17.10. - 24.10.</span></div><div class="c i"><svg class="ic" viewBox="0 0 20 23.53"><path transform="translate(0 .3)" d="M10 2.300C10.900 2.300 11.550 3.100 11.550 4.300V8.900L19 13.200C19.600 13.600 19.400 14.950 18.500 14.750L11.550 13.650 11.300 17.600 13.800 19.300C14.300 19.700 14.100 20.900 13.350 20.750L10 19.700 6.650 20.750C5.900 20.900 5.700 19.700 6.200 19.300L8.700 17.600 8.450 13.650 1.500 14.750C.6 14.950.4 13.600 1 13.200L8.450 8.900V4.300C8.450 3.100 9.100 2.300 10 2.300Z"/></svg></div></div>
<div class="row" style="top:1600.89px"><div class="c n"><span class="t" style="transform:scaleX(0.9063);margin-left:0px">Jordánsko - tajomstvá Petry a divoká púšť</span></div><div class="c d"><span class="t" style="transform:scaleX(0.9091)">20.10. - 24.10.</span></div><div class="c i"><svg class="ic" viewBox="0 0 20 23.53"><path transform="translate(0 .3)" d="M10 2.300C10.900 2.300 11.550 3.100 11.550 4.300V8.900L19 13.200C19.600 13.600 19.400 14.950 18.500 14.750L11.550 13.650 11.300 17.600 13.800 19.300C14.300 19.700 14.100 20.900 13.350 20.750L10 19.700 6.650 20.750C5.900 20.900 5.700 19.700 6.200 19.300L8.700 17.600 8.450 13.650 1.500 14.750C.6 14.950.4 13.600 1 13.200L8.450 8.900V4.300C8.450 3.100 9.100 2.300 10 2.300Z"/></svg></div></div>
<div class="row" style="top:1624.42px"><div class="c n"><span class="t" style="transform:scaleX(0.9205);margin-left:0px">Tenerife - sopečný skvost Atlantiku</span></div><div class="c d"><span class="t" style="transform:scaleX(0.9091)">20.10. - 27.10.</span></div><div class="c i"><svg class="ic" viewBox="0 0 20 23.53"><path transform="translate(0 .3)" d="M10 2.300C10.900 2.300 11.550 3.100 11.550 4.300V8.900L19 13.200C19.600 13.600 19.400 14.950 18.500 14.750L11.550 13.650 11.300 17.600 13.800 19.300C14.300 19.700 14.100 20.900 13.350 20.750L10 19.700 6.650 20.750C5.900 20.900 5.700 19.700 6.200 19.300L8.700 17.600 8.450 13.650 1.500 14.750C.6 14.950.4 13.600 1 13.200L8.450 8.900V4.300C8.450 3.100 9.100 2.300 10 2.300Z"/></svg></div></div>
<div class="row" style="top:1647.95px"><div class="c n"><span class="t" style="transform:scaleX(0.9395);margin-left:-0.94px">Porto plnými dúškami</span></div><div class="c d"><span class="t" style="transform:scaleX(0.9091)">22.10. - 25.10.</span></div><div class="c i"><svg class="ic" viewBox="0 0 20 23.53"><path transform="translate(0 .3)" d="M10 2.300C10.900 2.300 11.550 3.100 11.550 4.300V8.900L19 13.200C19.600 13.600 19.400 14.950 18.500 14.750L11.550 13.650 11.300 17.600 13.800 19.300C14.300 19.700 14.100 20.900 13.350 20.750L10 19.700 6.650 20.750C5.900 20.900 5.700 19.700 6.200 19.300L8.700 17.600 8.450 13.650 1.500 14.750C.6 14.950.4 13.600 1 13.200L8.450 8.900V4.300C8.450 3.100 9.100 2.300 10 2.300Z"/></svg></div></div>
<div class="row" style="top:1671.48px"><div class="c n"><span class="t" style="transform:scaleX(0.9108);margin-left:-0.91px">Klobásový festival</span></div><div class="c d"><span class="t" style="transform:scaleX(0.9091)">25.10. - 26.10.</span></div><div class="c i"><svg class="ic" viewBox="0 0 20 23.53"><path fill-rule="evenodd" d="M5.600 2.400H14.400C16.700 2.400 18 3.700 18 5.600V7H18.500C18.800 7 19 7.200 19 7.500V10C19 10.300 18.800 10.500 18.500 10.500H18V18.100C18 18.800 17.500 19.300 16.800 19.300V20.700C16.800 21.150 16.450 21.500 16 21.500H15.300C14.850 21.500 14.500 21.150 14.500 20.700V19.300H5.500V20.700C5.500 21.150 5.150 21.500 4.700 21.500H4C3.550 21.500 3.200 21.150 3.200 20.700V19.300C2.500 19.300 2 18.800 2 18.100V10.500H1.500C1.200 10.500 1 10.300 1 10V7.500C1 7.200 1.200 7 1.500 7H2V5.600C2 3.700 3.300 2.400 5.600 2.400ZM4.200 6.100H15.800V12.400H4.200ZM5.600 15.600A1.150 1.150 0 1 0 5.600 17.900 1.150 1.150 0 1 0 5.600 15.600ZM14.400 15.600A1.150 1.150 0 1 0 14.400 17.900 1.150 1.150 0 1 0 14.400 15.600Z"/><rect x="6.200" y="3.900" width="7.600" height="1.100" fill="#d8d8d8"/></svg></div></div>
<div class="row" style="top:1695.01px"><div class="c n"><span class="t" style="transform:scaleX(0.9158);margin-left:-0.92px">Rím - mesto príbehov a umenia</span></div><div class="c d"><span class="t" style="transform:scaleX(0.9200)">30.10. - 02.11.</span></div><div class="c i"><svg class="ic" viewBox="0 0 20 23.53"><path transform="translate(0 .3)" d="M10 2.300C10.900 2.300 11.550 3.100 11.550 4.300V8.900L19 13.200C19.600 13.600 19.400 14.950 18.500 14.750L11.550 13.650 11.300 17.600 13.800 19.300C14.300 19.700 14.100 20.900 13.350 20.750L10 19.700 6.650 20.750C5.900 20.900 5.700 19.700 6.200 19.300L8.700 17.600 8.450 13.650 1.500 14.750C.6 14.950.4 13.600 1 13.200L8.450 8.900V4.300C8.450 3.100 9.100 2.300 10 2.300Z"/></svg></div></div>
<div class="row" style="top:1718.54px"><div class="c n"><span class="t" style="transform:scaleX(0.8816);margin-left:0px">Jednodňové zájazdy</span></div><div class="c d"><span class="t" style="transform:scaleX(0.9280)">web</span></div><div class="c i"></div></div>
<div class="row" style="top:1742.07px"><div class="c n"><span class="t" style="transform:scaleX(0.8983);margin-left:-0.9px">Predvianočné zájazdy</span></div><div class="c d"><span class="t" style="transform:scaleX(0.9280)">web</span></div><div class="c i"></div></div>
</section>
<div class="cmyk"><i style="background:#3fb4e6"></i><i style="background:#b0308c"></i><i style="background:#ffe45c"></i><i style="background:#111"></i></div>
<svg class="banner" width="1280" height="1897" viewBox="0 0 1280 1897" fill="none" stroke="#1c1c1c" stroke-width="2.7">
<path d="M351.650 1818.400H930" stroke-dasharray="7.4 7.300" stroke-dashoffset="6"/>
<path d="M351.650 1871.700H613.300" stroke-dasharray="7.4 7.300" stroke-dashoffset="9.650"/>
<path d="M667.700 1871.700H930" stroke-dasharray="7.4 7.300" stroke-dashoffset="2.300"/>
<path d="M353 1817V1822M353 1867.500V1873M928.600 1817V1822M928.600 1867.500V1873" stroke-width="2.5"/>
<path d="M353 1824.600V1866M928.600 1824.600V1866" stroke-width="2.5" stroke-dasharray="4.500 6.800"/>
<path d="M613.300 1871.700L640.400 1894.600 667.700 1871.700" stroke-width="2.5" stroke-dasharray="5.500 6" stroke-dashoffset="2"/>
</svg>
<div class="btxt"><span class="dots">...</span><span class="bw" style="left:395.8px">viac</span> <span class="bw" style="left:461.9px">informácii</span> <span class="bw" style="left:615.7px">na</span> <span class="bw" style="left:661.6px">www.turancar.s</span> <span class="bw" style="left:891.9px">k</span></div>
</div>
</body></html>
